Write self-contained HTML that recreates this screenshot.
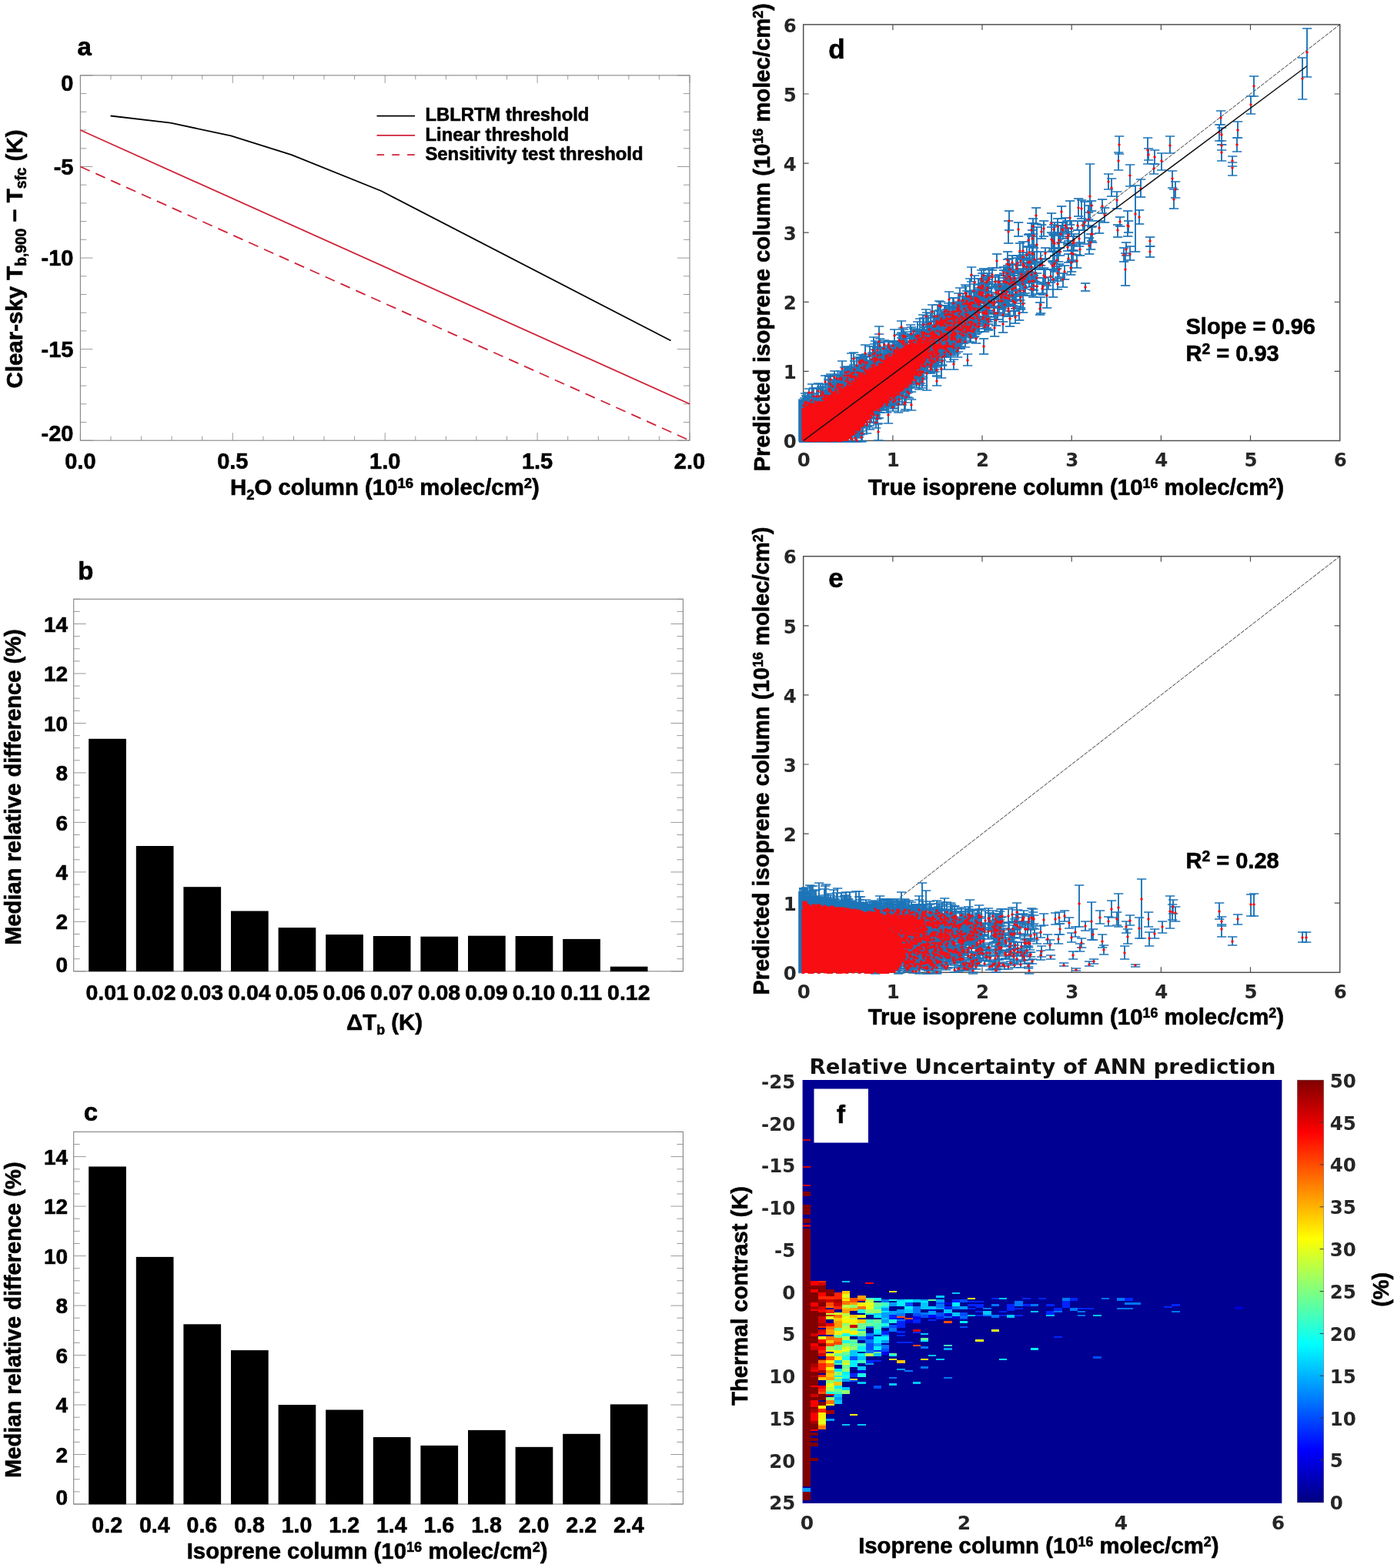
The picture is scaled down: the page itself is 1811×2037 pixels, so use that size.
<!DOCTYPE html>
<html lang="en">
<head>
<meta charset="utf-8">
<title>Figure: isoprene retrieval thresholds, sensitivity and ANN uncertainty</title>
<style>
html,body{margin:0;padding:0;background:#fff;}
body{width:1811px;height:2037px;overflow:hidden;}
svg{display:block;}
text{white-space:pre;}
</style>
</head>
<body>
<svg width="1811" height="2037" viewBox="0 0 1811 2037">
<rect width="1811" height="2037" fill="#fff"/>
<g id="panel-a">
<path d="M104.4 572.2v-10M104.4 97.9v10M144 572.2v-5.5M144 97.9v5.5M183.6 572.2v-5.5M183.6 97.9v5.5M223.1 572.2v-5.5M223.1 97.9v5.5M262.7 572.2v-5.5M262.7 97.9v5.5M302.3 572.2v-10M302.3 97.9v10M341.9 572.2v-5.5M341.9 97.9v5.5M381.5 572.2v-5.5M381.5 97.9v5.5M421 572.2v-5.5M421 97.9v5.5M460.6 572.2v-5.5M460.6 97.9v5.5M500.2 572.2v-10M500.2 97.9v10M539.8 572.2v-5.5M539.8 97.9v5.5M579.4 572.2v-5.5M579.4 97.9v5.5M618.9 572.2v-5.5M618.9 97.9v5.5M658.5 572.2v-5.5M658.5 97.9v5.5M698.1 572.2v-10M698.1 97.9v10M737.7 572.2v-5.5M737.7 97.9v5.5M777.3 572.2v-5.5M777.3 97.9v5.5M816.8 572.2v-5.5M816.8 97.9v5.5M856.4 572.2v-5.5M856.4 97.9v5.5M896 572.2v-10M896 97.9v10M104.4 97.9h16M896 97.9h-16M104.4 121.6h8M896 121.6h-8M104.4 145.3h8M896 145.3h-8M104.4 169h8M896 169h-8M104.4 192.8h8M896 192.8h-8M104.4 216.5h16M896 216.5h-16M104.4 240.2h8M896 240.2h-8M104.4 263.9h8M896 263.9h-8M104.4 287.6h8M896 287.6h-8M104.4 311.3h8M896 311.3h-8M104.4 335.1h16M896 335.1h-16M104.4 358.8h8M896 358.8h-8M104.4 382.5h8M896 382.5h-8M104.4 406.2h8M896 406.2h-8M104.4 429.9h8M896 429.9h-8M104.4 453.6h16M896 453.6h-16M104.4 477.3h8M896 477.3h-8M104.4 501.1h8M896 501.1h-8M104.4 524.8h8M896 524.8h-8M104.4 548.5h8M896 548.5h-8M104.4 572.2h16M896 572.2h-16" stroke="#9a9a9a" stroke-width="1" fill="none"/>
<rect x="104.4" y="97.9" width="791.6" height="474.3" fill="none" stroke="#858585" stroke-width="1.1"/>
<polyline points="143.6,150.5 221.6,159.6 299.9,176.4 378.7,201.1 495.1,248 871.5,442.5" fill="none" stroke="#000" stroke-width="1.8"/>
<line x1="104.4" y1="169" x2="896" y2="524.8" stroke="#cf2238" stroke-width="1.8"/>
<line x1="104.4" y1="216.5" x2="896" y2="572.2" stroke="#cf2238" stroke-width="1.8" stroke-dasharray="13.4 8.4"/>
<line x1="489.5" y1="150.7" x2="539" y2="150.7" stroke="#000" stroke-width="1.8"/>
<line x1="489.5" y1="175.9" x2="539" y2="175.9" stroke="#cf2238" stroke-width="1.8"/>
<line x1="489.5" y1="201.2" x2="539" y2="201.2" stroke="#cf2238" stroke-width="1.8" stroke-dasharray="9.6 10.2"/>
<text x="552.5" y="157" font-family="Liberation Sans, sans-serif" font-weight="bold" font-size="23.8" text-anchor="start" fill="#000" stroke="#000" stroke-width="0.6" stroke-linejoin="round">LBLRTM threshold</text>
<text x="552.5" y="183" font-family="Liberation Sans, sans-serif" font-weight="bold" font-size="23.8" text-anchor="start" fill="#000" stroke="#000" stroke-width="0.6" stroke-linejoin="round">Linear threshold</text>
<text x="552.5" y="207.9" font-family="Liberation Sans, sans-serif" font-weight="bold" font-size="23.8" text-anchor="start" fill="#000" stroke="#000" stroke-width="0.6" stroke-linejoin="round">Sensitivity test threshold</text>
<text x="104.4" y="609.3" font-family="Liberation Sans, sans-serif" font-weight="bold" font-size="29" text-anchor="middle" fill="#000" stroke="#000" stroke-width="0.6" stroke-linejoin="round">0.0</text>
<text x="302.3" y="609.3" font-family="Liberation Sans, sans-serif" font-weight="bold" font-size="29" text-anchor="middle" fill="#000" stroke="#000" stroke-width="0.6" stroke-linejoin="round">0.5</text>
<text x="500.2" y="609.3" font-family="Liberation Sans, sans-serif" font-weight="bold" font-size="29" text-anchor="middle" fill="#000" stroke="#000" stroke-width="0.6" stroke-linejoin="round">1.0</text>
<text x="698.1" y="609.3" font-family="Liberation Sans, sans-serif" font-weight="bold" font-size="29" text-anchor="middle" fill="#000" stroke="#000" stroke-width="0.6" stroke-linejoin="round">1.5</text>
<text x="896" y="609.3" font-family="Liberation Sans, sans-serif" font-weight="bold" font-size="29" text-anchor="middle" fill="#000" stroke="#000" stroke-width="0.6" stroke-linejoin="round">2.0</text>
<text x="95.5" y="118.4" font-family="Liberation Sans, sans-serif" font-weight="bold" font-size="29" text-anchor="end" fill="#000" stroke="#000" stroke-width="0.6" stroke-linejoin="round">0</text>
<text x="95.5" y="226.8" font-family="Liberation Sans, sans-serif" font-weight="bold" font-size="29" text-anchor="end" fill="#000" stroke="#000" stroke-width="0.6" stroke-linejoin="round">-5</text>
<text x="95.5" y="345.4" font-family="Liberation Sans, sans-serif" font-weight="bold" font-size="29" text-anchor="end" fill="#000" stroke="#000" stroke-width="0.6" stroke-linejoin="round">-10</text>
<text x="95.5" y="463.9" font-family="Liberation Sans, sans-serif" font-weight="bold" font-size="29" text-anchor="end" fill="#000" stroke="#000" stroke-width="0.6" stroke-linejoin="round">-15</text>
<text x="95.5" y="573.4" font-family="Liberation Sans, sans-serif" font-weight="bold" font-size="29" text-anchor="end" fill="#000" stroke="#000" stroke-width="0.6" stroke-linejoin="round">-20</text>
<text x="499.9" y="643" font-family="Liberation Sans, sans-serif" font-weight="bold" font-size="29.4" text-anchor="middle" fill="#000" stroke="#000" stroke-width="0.6" stroke-linejoin="round" textLength="402" lengthAdjust="spacingAndGlyphs"><tspan>H</tspan><tspan font-size="18.5" dy="5.5">2</tspan><tspan dy="-5.5">O column (10</tspan><tspan font-size="18.5" dy="-8.8">16</tspan><tspan dy="8.8"> molec/cm</tspan><tspan font-size="18.5" dy="-8.8">2</tspan><tspan dy="8.8">)</tspan></text>
<text transform="translate(29 336.5) rotate(-90)" font-family="Liberation Sans, sans-serif" font-weight="bold" font-size="30" text-anchor="middle" fill="#000" stroke="#000" stroke-width="0.6" stroke-linejoin="round" textLength="336" lengthAdjust="spacingAndGlyphs"><tspan>Clear-sky T</tspan><tspan font-size="19.5" dy="5">b,900</tspan><tspan dy="-5"> − T</tspan><tspan font-size="19.5" dy="5">sfc</tspan><tspan dy="-5"> (K)</tspan></text>
<text x="100.6" y="72" font-family="Liberation Sans, sans-serif" font-weight="bold" font-size="33" text-anchor="start" fill="#000" stroke="#000" stroke-width="0.6" stroke-linejoin="round">a</text>
</g>
<g id="panel-b">
<path d="M95.7 1261.8h16M887.4 1261.8h-16M95.7 1245.7h8M887.4 1245.7h-8M95.7 1229.6h8M887.4 1229.6h-8M95.7 1213.5h8M887.4 1213.5h-8M95.7 1197.3h16M887.4 1197.3h-16M95.7 1181.2h8M887.4 1181.2h-8M95.7 1165.1h8M887.4 1165.1h-8M95.7 1149h8M887.4 1149h-8M95.7 1132.9h16M887.4 1132.9h-16M95.7 1116.8h8M887.4 1116.8h-8M95.7 1100.6h8M887.4 1100.6h-8M95.7 1084.5h8M887.4 1084.5h-8M95.7 1068.4h16M887.4 1068.4h-16M95.7 1052.3h8M887.4 1052.3h-8M95.7 1036.2h8M887.4 1036.2h-8M95.7 1020h8M887.4 1020h-8M95.7 1003.9h16M887.4 1003.9h-16M95.7 987.8h8M887.4 987.8h-8M95.7 971.7h8M887.4 971.7h-8M95.7 955.6h8M887.4 955.6h-8M95.7 939.5h16M887.4 939.5h-16M95.7 923.3h8M887.4 923.3h-8M95.7 907.2h8M887.4 907.2h-8M95.7 891.1h8M887.4 891.1h-8M95.7 875h16M887.4 875h-16M95.7 858.9h8M887.4 858.9h-8M95.7 842.8h8M887.4 842.8h-8M95.7 826.6h8M887.4 826.6h-8M95.7 810.5h16M887.4 810.5h-16M95.7 794.4h8M887.4 794.4h-8M95.7 778.3h8M887.4 778.3h-8" stroke="#9a9a9a" stroke-width="1" fill="none"/>
<rect x="95.7" y="778.3" width="791.7" height="483.5" fill="none" stroke="#858585" stroke-width="1.1"/>
<rect x="115.2" y="959.8" width="48.7" height="302.3" fill="#000"/>
<rect x="176.8" y="1099" width="48.7" height="163.1" fill="#000"/>
<rect x="238.4" y="1152.2" width="48.7" height="109.9" fill="#000"/>
<rect x="300" y="1183.5" width="48.7" height="78.6" fill="#000"/>
<rect x="361.6" y="1205.1" width="48.7" height="57" fill="#000"/>
<rect x="423.2" y="1214.1" width="48.7" height="48" fill="#000"/>
<rect x="484.8" y="1216" width="48.7" height="46.1" fill="#000"/>
<rect x="546.4" y="1216.7" width="48.7" height="45.4" fill="#000"/>
<rect x="608" y="1215.7" width="48.7" height="46.4" fill="#000"/>
<rect x="669.6" y="1216" width="48.7" height="46.1" fill="#000"/>
<rect x="731.2" y="1219.9" width="48.7" height="42.2" fill="#000"/>
<rect x="792.8" y="1255.7" width="48.7" height="6.4" fill="#000"/>
<text x="139.2" y="1298.7" font-family="Liberation Sans, sans-serif" font-weight="bold" font-size="28.5" text-anchor="middle" fill="#000" stroke="#000" stroke-width="0.6" stroke-linejoin="round">0.01</text>
<text x="200.8" y="1298.7" font-family="Liberation Sans, sans-serif" font-weight="bold" font-size="28.5" text-anchor="middle" fill="#000" stroke="#000" stroke-width="0.6" stroke-linejoin="round">0.02</text>
<text x="262.4" y="1298.7" font-family="Liberation Sans, sans-serif" font-weight="bold" font-size="28.5" text-anchor="middle" fill="#000" stroke="#000" stroke-width="0.6" stroke-linejoin="round">0.03</text>
<text x="324" y="1298.7" font-family="Liberation Sans, sans-serif" font-weight="bold" font-size="28.5" text-anchor="middle" fill="#000" stroke="#000" stroke-width="0.6" stroke-linejoin="round">0.04</text>
<text x="385.6" y="1298.7" font-family="Liberation Sans, sans-serif" font-weight="bold" font-size="28.5" text-anchor="middle" fill="#000" stroke="#000" stroke-width="0.6" stroke-linejoin="round">0.05</text>
<text x="447.2" y="1298.7" font-family="Liberation Sans, sans-serif" font-weight="bold" font-size="28.5" text-anchor="middle" fill="#000" stroke="#000" stroke-width="0.6" stroke-linejoin="round">0.06</text>
<text x="508.8" y="1298.7" font-family="Liberation Sans, sans-serif" font-weight="bold" font-size="28.5" text-anchor="middle" fill="#000" stroke="#000" stroke-width="0.6" stroke-linejoin="round">0.07</text>
<text x="570.4" y="1298.7" font-family="Liberation Sans, sans-serif" font-weight="bold" font-size="28.5" text-anchor="middle" fill="#000" stroke="#000" stroke-width="0.6" stroke-linejoin="round">0.08</text>
<text x="632" y="1298.7" font-family="Liberation Sans, sans-serif" font-weight="bold" font-size="28.5" text-anchor="middle" fill="#000" stroke="#000" stroke-width="0.6" stroke-linejoin="round">0.09</text>
<text x="693.6" y="1298.7" font-family="Liberation Sans, sans-serif" font-weight="bold" font-size="28.5" text-anchor="middle" fill="#000" stroke="#000" stroke-width="0.6" stroke-linejoin="round">0.10</text>
<text x="755.2" y="1298.7" font-family="Liberation Sans, sans-serif" font-weight="bold" font-size="28.5" text-anchor="middle" fill="#000" stroke="#000" stroke-width="0.6" stroke-linejoin="round">0.11</text>
<text x="816.8" y="1298.7" font-family="Liberation Sans, sans-serif" font-weight="bold" font-size="28.5" text-anchor="middle" fill="#000" stroke="#000" stroke-width="0.6" stroke-linejoin="round">0.12</text>
<text x="88.1" y="1262.7" font-family="Liberation Sans, sans-serif" font-weight="bold" font-size="28" text-anchor="end" fill="#000" stroke="#000" stroke-width="0.6" stroke-linejoin="round">0</text>
<text x="88.1" y="1207.4" font-family="Liberation Sans, sans-serif" font-weight="bold" font-size="28" text-anchor="end" fill="#000" stroke="#000" stroke-width="0.6" stroke-linejoin="round">2</text>
<text x="88.1" y="1143" font-family="Liberation Sans, sans-serif" font-weight="bold" font-size="28" text-anchor="end" fill="#000" stroke="#000" stroke-width="0.6" stroke-linejoin="round">4</text>
<text x="88.1" y="1078.5" font-family="Liberation Sans, sans-serif" font-weight="bold" font-size="28" text-anchor="end" fill="#000" stroke="#000" stroke-width="0.6" stroke-linejoin="round">6</text>
<text x="88.1" y="1014" font-family="Liberation Sans, sans-serif" font-weight="bold" font-size="28" text-anchor="end" fill="#000" stroke="#000" stroke-width="0.6" stroke-linejoin="round">8</text>
<text x="88.1" y="949.6" font-family="Liberation Sans, sans-serif" font-weight="bold" font-size="28" text-anchor="end" fill="#000" stroke="#000" stroke-width="0.6" stroke-linejoin="round">10</text>
<text x="88.1" y="885.1" font-family="Liberation Sans, sans-serif" font-weight="bold" font-size="28" text-anchor="end" fill="#000" stroke="#000" stroke-width="0.6" stroke-linejoin="round">12</text>
<text x="88.1" y="820.6" font-family="Liberation Sans, sans-serif" font-weight="bold" font-size="28" text-anchor="end" fill="#000" stroke="#000" stroke-width="0.6" stroke-linejoin="round">14</text>
<text x="499.5" y="1337.6" font-family="Liberation Sans, sans-serif" font-weight="bold" font-size="29.2" text-anchor="middle" fill="#000" stroke="#000" stroke-width="0.6" stroke-linejoin="round" textLength="99" lengthAdjust="spacingAndGlyphs"><tspan>ΔT</tspan><tspan font-size="17.6" dy="6.2">b</tspan><tspan dy="-6.2"> (K)</tspan></text>
<text transform="translate(26.9 1022.5) rotate(-90)" font-family="Liberation Sans, sans-serif" font-weight="bold" font-size="29.2" text-anchor="middle" fill="#000" stroke="#000" stroke-width="0.6" stroke-linejoin="round" textLength="410.6" lengthAdjust="spacingAndGlyphs">Median relative difference (%)</text>
<text x="101.2" y="753.2" font-family="Liberation Sans, sans-serif" font-weight="bold" font-size="33" text-anchor="start" fill="#000" stroke="#000" stroke-width="0.6" stroke-linejoin="round">b</text>
</g>
<g id="panel-c">
<path d="M95.7 1954h16M887.4 1954h-16M95.7 1937.9h8M887.4 1937.9h-8M95.7 1921.8h8M887.4 1921.8h-8M95.7 1905.6h8M887.4 1905.6h-8M95.7 1889.5h16M887.4 1889.5h-16M95.7 1873.4h8M887.4 1873.4h-8M95.7 1857.3h8M887.4 1857.3h-8M95.7 1841.2h8M887.4 1841.2h-8M95.7 1825h16M887.4 1825h-16M95.7 1808.9h8M887.4 1808.9h-8M95.7 1792.8h8M887.4 1792.8h-8M95.7 1776.7h8M887.4 1776.7h-8M95.7 1760.6h16M887.4 1760.6h-16M95.7 1744.4h8M887.4 1744.4h-8M95.7 1728.3h8M887.4 1728.3h-8M95.7 1712.2h8M887.4 1712.2h-8M95.7 1696.1h16M887.4 1696.1h-16M95.7 1680h8M887.4 1680h-8M95.7 1663.8h8M887.4 1663.8h-8M95.7 1647.7h8M887.4 1647.7h-8M95.7 1631.6h16M887.4 1631.6h-16M95.7 1615.5h8M887.4 1615.5h-8M95.7 1599.4h8M887.4 1599.4h-8M95.7 1583.2h8M887.4 1583.2h-8M95.7 1567.1h16M887.4 1567.1h-16M95.7 1551h8M887.4 1551h-8M95.7 1534.9h8M887.4 1534.9h-8M95.7 1518.8h8M887.4 1518.8h-8M95.7 1502.6h16M887.4 1502.6h-16M95.7 1486.5h8M887.4 1486.5h-8M95.7 1470.4h8M887.4 1470.4h-8" stroke="#9a9a9a" stroke-width="1" fill="none"/>
<rect x="95.7" y="1470.4" width="791.7" height="483.6" fill="none" stroke="#858585" stroke-width="1.1"/>
<rect x="115.2" y="1515.5" width="48.7" height="438.8" fill="#000"/>
<rect x="176.8" y="1632.9" width="48.7" height="321.4" fill="#000"/>
<rect x="238.4" y="1720.3" width="48.7" height="234" fill="#000"/>
<rect x="300" y="1754.1" width="48.7" height="200.2" fill="#000"/>
<rect x="361.6" y="1825" width="48.7" height="129.3" fill="#000"/>
<rect x="423.2" y="1831.5" width="48.7" height="122.8" fill="#000"/>
<rect x="484.8" y="1867" width="48.7" height="87.3" fill="#000"/>
<rect x="546.4" y="1877.9" width="48.7" height="76.4" fill="#000"/>
<rect x="608" y="1857.9" width="48.7" height="96.4" fill="#000"/>
<rect x="669.6" y="1879.8" width="48.7" height="74.5" fill="#000"/>
<rect x="731.2" y="1862.8" width="48.7" height="91.5" fill="#000"/>
<rect x="792.8" y="1824.4" width="48.7" height="129.9" fill="#000"/>
<text x="139.2" y="1990.6" font-family="Liberation Sans, sans-serif" font-weight="bold" font-size="28.6" text-anchor="middle" fill="#000" stroke="#000" stroke-width="0.6" stroke-linejoin="round">0.2</text>
<text x="200.8" y="1990.6" font-family="Liberation Sans, sans-serif" font-weight="bold" font-size="28.6" text-anchor="middle" fill="#000" stroke="#000" stroke-width="0.6" stroke-linejoin="round">0.4</text>
<text x="262.4" y="1990.6" font-family="Liberation Sans, sans-serif" font-weight="bold" font-size="28.6" text-anchor="middle" fill="#000" stroke="#000" stroke-width="0.6" stroke-linejoin="round">0.6</text>
<text x="324" y="1990.6" font-family="Liberation Sans, sans-serif" font-weight="bold" font-size="28.6" text-anchor="middle" fill="#000" stroke="#000" stroke-width="0.6" stroke-linejoin="round">0.8</text>
<text x="385.6" y="1990.6" font-family="Liberation Sans, sans-serif" font-weight="bold" font-size="28.6" text-anchor="middle" fill="#000" stroke="#000" stroke-width="0.6" stroke-linejoin="round">1.0</text>
<text x="447.2" y="1990.6" font-family="Liberation Sans, sans-serif" font-weight="bold" font-size="28.6" text-anchor="middle" fill="#000" stroke="#000" stroke-width="0.6" stroke-linejoin="round">1.2</text>
<text x="508.8" y="1990.6" font-family="Liberation Sans, sans-serif" font-weight="bold" font-size="28.6" text-anchor="middle" fill="#000" stroke="#000" stroke-width="0.6" stroke-linejoin="round">1.4</text>
<text x="570.4" y="1990.6" font-family="Liberation Sans, sans-serif" font-weight="bold" font-size="28.6" text-anchor="middle" fill="#000" stroke="#000" stroke-width="0.6" stroke-linejoin="round">1.6</text>
<text x="632" y="1990.6" font-family="Liberation Sans, sans-serif" font-weight="bold" font-size="28.6" text-anchor="middle" fill="#000" stroke="#000" stroke-width="0.6" stroke-linejoin="round">1.8</text>
<text x="693.6" y="1990.6" font-family="Liberation Sans, sans-serif" font-weight="bold" font-size="28.6" text-anchor="middle" fill="#000" stroke="#000" stroke-width="0.6" stroke-linejoin="round">2.0</text>
<text x="755.2" y="1990.6" font-family="Liberation Sans, sans-serif" font-weight="bold" font-size="28.6" text-anchor="middle" fill="#000" stroke="#000" stroke-width="0.6" stroke-linejoin="round">2.2</text>
<text x="816.8" y="1990.6" font-family="Liberation Sans, sans-serif" font-weight="bold" font-size="28.6" text-anchor="middle" fill="#000" stroke="#000" stroke-width="0.6" stroke-linejoin="round">2.4</text>
<text x="88.1" y="1954.9" font-family="Liberation Sans, sans-serif" font-weight="bold" font-size="28" text-anchor="end" fill="#000" stroke="#000" stroke-width="0.6" stroke-linejoin="round">0</text>
<text x="88.1" y="1899.6" font-family="Liberation Sans, sans-serif" font-weight="bold" font-size="28" text-anchor="end" fill="#000" stroke="#000" stroke-width="0.6" stroke-linejoin="round">2</text>
<text x="88.1" y="1835.1" font-family="Liberation Sans, sans-serif" font-weight="bold" font-size="28" text-anchor="end" fill="#000" stroke="#000" stroke-width="0.6" stroke-linejoin="round">4</text>
<text x="88.1" y="1770.7" font-family="Liberation Sans, sans-serif" font-weight="bold" font-size="28" text-anchor="end" fill="#000" stroke="#000" stroke-width="0.6" stroke-linejoin="round">6</text>
<text x="88.1" y="1706.2" font-family="Liberation Sans, sans-serif" font-weight="bold" font-size="28" text-anchor="end" fill="#000" stroke="#000" stroke-width="0.6" stroke-linejoin="round">8</text>
<text x="88.1" y="1641.7" font-family="Liberation Sans, sans-serif" font-weight="bold" font-size="28" text-anchor="end" fill="#000" stroke="#000" stroke-width="0.6" stroke-linejoin="round">10</text>
<text x="88.1" y="1577.2" font-family="Liberation Sans, sans-serif" font-weight="bold" font-size="28" text-anchor="end" fill="#000" stroke="#000" stroke-width="0.6" stroke-linejoin="round">12</text>
<text x="88.1" y="1512.7" font-family="Liberation Sans, sans-serif" font-weight="bold" font-size="28" text-anchor="end" fill="#000" stroke="#000" stroke-width="0.6" stroke-linejoin="round">14</text>
<text x="477.1" y="2025.2" font-family="Liberation Sans, sans-serif" font-weight="bold" font-size="29.2" text-anchor="middle" fill="#000" stroke="#000" stroke-width="0.6" stroke-linejoin="round" textLength="468.8" lengthAdjust="spacingAndGlyphs"><tspan>Isoprene column (10</tspan><tspan font-size="18" dy="-8.8">16</tspan><tspan dy="8.8"> molec/cm</tspan><tspan font-size="18" dy="-8.8">2</tspan><tspan dy="8.8">)</tspan></text>
<text transform="translate(26.9 1714.7) rotate(-90)" font-family="Liberation Sans, sans-serif" font-weight="bold" font-size="29.2" text-anchor="middle" fill="#000" stroke="#000" stroke-width="0.6" stroke-linejoin="round" textLength="410.6" lengthAdjust="spacingAndGlyphs">Median relative difference (%)</text>
<text x="108.7" y="1455.5" font-family="Liberation Sans, sans-serif" font-weight="bold" font-size="33" text-anchor="start" fill="#000" stroke="#000" stroke-width="0.6" stroke-linejoin="round">c</text>
</g>
<g id="panel-d">
<path d="M1159.9 572.5v-7M1159.9 31.9v7M1043.7 482.4h7M1740.7 482.4h-7M1276 572.5v-7M1276 31.9v7M1043.7 392.3h7M1740.7 392.3h-7M1392.2 572.5v-7M1392.2 31.9v7M1043.7 302.2h7M1740.7 302.2h-7M1508.4 572.5v-7M1508.4 31.9v7M1043.7 212.1h7M1740.7 212.1h-7M1624.5 572.5v-7M1624.5 31.9v7M1043.7 122h7M1740.7 122h-7" stroke="#505050" stroke-width="1.2" fill="none"/>
<rect x="1043.7" y="31.9" width="697" height="540.6" fill="none" stroke="#505050" stroke-width="1.5"/>
<line x1="1043.7" y1="572.5" x2="1740.7" y2="31.9" stroke="#222" stroke-width="0.9" stroke-dasharray="5 1.6"/>
<clipPath id="cd"><rect x="1035.7" y="31.9" width="705" height="543.6"/></clipPath>
<g clip-path="url(#cd)">
<marker id="capd" markerUnits="userSpaceOnUse" markerWidth="13" markerHeight="2" refX="6.3" refY="1" orient="0"><path d="M0 1h12.6" stroke="#1d74b8" stroke-width="1.7"/></marker>
<path d="m1044 521v13m0 12v28m0-21v21m0-19v18m0-20v21m0-18v17m0-19v20m0-17v16m0-16v17m0-31v31m0-12v11m0-17v18m0-34v34m0-13v13m0-12v12m0-12v12m0-15v15m0-11v11m0-12v12m0-24v24m0-15v15m0-10v10m0-15v15m0-15v15m0-15v15m0-14v14m0-9v9m0-12v12m0-15v15m0-11v11m0-14v14m0-12v12m0-10v10m0-10v10m0-14v14m0-9v9m0-16v16m0-11v11m0-9v9m0-10v10m0-18v18m0-9v9m0-9v9m0-13v13m0-14v14m0-9v9m0-14v14m0-14v14m0-13v13m0-9v9m0-11v11m0-15v15m0-13v13m0-13v13m0-12v12m0-8v8m0-8v8m0-15v15m0-10v10m0-11v11m0-9v9m0-10v10m0-14v14m0-11v11m0-12v12m0-12v12m0-24v24m0-12v12m0-12v12m0-13v13m0-12v12m0-7v7m0-14v14m0-14v14m0-16v16m0-11v11m0-9v9m0-12v12m0-8v8m0-11v11m0-11v11m0-12v12m0-14v14m0-12v12m0-12v12m0-7v7m0-8v8m0-9v9m0-8v8m0-9v9m0-14v14m0-8v8m0-9v9m0-11v11m0-13v13m0-9v9m0-8v8m0-14v14m0-12v12m0-10v10m0-13v13m0-7v7m0-9v9m0-8v8m0-8v8m0-13v13m0-7v7m0-7v7m0-12v12m0-11v11m0-13v13m0-8v8m0-10v10m0-8v8m0-11v11m0-13v13m0-11v11m0-8v8m0-9v9m0-9v9m1-57v17m0-14v22m0-14v15m0-17v20m0-20v22m0-20v19m0-12v39m0-26v26m0-22v21m0-22v22m0-22v23m0-20v20m0-21v21m0-19v18m0-20v21m0-17v17m0-15v14m0-17v18m0-16v16m0-19v19m0-18v18m0-15v15m0-14v14m0-17v17m0-13v12m0-14v15m0-13v13m0-13v13m0-14v14m0-16v16m0-17v17m0-16v16m0-12v12m0-14v14m0-13v13m0-11v11m0-14v14m0-10v10m0-15v15m0-10v10m0-10v10m0-30v30m0-10v10m0-12v12m0-15v15m0-12v12m0-12v12m0-15v15m0-10v10m0-10v10m0-33v33m0-11v11m0-15v15m0-14v14m0-14v14m0-10v10m0-9v9m0-12v12m0-10v10m0-9v9m0-12v12m0-9v9m0-10v10m0-13v13m0-10v10m0-11v11m0-13v13m0-15v15m0-14v14m0-10v10m0-12v12m0-9v9m0-11v11m0-8v8m0-12v12m0-13v13m0-11v11m0-15v15m0-14v14m0-12v12m0-13v13m0-10v10m0-8v8m0-8v8m0-9v9m0-8v8m0-8v8m0-13v13m0-11v11m0-11v11m0-13v13m0-9v9m0-15v15m0-11v11m0-10v10m0-18v18m0-14v14m0-13v13m0-20v20m0-11v11m0-12v12m0-11v11m0-15v15m0-12v12m0-7v7m0-12v12m0-14v14m0-8v8m0-13v13m0-10v10m0-13v13m0-11v11m0-11v11m0-13v13m0-8v8m0-8v8m0-12v12m0-13v13m0-7v7m0-12v12m0-13v13m0-12v12m0-11v11m0-14v14m0-9v9m0-10v10m0-9v9m0-13v13m0-8v8m0-7v7m0-9v9m0-12v12m0-17v17m0-10v10m0-7v7m0-11v11m0-8v8m0-6v6m0-10v10m0-8v8m0-11v11m0-9v9m1-63v23m0-11v23m0-20v48m0-35v35m0-39v39m0-23v23m0-21v20m0-19v19m0-21v22m0-20v20m0-19v19m0-19v19m0-19v19m0-24v24m0-15v14m0-15v16m0-23v23m0-16v16m0-30v30m0-18v18m0-14v14m0-14v14m0-15v15m0-21v21m0-13v13m0-13v13m0-11v10m0-15v16m0-12v12m0-13v13m0-13v13m0-11v11m0-11v11m0-12v12m0-14v14m0-11v11m0-13v13m0-10v10m0-11v11m0-9v9m0-12v12m0-10v10m0-14v14m0-12v12m0-13v13m0-14v14m0-13v13m0-10v10m0-9v9m0-16v16m0-13v13m0-9v9m0-11v11m0-13v13m0-11v11m0-15v15m0-11v11m0-14v14m0-9v9m0-10v10m0-12v12m0-15v15m0-9v9m0-15v15m0-8v8m0-12v12m0-13v13m0-8v8m0-10v10m0-14v14m0-12v12m0-10v10m0-14v14m0-10v10m0-9v9m0-28v28m0-9v9m0-7v7m0-13v13m0-12v12m0-8v8m0-14v14m0-9v9m0-8v8m0-13v13m0-7v7m0-10v10m0-9v9m0-13v13m0-11v11m0-11v11m0-9v9m0-13v13m0-14v14m0-11v11m0-13v13m0-11v11m0-10v10m0-10v10m0-10v10m0-13v13m0-9v9m0-10v10m0-8v8m0-13v13m0-7v7m0-10v10m0-10v10m0-8v8m0-10v10m0-12v12m0-12v12m0-13v13m0-9v9m0-11v11m0-11v11m0-12v12m0-8v8m1-60v16m0-11v54m0-42v43m0-34v34m0-24v23m0-19v20m0-21v21m0-19v19m0-20v20m0-19v19m0-19v19m0-15v15m0-14v14m0-18v18m0-29v29m0-13v13m0-16v16m0-14v14m0-14v14m0-14v14m0-11v11m0-16v16m0-28v28m0-14v14m0-14v14m0-11v11m0-12v12m0-13v13m0-15v15m0-12v12m0-15v15m0-10v10m0-14v14m0-28v28m0-11v11m0-10v10m0-14v14m0-12v12m0-10v10m0-12v12m0-14v14m0-17v17m0-14v14m0-9v9m0-15v15m0-12v12m0-10v10m0-12v12m0-12v12m0-11v11m0-9v9m0-8v8m0-11v11m0-15v15m0-9v9m0-8v8m0-13v13m0-11v11m0-8v8m0-12v12m0-8v8m0-11v11m0-9v9m0-8v8m0-11v11m0-11v11m0-13v13m0-14v14m0-10v10m0-13v13m0-11v11m0-10v10m0-13v13m0-8v8m0-10v10m0-14v14m0-8v8m0-13v13m0-8v8m0-12v12m0-9v9m0-17v17m0-14v14m0-11v11m0-12v12m0-10v10m0-12v12m0-8v8m0-8v8m0-12v12m0-10v10m0-26v26m0-7v7m0-11v11m0-7v7m0-13v13m0-12v12m0-11v11m0-11v11m0-13v13m0-13v13m0-8v8m0-13v13m0-24v24m0-10v10m0-13v13m0-7v7m0-7v7m0-13v13m0-7v7m0-8v8m0-8v8m0-10v10m0-9v9m0-7v7m0-10v10m0-12v12m1-59v18m0-18v33m0 0v26m0-21v21m0-22v22m0-19v18m0-17v17m0-17v18m0-18v18m0-17v17m0-16v16m0-13v12m0-14v15m0-17v17m0-13v13m0-16v16m0-17v17m0-17v17m0-11v11m0-12v12m0-17v17m0-17v17m0-10v9m0-14v15m0-16v16m0-14v14m0-14v14m0-10v10m0-13v13m0-14v14m0-11v11m0-12v12m0-10v10m0-14v14m0-12v12m0-11v11m0-14v14m0-9v9m0-15v15m0-11v11m0-26v26m0-11v11m0-10v10m0-14v14m0-10v10m0-13v13m0-9v9m0-12v12m0-12v12m0-14v14m0-14v14m0-9v9m0-15v15m0-10v10m0-13v13m0-10v10m0-12v12m0-9v9m0-9v9m0-14v14m0-11v11m0-14v14m0-14v14m0-13v13m0-9v9m0-11v11m0-9v9m0-15v15m0-13v13m0-10v10m0-11v11m0-9v9m0-14v14m0-16v16m0-13v13m0-7v7m0-13v13m0-12v12m0-13v13m0-19v19m0-11v11m0-12v12m0-14v14m0-13v13m0-11v11m0-11v11m0-10v10m0-10v10m0-7v7m0-20v20m0-8v8m0-13v13m0-7v7m0-13v13m0-9v9m0-8v8m0-11v11m0-7v7m0-23v23m0-13v13m0-8v8m0-13v13m0-12v12m0-11v11m0-9v9m0-12v12m0-12v12m0-8v8m0-12v12m0-8v8m0-10v10m0-12v12m0-13v13m0-11v11m0-6v6m0-17v17m0-13v13m0-28v28m0-7v7m1-64v50m0-34v19m0-16v45m0-44v44m0-22v21m0-21v22m0-22v22m0-20v20m0-31v31m0-18v18m0-33v33m0-17v17m0-14v14m0-17v17m0-12v12m0-11v10m0-15v16m0-12v12m0-16v16m0-11v11m0-16v16m0-10v10m0-14v14m0-15v15m0-11v11m0-14v14m0-13v13m0-10v10m0-8v8m0-11v11m0-12v12m0-11v11m0-11v11m0-15v15m0-26v26m0-11v11m0-13v13m0-9v9m0-15v15m0-13v13m0-12v12m0-10v10m0-12v12m0-8v8m0-11v11m0-11v11m0-13v13m0-9v9m0-10v10m0-8v8m0-14v14m0-8v8m0-10v10m0-12v12m0-12v12m0-11v11m0-13v13m0-13v13m0-8v8m0-9v9m0-9v9m0-12v12m0-9v9m0-10v10m0-12v12m0-14v14m0-10v10m0-8v8m0-11v11m0-11v11m0-9v9m0-8v8m0-14v14m0-12v12m0-11v11m0-14v14m0-16v16m0-8v8m0-10v10m0-8v8m0-12v12m0-13v13m0-7v7m0-8v8m0-7v7m0-7v7m0-13v13m0-8v8m0-14v14m0-7v7m0-11v11m0-11v11m0-8v8m1-57v54m0-38v41m0-41v41m0-22v22m0-20v20m0-18v18m0-19v19m0-17v17m0-33v33m0-18v18m0-17v17m0-31v31m0-18v18m0-21v21m0-14v14m0-16v16m0-16v16m0-14v14m0-17v17m0-14v14m0-13v13m0-11v11m0-15v15m0-11v11m0-12v12m0-10v10m0-13v13m0-11v11m0-15v15m0-13v13m0-10v10m0-9v9m0-15v15m0-11v11m0-10v10m0-13v13m0-15v15m0-10v10m0-8v8m0-12v12m0-9v9m0-17v17m0-11v11m0-14v14m0-14v14m0-9v9m0-9v9m0-12v12m0-10v10m0-11v11m0-8v8m0-14v14m0-11v11m0-12v12m0-9v9m0-12v12m0-13v13m0-15v15m0-8v8m0-9v9m0-8v8m0-14v14m0-8v8m0-14v14m0-13v13m0-13v13m0-12v12m0-14v14m0-9v9m0-29v29m0-11v11m0-8v8m0-7v7m0-9v9m0-9v9m0-14v14m0-13v13m0-12v12m0-8v8m0-13v13m0-10v10m0-30v30m0-12v12m0-7v7m0-13v13m0-12v12m0-7v7m0-8v8m0-11v11m0-10v10m0-11v11m0-13v13m0-12v12m0-12v12m1-69v10m0 2v20m0-16v16m0 16v21m0-35v35m0-20v20m0-20v20m0-19v19m0-20v20m0-18v18m0-18v18m0-18v18m0-16v16m0-30v30m0-15v15m0-15v15m0-17v17m0-18v18m0-17v17m0-14v14m0-16v16m0-15v15m0-19v19m0-12v12m0-14v14m0-13v13m0-11v11m0-16v16m0-12v12m0-16v16m0-12v12m0-13v13m0-16v16m0-26v26m0-15v15m0-14v14m0-13v13m0-13v13m0-10v10m0-9v9m0-12v12m0-14v14m0-15v15m0-13v13m0-13v13m0-15v15m0-11v11m0-12v12m0-15v15m0-11v11m0-11v11m0-10v10m0-13v13m0-13v13m0-9v9m0-11v11m0-9v9m0-14v14m0-11v11m0-10v10m0-14v14m0-12v12m0-13v13m0-14v14m0-8v8m0-9v9m0-10v10m0-14v14m0-17v17m0-14v14m0-12v12m0-11v11m0-8v8m0-8v8m0-8v8m0-8v8m0-9v9m0-8v8m0-14v14m0-12v12m0-12v12m0-12v12m0-8v8m0-11v11m0-13v13m0-12v12m0-13v13m0-8v8m0-13v13m0-13v13m0-11v11m0-10v10m0-8v8m0-9v9m0-12v12m0-13v13m0-8v8m0-8v8m0-13v13m0-10v10m1-37v37m0-22v22m0-21v21m0-20v20m0-20v20m0-19v19m0-18v18m0-19v19m0-18v18m0-22v22m0-18v18m0-17v17m0-17v17m0-16v16m0-17v17m0-18v18m0-35v35m0-18v18m0-14v14m0-17v17m0-16v16m0-14v14m0-13v13m0-11v11m0-12v12m0-13v13m0-12v12m0-16v16m0-10v10m0-12v12m0-12v12m0-9v9m0-14v14m0-13v13m0-19v19m0-9v9m0-11v11m0-15v15m0-15v15m0-15v15m0-10v10m0-15v15m0-11v11m0-10v10m0-11v11m0-10v10m0-27v27m0-10v10m0-14v14m0-14v14m0-13v13m0-15v15m0-13v13m0-14v14m0-13v13m0-8v8m0-8v8m0-13v13m0-13v13m0-8v8m0-10v10m0-14v14m0-13v13m0-12v12m0-12v12m0-11v11m0-9v9m0-12v12m0-12v12m0-12v12m0-8v8m0-9v9m0-9v9m0-9v9m0-12v12m0-20v20m0-25v25m0-13v13m0-11v11m0-14v14m0-9v9m0-13v13m0-9v9m0-6v6m0-12v12m0-7v7m0-11v11m0-11v11m0-7v7m0-10v10m1-36v36m0-20v20m0-21v21m0-20v20m0-20v20m0-25v25m0-32v32m0-17v17m0-19v19m0-17v17m0-16v16m0-29v29m0-13v13m0-16v16m0-13v13m0-16v16m0-17v17m0-14v14m0-20v20m0-11v11m0-11v11m0-16v16m0-14v14m0-14v14m0-9v9m0-16v16m0-11v11m0-9v9m0-12v12m0-14v14m0-13v13m0-11v11m0-13v13m0-10v10m0-12v12m0-15v15m0-20v20m0-9v9m0-10v10m0-14v14m0-13v13m0-12v12m0-11v11m0-15v15m0-12v12m0-9v9m0-12v12m0-11v11m0-10v10m0-12v12m0-9v9m0-12v12m0-13v13m0-11v11m0-13v13m0-11v11m0-11v11m0-13v13m0-12v12m0-13v13m0-10v10m0-9v9m0-8v8m0-11v11m0-9v9m0-12v12m0-11v11m0-11v11m0-13v13m0-9v9m0-12v12m0-10v10m0-12v12m0-8v8m0-8v8m1-62v15m0 4v43m0-22v22m0-21v21m0-23v23m0-19v19m0-18v18m0-16v16m0-17v17m0-33v33m0-16v16m0-13v13m0-14v14m0-13v13m0-10v10m0-15v15m0-13v13m0-10v10m0-11v11m0-8v8m0-26v26m0-12v12m0-15v15m0-15v15m0-14v14m0-11v11m0-13v13m0-26v26m0-13v13m0-14v14m0-15v15m0-10v10m0-11v11m0-8v8m0-10v10m0-12v12m0-27v27m0-8v8m0-12v12m0-12v12m0-7v7m0-8v8m0-13v13m0-13v13m0-11v11m0-8v8m0-12v12m0-10v10m0-18v18m0-10v10m0-12v12m0-6v6m1-75v21m0 1v12m0-13v21m0-18v15m0-18v21m0-18v21m0-11v41m0-43v43m0-41v41m0-33v33m0-29v29m0-22v22m0-20v20m0-20v20m0-16v16m0-18v18m0-16v16m0-13v13m0-12v12m0-13v13m0-13v13m0-14v14m0-15v15m0-15v15m0-9v9m0-15v15m0-12v12m0-14v14m0-13v13m0-14v14m0-13v13m0-9v9m0-13v13m0-10v10m0-14v14m0-17v17m0-13v13m0-10v10m0-9v9m0-19v19m0-12v12m0-26v26m0-9v9m0-13v13m0-10v10m0-12v12m0-8v8m0-10v10m0-12v12m0-10v10m0-13v13m0-13v13m0-14v14m0-12v12m0-14v14m0-10v10m0-16v16m0-12v12m0-9v9m0-12v12m0-7v7m0-11v11m0-10v10m0-13v13m0-8v8m0-8v8m0-6v6m0-13v13m0-9v9m1-63v44m0-38v57m0-43v43m0-31v31m0-18v18m0-18v18m0-19v19m0-19v19m0-17v17m0-19v19m0-32v32m0-16v16m0-16v16m0-18v18m0-18v18m0-18v18m0-14v14m0-17v17m0-32v32m0-15v15m0-17v17m0-13v13m0-17v17m0-11v11m0-14v14m0-11v11m0-11v11m0-12v12m0-12v12m0-24v24m0-13v13m0-14v14m0-14v14m0-12v12m0-9v9m0-14v14m0-12v12m0-32v32m0-9v9m0-11v11m0-13v13m0-11v11m0-12v12m0-13v13m0-13v13m0-27v27m0-14v14m0-13v13m0-31v31m0-12v12m0-8v8m0-11v11m0-12v12m0-8v8m0-14v14m0-11v11m0-8v8m0-11v11m0-9v9m0-9v9m0-10v10m0-10v10m0-11v11m0-11v11m0-11v11m0-24v24m0-8v8m0-22v22m0-13v13m0-8v8m0-7v7m0-11v11m1-70v22m0-11v19m0-18v19m0-14v16m0-14v22m0-14v43m0-40v40m0-23v23m0-22v22m0-21v21m0-20v20m0-21v21m0-19v19m0-35v35m0-16v16m0-14v14m0-16v16m0-17v17m0-11v11m0-13v13m0-12v12m0-13v13m0-10v10m0-10v10m0-8v8m0-10v10m0-9v9m0-12v12m0-13v13m0-15v15m0-10v10m0-11v11m0-11v11m0-9v9m0-9v9m0-8v8m0-11v11m0-11v11m0-10v10m0-7v7m0-12v12m0-8v8m0-24v24m0-12v12m0-9v9m0-10v10m0-8v8m0-9v9m0-8v8m0-13v13m0-10v10m0-13v13m0-12v12m0-13v13m0-18v18m0-12v12m0-9v9m0-11v11m0-12v12m0-10v10m0-12v12m0-11v11m1-44v44m0-21v21m0-36v36m0-19v19m0-15v15m0-19v19m0-26v26m0-15v15m0-15v15m0-17v17m0-13v13m0-32v32m0-12v12m0-10v10m0-16v16m0-11v11m0-15v15m0-25v25m0-11v11m0-9v9m0-31v31m0-12v12m0-10v10m0-15v15m0-27v27m0-13v13m0-15v15m0-13v13m0-12v12m0-13v13m0-10v10m0-11v11m0-11v11m0-11v11m0-10v10m0-25v25m0-8v8m0-8v8m0-11v11m0-8v8m0-8v8m0-12v12m0-8v8m0-13v13m0-11v11m0-13v13m0-10v10m0-11v11m0-11v11m0-9v9m0-13v13m0-11v11m1-58v13m0-5v10m0-14v20m0-8v42m0-21v21m0-18v18m0-17v17m0-17v17m0-17v17m0-15v15m0-18v18m0-18v18m0-13v13m0-17v17m0-16v16m0-21v21m0-16v16m0-14v14m0-31v31m0-9v9m0-14v14m0-11v11m0-14v14m0-10v10m0-15v15m0-13v13m0-8v8m0-9v9m0-12v12m0-9v9m0-10v10m0-31v31m0-12v12m0-14v14m0-7v7m0-9v9m0-9v9m0-14v14m0-12v12m0-13v13m0-11v11m0-12v12m0-14v14m0-8v8m0-11v11m0-11v11m0-8v8m0-10v10m0-7v7m0-13v13m0-11v11m0-12v12m0-12v12m1-56v19m0-13v15m0 7v28m0-19v19m0-19v19m0-19v19m0-18v18m0-19v19m0-19v19m0-17v17m0-15v15m0-12v12m0-15v15m0-11v11m0-11v11m0-10v10m0-12v12m0-14v14m0-10v10m0-10v10m0-11v11m0-8v8m0-12v12m0-14v14m0-8v8m0-13v13m0-12v12m0-15v15m0-14v14m0-12v12m0-14v14m0-12v12m0-10v10m0-8v8m0-14v14m0-14v14m0-11v11m0-12v12m0-8v8m0-14v14m0-9v9m0-12v12m1-70v23m0-11v16m0-13v31m0-27v38m0-31v44m0-25v25m0-20v20m0-18v18m0-17v17m0-18v18m0-18v18m0-17v17m0-18v18m0-17v17m0-14v14m0-22v22m0-12v12m0-10v10m0-9v9m0-10v10m0-12v12m0-14v14m0-21v21m0-9v9m0-10v10m0-11v11m0-13v13m0-7v7m0-12v12m0-8v8m0-12v12m0-7v7m0-9v9m0-8v8m1-60v22m0-18v16m0-11v24m0-17v44m0-41v41m0-22v22m0-19v18m0-18v19m0-18v17m0-15v16m0-17v17m0-17v17m0-25v25m0-12v11m0-14v15m0-16v16m0-16v16m0-15v15m0-18v18m0-13v13m0-17v17m0-16v16m0-14v14m0-10v10m0-10v10m0-9v9m0-16v16m0-14v14m0-10v10m0-13v13m0-9v9m0-13v13m0-29v29m0-9v9m0-10v10m0-12v12m0-11v11m0-11v11m0-10v10m0-12v12m1-76v21m0-14v19m0-2v52m0-30v30m0-24v23m0-30v31m0-20v19m0-21v22m0-37v37m0-21v21m0-19v18m0-19v20m0-20v20m0-16v16m0-18v18m0-21v21m0-15v15m0-16v16m0-14v14m0-14v14m0-16v16m0-30v30m0-15v15m0-14v14m0-9v9m0-9v9m0-13v13m0-14v14m0-10v10m0-10v10m0-9v9m0-8v8m0-10v10m0-7v7m0-10v10m0-11v11m0-9v9m0-12v12m0-7v7m0-7v7m0-10v10m0-16v16m0-11v11m1-55v23m0 3v29m0-22v22m0-22v22m0-26v26m0-19v19m0-18v18m0-13v13m0-16v16m0-16v16m0-16v16m0-16v16m0-9v9m0-16v16m0-13v13m0-8v8m0-10v10m0-8v8m0-12v12m0-12v12m0-12v12m0-14v14m0-12v12m0-15v15m0-18v18m0-19v19m0-7v7m0-8v8m1-20v19m0-18v18m0-24v25m0-16v16m0-13v12m0-17v18m0-12v12m0-14v14m0-30v30m0-13v13m0-12v12m0-9v9m0-13v13m0-9v9m0-14v14m0-13v13m0-13v13m0-13v13m0-7v7m0-10v10m0-8v8m1-75v49m0-31v21m0-19v25m0-9v39m0-30v29m0-40v41m0-19v19m0-19v19m0-18v18m0-18v18m0-16v16m0-16v16m0-18v18m0-15v15m0-17v17m0-14v14m0-14v14m0-11v11m0-11v11m0-15v15m0-26v26m0-13v13m0-10v10m0-8v8m0-9v9m0-13v13m0-9v9m0-14v14m0-8v8m0-11v11m0-15v15m0-12v12m0-12v12m0-10v10m0-12v12m0-7v7m0-9v9m0-11v11m0-7v7m0-12v12m1-72v24m0-5v16m0-17v47m0-33v40m0-22v22m0-21v21m0-28v28m0-16v16m0-15v15m0-14v14m0-16v16m0-13v13m0-16v16m0-14v14m0-11v11m0-12v12m0-10v10m0-15v15m0-12v12m0-27v27m0-8v8m0-13v13m0-10v10m0-7v7m1-70v11m0-9v12m0 1v17m0-17v21m0-13v47m0-33v33m0-19v19m0-18v18m0-14v14m0-18v18m0-15v15m0-10v10m0-8v8m0-15v15m0-14v14m0-8v8m0-7v7m0-8v8m0-11v11m0-9v9m1-75v23m0-12v16m0-7v15m0-17v21m0-12v48m0-49v49m0-18v18m0-18v18m0-18v18m0-16v16m0-17v17m0-10v10m0-11v11m0-12v12m0-15v15m0-13v13m0-10v10m0-11v11m0-8v8m0-7v7m0-12v12m1-56v12m0-13v21m0-19v18m0-20v22m0-18v16m0-16v30m0-15v38m0-30v30m0-20v20m0-21v21m0-17v17m0-17v17m0-16v16m0-13v13m0-10v10m0-12v12m0-14v14m0-9v9m0-11v11m0-12v12m0-10v10m1-67v14m0-13v22m0-18v18m0-16v18m0-13v23m0 10v20m0-20v22m0-17v15m0-15v17m0-13v12m0-12v11m0-14v16m0-16v16m0-17v17m0-13v13m0-13v13m0-8v8m0-11v11m0-11v11m1-86v15m0 7v10m0-9v12m0-9v16m0-17v20m0-15v19m0-25v42m0-15v34m0-37v38m0-36v36m0-37v37m0-23v21m0-21v21m0-18v20m0-21v21m0-19v19m0-14v14m0-16v16m0-16v16m0-17v17m0-14v14m0-14v14m0-11v11m0-11v11m0-8v8m0-10v10m0-8v8m0-9v9m0-7v7m1-62v14m0-9v10m0-14v23m0-16v14m0-16v18m0-15v46m0-36v43m0-42v42m0-22v22m0-22v22m0-20v20m0-18v16m0-16v16m0-15v17m0-9v9m0-14v14m0-14v14m0-12v12m0-9v9m0-11v11m0-12v12m1-61v11m0-12v14m0-15v22m0-18v20m0-18v20m0-18v20m0-18v38m0-31v46m0-43v43m0-31v31m0-18v18m0-18v18m0-17v17m0-21v21m0-9v9m0-8v8m0-11v11m0-14v14m0-16v16m0-13v13m0-13v13m0-12v12m0-12v12m1-66v11m0-10v23m0-14v10m0-9v13m0-13v21m0-28v51m0-10v21m0-17v17m0-14v14m0-11v11m0-11v11m0-11v11m0-11v11m0-8v8m0-9v9m0-10v10m0-8v8m1-86v57m0-52v56m0-35v20m0-17v19m0-18v20m0-18v20m0-22v26m0-1v31m0-33v33m0-21v21m0-18v18m0-17v17m0-12v12m0-12v12m0-14v14m0-16v16m0-12v12m0-19v19m1-75v14m0 0v11m0-14v20m0-10v9m0-12v17m0-18v21m0-17v16m0-16v17m0-29v56m0-4v14m0-11v11m0-12v12m0-9v9m0-10v10m1-85v18m0-13v21m0-14v13m0-10v22m0-17v14m0-17v21m0-10v21m0-20v38m0-26v44m0-41v41m0-16v16m0-17v17m0-14v14m0-12v12m0-11v11m0-8v8m1-88v14m0-11v21m0-12v20m0-19v19m0-6v17m0-9v54m0-48v48m0-16v16m0-18v18m0-18v18m0-18v18m0-17v17m0-10v10m1-61v20m0-8v49m1-74v19m0-15v16m0-15v14m0 13v42m0-29v29m0-13v13m0-15v15m0-15v15m1-79v15m0-6v15m0-15v16m0-16v23m0-20v55m0-24v36m0-35v35m0-11v11m0-11v11m1-73v20m0-16v14m0-8v13m0-17v56m0-3v14m0-9v9m0-9v9m0-10v10m0-10v10m1-92v15m0-9v43m0-22v10m0-9v11m0-11v15m0-13v14m0 7v41m0-24v22m0-19v21m0-20v20m0-10v10m0-12v12m0-11v11m0-13v13m1-70v14m0-15v20m0-19v19m0-12v9m0-10v15m0-14v52m0-6v17m1-74v12m0-15v24m0-12v17m0-15v14m0-17v38m0-34v42m0-2v20m0-16v16m0-7v9m1-87v11m0 5v18m0-10v22m0-31v55m0 4v13m0-17v17m0-14v14m0-12v12m1-80v15m0-17v22m0-10v19m0-18v17m0-12v20m0-25v45m0-21v45m0-28v28m1-81v13m0 4v12m0-18v34m0-11v47m0-13v13m0-10v10m1-76v20m0-12v14m0-15v23m0-17v14m0-17v20m0-16v18m0-24v57m0-8v19m0-16v16m0-15v15m0-30v30m1-88v12m0-4v11m0-11v19m0-15v16m0-9v10m0-12v22m0-20v20m0-20v23m0-27v47m0 7v19m1-92v51m0-34v18m0-22v27m0-25v33m0-25v16m0-16v53m0 3v13m1-90v14m0-11v12m0 1v11m0-11v19m0-17v16m0 43v13m0-11v11m1-105v20m0 1v21m0-20v19m0-8v21m0-18v19m0-24v44m1-40v12m0-12v23m0-31v47m1-38v10m0-15v21m0-18v21m0-32v52m0-48v56m0-26v48m0-14v14m1-97v23m0-1v10m0-9v14m0-11v20m0-28v48m0-40v42m0 13v16m0-10v10m0-8v8m1-77v16m0-14v22m0-20v20m0-23v26m0-22v19m0-16v18m0 30v21m0-15v15m1-97v13m0-6v22m0-19v17m0-5v20m0 40v15m1-82v21m0-12v23m1-48v23m0-18v21m0-7v11m0-6v12m0-13v23m0-21v21m1-43v9m0-1v18m0-16v16m0-18v22m0-18v22m0-15v11m0-11v12m0-15v20m0-20v22m0-17v14m0-15v18m0 44v13m1-74v20m0-37v56m1-61v21m0-8v14m0-18v50m1-53v11m0-4v22m0-15v14m0-10v9m0-10v21m0 2v50m1-115v54m0-17v19m0-20v22m0-16v11m0-12v19m0-19v23m1-47v18m0-13v15m0-11v19m0-17v16m0-15v21m0-14v14m0-15v20m0-17v15m0 49v13m1-91v13m0-4v9m0-11v17m0-12v21m1-58v16m0 4v12m0-8v14m1-27v22m0 1v12m0-17v26m0-20v15m0-10v9m0-11v12m0-15v23m1-31v14m0-14v18m0-9v14m0-13v17m0-18v21m0-34v57m0-51v54m0 8v18m0-7v14m1-88v9m0-10v17m0-10v17m0-15v19m0 26v23m0-7v14m1-103v17m0-1v22m0-12v15m0-16v21m0-18v19m0-18v19m0-19v26m0 21v23m0-4v13m1-97v13m0-1v14m0-11v22m0 33v15m1-78v20m0-18v22m0-17v15m0-16v23m0 32v21m0-11v9m1-100v15m0-3v19m0-12v11m0-14v23m0-15v12m0-10v16m0-27v41m0-43v48m0 24v19m1-86v20m0-17v16m0-16v23m0-18v19m0 42v14m1-104v17m0-13v15m0-2v14m0-27v43m0-25v10m1-29v48m0-30v20m0-17v18m0-15v22m0-24v43m0 31v14m1-113v14m0-7v19m0 1v21m0 44v20m1-97v23m0-12v16m0-21v53m0-54v56m0 4v23m1-101v14m0-1v18m0-8v15m0-14v18m0-18v23m1-46v23m0-13v12m0-1v14m0-15v20m0-22v38m0-38v52m0 0v18m0-11v15m1-108v21m0 5v13m0-7v20m1-37v18m0-10v20m0-15v14m0-6v10m0-34v58m1-55v16m0-5v48m0 19v22m1-84v12m0-16v20m0-21v23m0-18v14m0-13v22m0-29v54m0-28v55m0-34v34m1-79v14m1-15v18m0-11v17m0-18v22m1-52v23m0-4v20m0-10v14m0 6v54m0-15v20m1-87v16m0-19v23m0-18v14m0-7v16m0-18v22m1-23v20m0-24v37m0-20v58m0-26v18m0-15v18m0-9v15m1-88v12m0-3v10m0-4v10m0-12v20m0-36v58m0-38v19m0-28v57m1-76v10m0 11v13m0-14v51m1-83v45m0-17v17m0-14v17m0-18v23m0-15v11m0 42v20m1-102v23m0-16v22m0-17v21m0-13v14m0-11v16m0-13v22m1-52v50m0-17v22m0 23v17m0-15v16m1-67v9m0-8v10m0-7v13m0-14v20m0-22v48m0 4v14m0 3v14m1-99v19m0-19v22m0-5v19m0-20v22m0-22v40m0-31v50m0-19v31m1-99v21m0-15v23m0-7v20m0-12v11m0-12v22m0 16v21m0-14v17m0-1v9m0-8v15m1-78v16m0-29v58m0 32v22m1-148v21m0-11v19m0 12v16m0-16v16m0-14v18m0-11v16m0-14v14m0-13v56m0-11v21m1-103v19m0-2v20m0-2v10m0-11v23m0-22v23m0 23v15m0-14v14m1-85v20m0-12v16m0-8v13m0-13v17m0-16v22m0 21v18m1-65v11m0 6v52m0-20v17m1-61v22m0-21v21m0-20v21m0 27v14m1-62v20m0-14v55m1-88v18m0-2v18m0-27v36m0-25v17m0 35v18m1-90v12m0 12v12m0-15v44m1-44v12m0-15v22m0-15v17m0 29v15m1-75v19m0-16v18m0-12v21m0-18v18m0-22v33m0-40v55m0-7v23m1-72v19m0-6v23m0 27v20m1-86v23m0-19v24m0-19v16m0 43v10m1-85v10m0 4v18m0-11v12m0-13v22m0 22v22m0-1v22m1-107v16m0-4v23m0-13v12m0 26v23m1-71v9m0-9v19m0-20v23m0-17v45m1-56v10m0-3v18m0-12v15m0 32v19m1-66v10m0-10v17m0-14v12m1-20v14m0-13v16m0-15v18m0-12v23m0-26v45m0-6v18m0-17v23m1-82v13m0 4v11m0-14v41m0-4v19m0-18v22m0-20v22m0-15v9m0 11v10m1-83v19m0-15v15m0-18v42m0 3v20m0-7v15m0-9v11m0-14v18m1-103v17m0-1v22m0-18v19m0-10v17m0 18v23m0-16v16m0-26v41m0-28v21m0-14v13m0-15v17m1-68v21m0 27v12m0-2v12m1-77v15m0 26v20m0-13v15m0-5v13m1-67v10m0-14v19m1-24v17m0-14v12m0 47v12m1-66v11m0-16v21m0-15v14m0-18v23m0-21v20m0-9v50m0 3v21m1-101v13m0 34v28m0-18v19m0-17v16m0-15v15m0-16v18m0-19v22m0-12v15m0-16v20m0-9v12m1-76v12m0-18v38m1-47v21m0-9v23m0-21v20m1-51v15m0 14v17m0-13v15m0-26v40m0-27v18m0-16v19m1-27v16m0-10v12m0 33v16m0-16v20m0-14v23m1-100v20m0-13v20m0-17v21m0-16v12m0 0v10m0-14v19m1-40v21m0-12v15m0-5v13m0-17v23m0-15v12m1-19v14m0-8v24m0 41v19m1-103v12m0 53v11m0 7v18m1-95v20m0-17v20m0-12v11m0 28v14m0-14v21m0-15v12m0 4v14m1-36v14m0-8v18m1-67v12m0-11v21m0 23v17m0-9v11m0-6v14m1-26v20m1-6v13m1-81v14m0-16v22m0 35v12m1-81v44m1-41v18m0-9v17m0-13v21m0-19v21m0-16v21m0 16v15m0-13v11m0-11v18m0-14v21m0 10v14m1-98v24m0-6v45m0-11v13m1-65v38m1-46v9m0-2v18m0-7v15m1-26v17m0-11v13m0-11v16m0-14v20m0 4v19m1-41v20m0-30v47m0-11v23m0-21v23m0-8v10m1-70v16m0-14v58m0-22v19m0-5v11m1-52v19m0-30v55m0-46v54m0-1v13m1-73v11m0-24v41m0-24v19m0-19v20m0 13v19m0-6v10m1-57v13m0-13v14m0-10v21m0 3v20m0-11v10m0-2v9m1-60v16m0-6v22m0 1v19m0-3v22m0-7v14m1-72v14m0-34v57m0 6v10m1-53v18m0-14v15m0-1v23m0-25v34m0-9v23m1-70v23m0-9v11m0-10v13m0-5v23m0 1v18m1-71v19m0-12v21m0-19v23m0-11v22m0-10v20m0-17v17m0-10v14m0-14v20m0 4v15m1-95v53m0-19v10m0-12v20m0-18v35m0-18v22m0-17v19m0-10v17m0-7v17m1-88v17m0-8v20m0-12v14m0-6v10m0 5v18m0-7v14m0-15v17m1-55v15m0-15v17m0-9v19m0-14v14m0-13v15m0-13v17m0-8v19m0-8v15m0-13v13m0-5v11m1-36v23m0-17v12m0-9v17m0-14v12m0-11v15m1-72v18m0 13v13m0-12v13m0-4v22m0-14v20m1-65v55m0-29v14m0-6v10m0-15v20m0-15v18m0-15v22m0-25v33m0-23v17m0-5v45m1-75v17m0-19v23m0-19v20m0-12v10m0-13v18m0-14v11m0-14v22m0-10v15m0-14v18m0-18v21m0-20v20m0-9v16m0-17v20m1-74v23m0 0v14m0-16v19m0-20v23m0-12v10m0-7v15m0-12v11m0-10v14m1-44v19m0 4v11m0-7v12m0-13v20m0-14v19m0-20v21m0-14v16m1-48v9m0-9v19m0-14v20m0-13v18m0 6v12m0-14v19m1-70v25m0-4v11m0-7v22m0-15v15m0-5v19m0-14v10m0-4v17m0-13v19m0-13v15m0-10v10m1-67v29m0-18v18m0-16v15m0-11v9m0 7v12m0 4v15m1-86v17m0 15v13m0-13v22m0-3v19m0-10v11m0-6v22m1-59v23m0-21v22m0-9v11m0-5v15m0-8v16m0-18v21m0-18v17m0-11v10m0-5v9m1-60v23m0-14v19m0-14v11m0-9v14m0-11v19m0-10v17m1-54v14m0 17v18m0-16v19m0-18v20m0-25v39m0-25v17m0-11v20m0-14v21m1-64v15m0-3v15m0-17v22m0-17v17m0-12v21m0-18v22m0-12v11m0-14v22m0-36v51m1-71v19m0-6v21m0-21v21m0-16v17m0-2v15m0-15v16m0-16v22m0-19v23m1-61v13m0-11v13m0 5v14m0-5v19m0-19v20m0-16v20m0-13v10m0-7v16m0-14v22m0-2v13m0 1v12m1-105v30m0-1v10m0 9v13m0-8v18m0-6v14m1-62v15m0 4v13m0-2v10m0-11v18m0-16v14m0-13v14m0-15v18m0-8v11m0-8v14m1-80v12m0 10v14m0 6v16m0-13v13m1-39v15m0-12v14m0-12v10m0 4v17m0-14v12m0-5v12m0-12v15m1-62v13m0 3v20m0-17v23m0-11v17m0-14v13m0-7v11m0-1v11m0-9v12m0-11v12m1-48v10m0-12v18m0-16v22m0-8v23m0-16v12m0 26v23m1-79v21m0 9v17m0-15v16m0-7v22m0-12v11m1-62v15m0-1v24m0-16v17m0-8v13m1-49v19m0-13v11m0 6v9m1-42v16m0 3v14m0-1v16m0-2v19m0-10v12m0-21v37m1-75v9m0-8v19m0-14v10m0 2v22m0-9v9m0-6v19m0-17v18m0-15v17m1-64v11m0-11v23m0-14v23m0-16v12m0-9v23m0-6v14m0-4v18m1-59v23m0 2v14m0-14v20m0-19v21m0-16v17m0-11v13m0-11v18m0-13v18m1-55v10m0 2v17m0-12v23m0-22v22m0-11v18m1-62v22m0-16v17m0-9v14m0-14v23m0-19v15m0-11v10m0-7v12m0-10v11m0 18v14m1-85v20m0 18v18m0-15v19m0 1v20m1-59v16m0-2v9m0-9v23m1-29v10m0-9v20m0-11v13m0-11v11m0-14v21m0 11v20m1-50v15m0-5v10m0-9v11m0-12v19m0-20v21m0-14v9m0-6v23m1-69v23m0-21v23m0-19v22m0 3v22m0-14v14m0-26v38m0-28v21m0-20v19m1-50v18m0-31v52m0-35v21m0-5v23m0-12v11m0 3v9m1-67v14m0 10v10m0-9v17m0-12v9m0-11v21m0-14v15m0-13v18m0-18v21m0-7v17m0-8v10m0 10v13m1-82v14m0-12v22m0-17v21m0-18v19m0-10v44m1-54v12m0-11v21m0-8v12m0-2v9m0-6v13m1-26v9m0-23v52m0-36v21m1-48v16m0-4v9m1-22v13m0 30v12m0-2v16m1-83v17m0-6v10m0-7v10m0 0v22m0-16v17m0-16v17m0-16v23m0-17v18m0 10v10m1-62v16m0-12v18m0-11v16m0-13v20m0-8v9m1-56v19m0 14v22m0-18v20m0-6v17m0-12v22m0-17v15m0-15v18m1-59v23m0-3v11m0-8v22m0-34v48m1-47v10m0-9v22m0-14v13m1-43v12m0 5v19m0-14v11m0-10v13m0-3v11m0-4v21m1-65v18m0 19v18m0-10v10m1-46v9m0 8v17m0-10v20m0-9v21m1-50v11m0 3v10m0-21v38m1-67v22m0 16v12m0-5v12m0 10v14m1-79v18m0-2v13m0-1v9m0-11v19m0-12v21m0-7v12m0-8v14m0-14v19m1-64v14m0-6v11m0-10v15m0-1v19m0-11v11m0-5v22m0-17v15m1-48v16m0-5v22m0-8v23m0 25v15m1-87v23m0-3v23m0-9v13m1-56v12m0-1v13m0 18v11m0-13v20m1-77v46m0-23v19m0-8v10m0-3v17m0-1v15m0-8v18m1-59v16m0-13v16m0-9v17m0-8v18m0-15v21m0-14v21m0-12v13m0-5v14m1-98v19m0 12v19m0-8v20m0 2v19m0-18v19m1-46v15m0 10v17m1-25v23m0-2v16m1-70v18m0-1v16m0-11v20m0-5v17m0-5v20m1-80v19m0 19v12m0 7v14m0-9v17m1-58v15m0-14v21m0-9v18m0-13v19m0-18v21m0-4v13m0-17v23m1-48v10m0 38v12m1-67v18m0 2v22m1-43v22m0-14v15m0-4v14m0-8v19m0-5v15m1-70v22m0-3v20m0-16v17m0-15v16m0-13v21m0-11v12m0-14v16m1-40v15m0-7v18m0-11v13m0-4v17m0-4v10m0-8v14m0-9v13m1-61v18m0-12v11m1-25v23m0-1v15m1-48v23m0 4v10m1-33v20m0-11v13m0-8v12m0-8v16m0-10v10m1-22v9m0-5v19m0 8v16m0-10v20m1-75v19m0 16v18m0-4v18m0-10v12m0 22v20m1-41v12m1-39v11m0-6v18m0 3v9m1-67v15m0 3v14m0-14v16m0-4v18m0-14v20m0-16v20m1-60v16m0-7v20m0 12v17m0-13v23m1-63v21m0-29v56m0-36v19m0-3v17m1-50v11m0 6v17m0 14v15m0-14v22m0-11v10m1-78v23m0 10v16m0-14v12m0-17v23m0-7v9m3-32v21m0-7v12m1-51v18m0-15v18m2 19v12m0-15v21m0-13v19m1-26v12m0 1v16m0 0v22m1-77v11m1 1v17m0 19v15m1-93v18m1 52v15m1-57v17m0-5v15m0-12v15m0-15v19m0-10v18m1-43v20m0 16v13m1-41v13m1 3v10m1-23v34m0-25v20m0-15v17m1-24v17m0-19v21m0-12v18m1-27v10m0-11v21m0 5v20m0-8v22m1-85v14m0-10v14m0-10v22m1-1v20m0-12v24m1-50v15m0 5v18m1-44v20m0 2v16m1-29v13m0 0v9m0-3v15m1-68v21m0-11v12m0-4v20m1-78v29m0 34v19m0 22v20m0-14v14m1-137v25m0 37v16m0-2v39m0-16v22m0-16v19m1-55v14m0-3v12m0 38v20m1-69v16m1-10v13m1-42v18m0 15v21m0-11v17m1-49v20m0-5v25m0-14v13m0 3v12m1-42v21m0 15v19m1-55v12m0-14v17m0 13v21m1-43v17m0-13v17m0 3v16m0 3v16m1-85v20m0 15v19m1-45v11m1-23v20m1-63v18m1 91v18m1-100v20m0 22v11m0-2v23m1-57v12m0 8v16m0 8v17m0-11v17m0-20v22m1-53v13m1-12v16m0-10v9m0-9v11m0-7v11m1-57v23m0-9v13m0-10v23m0 9v12m0 8v23m1-71v19m0-16v17m0 18v11m1-28v11m1-2v16m1-31v18m1-47v21m0-5v21m0-12v19m0-19v21m2-62v15m0 15v12m0-4v20m1-59v49m0 7v13m1-43v20m0-18v18m2-60v17m0 31v18m0-14v19m0-11v14m0 2v18m1-85v19m0 2v18m0 16v22m1-92v20m0 16v20m0 26v20m1-96v32m0 36v14m0-7v12m1-50v21m1-5v23m1-96v21m1 4v46m0 14v12m0-6v21m4-42v10m0 43v16m1-82v18m0 41v21m1-115v18m1 27v13m0 19v12m1-20v22m1-96v20m0 41v19m2-45v14m0 14v19m2 2v29m2-40v16m3-26v17m1-90v25m0-7v32m1 12v11m1-46v19m0 3v38m0-23v45m1-94v13m0 1v21m0 12v12m1-62v54m0-11v21m3-26v22m1-65v20m0 42v19m0-3v14m1-83v47m1-38v20m0 21v17m1-38v10m1-39v22m1-47v16m1 5v18m1-18v21m0 45v18m2-28v18m1-80v19m2-15v17m1-3v17m0-2v10m1-29v16m0-17v20m0 14v11m2-80v31m1 48v17m1-70v20m0 12v19m0-8v23m2-46v18m0-6v21m1-33v10m0-13v22m4 5v17m1-61v12m1-41v23m1 18v21m1-5v17m2-72v24m2 3v12m2-37v55m1 51v10m4-111v18m0-9v17m1 16v21m1-117v74m1 17v20m1-63v13m0 21v18m1-19v21m9-28v16m4-44v18m3-7v19m5-63v20m4-14v23m7-6v22m1 21v16m1-110v23m1-44v23m1 82v12m5 28v18m2-11v42m1-56v17m2-58v33m1-20v15m2-88v28m0 78v18m7-97v86m5-54v18m2-58v23m9-77v34m1-20v15m2 100v12m0 0v14m5-121v13m1-31v18m9-14v22m11-44v22m3 23v22m2 2v25m2-35v21m57-95v21m2-39v18m1 4v22m0-5v12m0-7v21m14-6v13m0-5v17m6-49v18m1-39v21m17-54v23m4-49v26m63-50v54m6-92v63" stroke="#1d74b8" stroke-width="1.9" fill="none" marker-start="url(#capd)" marker-mid="url(#capd)" marker-end="url(#capd)"/>
<rect x="1037.2" y="518.4" width="6" height="55.1" fill="#1d74b8"/>
<polygon points="1041.4,530.1 1045.4,530.1 1045.4,526.7 1049.5,526.7 1049.5,522.2 1053.6,522.2 1053.6,524.1 1057.6,524.1 1057.6,524.4 1061.7,524.4 1061.7,520.7 1065.8,520.7 1065.8,521.4 1069.8,521.4 1069.8,520.9 1073.9,520.9 1073.9,520.2 1078,520.2 1078,513.1 1082,513.1 1082,512.6 1086.1,512.6 1086.1,512.3 1090.2,512.3 1090.2,505.4 1094.2,505.4 1094.2,505.2 1098.3,505.2 1098.3,501.7 1102.4,501.7 1102.4,502 1106.4,502 1106.4,498.4 1110.5,498.4 1110.5,495.6 1114.6,495.6 1114.6,490.1 1118.6,490.1 1118.6,488.4 1122.7,488.4 1122.7,486.2 1126.8,486.2 1126.8,482 1130.8,482 1130.8,480.3 1134.9,480.3 1134.9,477.7 1139,477.7 1139,476.2 1143,476.2 1143,471.9 1147.1,471.9 1147.1,467.7 1151.2,467.7 1151.2,466.3 1155.2,466.3 1155.2,465.5 1159.3,465.5 1159.3,459.9 1163.4,459.9 1163.4,454.6 1167.4,454.6 1167.4,458.2 1171.5,458.2 1171.5,452.8 1175.5,452.8 1175.5,448.4 1179.6,448.4 1179.6,447.1 1183.7,447.1 1183.7,445 1187.7,445 1187.7,446.4 1191.8,446.4 1191.8,442.6 1195.9,442.6 1195.9,445.8 1199.9,445.8 1199.9,444 1204,444 1204,444.3 1208.1,444.3 1208.1,452.7 1204,452.7 1204,463.5 1199.9,463.5 1199.9,473.3 1195.9,473.3 1195.9,479.5 1191.8,479.5 1191.8,485.5 1187.7,485.5 1187.7,493.5 1183.7,493.5 1183.7,497.2 1179.6,497.2 1179.6,499 1175.5,499 1175.5,506.6 1171.5,506.6 1171.5,509.3 1167.4,509.3 1167.4,510.1 1163.4,510.1 1163.4,513.1 1159.3,513.1 1159.3,516.2 1155.2,516.2 1155.2,523.8 1151.2,523.8 1151.2,524 1147.1,524 1147.1,528.7 1143,528.7 1143,530.9 1139,530.9 1139,534 1134.9,534 1134.9,539.3 1130.8,539.3 1130.8,545.7 1126.8,545.7 1126.8,550 1122.7,550 1122.7,554.7 1118.6,554.7 1118.6,558.7 1114.6,558.7 1114.6,559.6 1110.5,559.6 1110.5,566 1106.4,566 1106.4,570.2 1102.4,570.2 1102.4,573.1 1098.3,573.1 1098.3,572.7 1094.2,572.7 1094.2,574.3 1090.2,574.3 1090.2,574 1086.1,574 1086.1,571.5 1082,571.5 1082,574.3 1078,574.3 1078,574.3 1073.9,574.3 1073.9,571.7 1069.8,571.7 1069.8,574.3 1065.8,574.3 1065.8,572.4 1061.7,572.4 1061.7,574.3 1057.6,574.3 1057.6,574.3 1053.6,574.3 1053.6,574.1 1049.5,574.1 1049.5,572.9 1045.4,572.9 1045.4,572.5 1041.4,572.5" fill="#f80d12"/>
<path d="m1044 527h0m0 36h0m0 1h0m0 0h0m0 0h0m0 1h0m0 0h0m0 0h0m0 1h0m0 1h0m0 0h0m0 0h0m0 0h0m0 0h0m0 1h0m0 0h0m0 1h0m0 0h0m0 1h0m0 0h0m0 0h0m0 0h0m0 0h0m0 0h0m0 0h0m0 0h0m0 0h0m0 0h0m0 0h0m0 0h0m0 0h0m0 0h0m0 0h0m0 0h0m0 0h0m0 0h0m0 0h0m0 0h0m0 0h0m0 0h0m0 0h0m0 0h0m0 0h0m0 0h0m0 0h0m0 0h0m0 0h0m0 0h0m0 0h0m0 0h0m0 0h0m0 1h0m0 0h0m0 0h0m0 0h0m0 0h0m0 0h0m0 0h0m0 0h0m0 0h0m0 0h0m0 0h0m0 0h0m0 0h0m0 0h0m0 0h0m0 0h0m0 0h0m0 0h0m0 0h0m0 0h0m0 0h0m0 0h0m0 0h0m0 0h0m0 0h0m0 0h0m0 0h0m0 0h0m0 0h0m0 0h0m0 0h0m0 0h0m0 1h0m0 0h0m0 0h0m0 0h0m0 0h0m0 0h0m0 0h0m0 0h0m0 0h0m0 0h0m0 0h0m0 0h0m0 0h0m0 0h0m0 0h0m0 0h0m0 0h0m0 0h0m0 0h0m0 0h0m0 0h0m0 0h0m0 0h0m0 0h0m0 0h0m0 0h0m0 0h0m0 0h0m0 0h0m0 0h0m0 0h0m0 0h0m0 0h0m0 0h0m0 0h0m0 0h0m0 0h0m1-46h0m0 5h0m0 5h0m0 0h0m0 1h0m0 1h0m0 21h0m0 3h0m0 0h0m0 0h0m0 0h0m0 2h0m0 0h0m0 0h0m0 0h0m0 2h0m0 0h0m0 0h0m0 0h0m0 0h0m0 0h0m0 1h0m0 0h0m0 0h0m0 0h0m0 0h0m0 0h0m0 1h0m0 0h0m0 1h0m0 0h0m0 0h0m0 0h0m0 0h0m0 1h0m0 0h0m0 0h0m0 0h0m0 0h0m0 0h0m0 0h0m0 0h0m0 0h0m0 0h0m0 0h0m0 0h0m0 0h0m0 0h0m0 0h0m0 0h0m0 0h0m0 0h0m0 0h0m0 0h0m0 0h0m0 0h0m0 0h0m0 0h0m0 0h0m0 0h0m0 0h0m0 0h0m0 0h0m0 0h0m0 0h0m0 0h0m0 0h0m0 0h0m0 0h0m0 0h0m0 0h0m0 0h0m0 0h0m0 0h0m0 0h0m0 0h0m0 0h0m0 1h0m0 0h0m0 0h0m0 0h0m0 0h0m0 0h0m0 0h0m0 0h0m0 0h0m0 0h0m0 0h0m0 0h0m0 0h0m0 0h0m0 0h0m0 0h0m0 0h0m0 0h0m0 0h0m0 0h0m0 0h0m0 0h0m0 0h0m0 0h0m0 0h0m0 0h0m0 0h0m0 0h0m0 0h0m0 0h0m0 0h0m0 0h0m0 0h0m0 0h0m0 0h0m0 0h0m0 1h0m0 0h0m0 0h0m0 0h0m0 0h0m0 0h0m0 0h0m0 0h0m0 0h0m0 0h0m0 0h0m0 0h0m0 0h0m0 0h0m0 0h0m0 0h0m0 0h0m0 0h0m0 0h0m0 0h0m0 0h0m0 0h0m0 0h0m0 0h0m0 0h0m0 0h0m0 0h0m0 0h0m0 0h0m1-49h0m0 12h0m0 19h0m0 4h0m0 1h0m0 4h0m0 0h0m0 0h0m0 1h0m0 1h0m0 0h0m0 0h0m0 0h0m0 1h0m0 0h0m0 0h0m0 0h0m0 1h0m0 0h0m0 0h0m0 0h0m0 0h0m0 1h0m0 0h0m0 0h0m0 0h0m0 0h0m0 0h0m0 0h0m0 1h0m0 0h0m0 0h0m0 0h0m0 0h0m0 0h0m0 0h0m0 0h0m0 0h0m0 1h0m0 0h0m0 0h0m0 0h0m0 0h0m0 0h0m0 0h0m0 0h0m0 0h0m0 0h0m0 0h0m0 0h0m0 0h0m0 0h0m0 0h0m0 0h0m0 0h0m0 0h0m0 0h0m0 0h0m0 0h0m0 0h0m0 1h0m0 0h0m0 0h0m0 0h0m0 0h0m0 0h0m0 0h0m0 0h0m0 0h0m0 0h0m0 0h0m0 0h0m0 0h0m0 0h0m0 0h0m0 0h0m0 0h0m0 0h0m0 0h0m0 0h0m0 0h0m0 0h0m0 0h0m0 0h0m0 0h0m0 0h0m0 0h0m0 0h0m0 0h0m0 0h0m0 1h0m0 0h0m0 0h0m0 0h0m0 0h0m0 0h0m0 0h0m0 0h0m0 0h0m0 0h0m0 0h0m0 0h0m0 0h0m0 0h0m0 0h0m0 0h0m0 0h0m0 0h0m0 0h0m0 0h0m0 0h0m0 0h0m0 0h0m0 0h0m0 0h0m0 0h0m0 0h0m0 0h0m1-50h0m0 24h0m0 14h0m0 1h0m0 1h0m0 2h0m0 0h0m0 1h0m0 0h0m0 0h0m0 1h0m0 0h0m0 1h0m0 0h0m0 1h0m0 0h0m0 0h0m0 1h0m0 0h0m0 0h0m0 0h0m0 0h0m0 0h0m0 0h0m0 0h0m0 0h0m0 1h0m0 0h0m0 0h0m0 0h0m0 0h0m0 0h0m0 0h0m0 0h0m0 0h0m0 0h0m0 0h0m0 0h0m0 0h0m0 0h0m0 0h0m0 0h0m0 0h0m0 0h0m0 0h0m0 1h0m0 0h0m0 0h0m0 0h0m0 0h0m0 0h0m0 0h0m0 0h0m0 0h0m0 0h0m0 0h0m0 0h0m0 0h0m0 0h0m0 0h0m0 0h0m0 0h0m0 0h0m0 0h0m0 0h0m0 0h0m0 0h0m0 0h0m0 0h0m0 0h0m0 0h0m0 0h0m0 0h0m0 0h0m0 0h0m0 0h0m0 0h0m0 0h0m0 0h0m0 0h0m0 0h0m0 0h0m0 0h0m0 0h0m0 0h0m0 0h0m0 1h0m0 0h0m0 0h0m0 0h0m0 0h0m0 0h0m0 0h0m0 0h0m0 0h0m0 0h0m0 0h0m0 0h0m0 0h0m0 0h0m0 0h0m0 0h0m0 0h0m0 0h0m0 0h0m0 0h0m0 0h0m0 0h0m0 0h0m0 0h0m0 0h0m0 0h0m0 0h0m0 0h0m0 0h0m0 0h0m0 0h0m1-48h0m0 8h0m0 32h0m0 0h0m0 0h0m0 0h0m0 1h0m0 0h0m0 1h0m0 1h0m0 0h0m0 0h0m0 0h0m0 1h0m0 0h0m0 0h0m0 0h0m0 0h0m0 0h0m0 0h0m0 0h0m0 1h0m0 0h0m0 0h0m0 0h0m0 0h0m0 0h0m0 0h0m0 0h0m0 1h0m0 0h0m0 0h0m0 0h0m0 0h0m0 0h0m0 0h0m0 0h0m0 0h0m0 0h0m0 0h0m0 0h0m0 0h0m0 0h0m0 0h0m0 0h0m0 0h0m0 0h0m0 0h0m0 0h0m0 0h0m0 0h0m0 0h0m0 0h0m0 0h0m0 0h0m0 1h0m0 0h0m0 0h0m0 0h0m0 0h0m0 0h0m0 0h0m0 0h0m0 0h0m0 0h0m0 0h0m0 0h0m0 0h0m0 0h0m0 0h0m0 0h0m0 0h0m0 0h0m0 0h0m0 0h0m0 0h0m0 0h0m0 0h0m0 0h0m0 0h0m0 0h0m0 0h0m0 0h0m0 0h0m0 0h0m0 1h0m0 0h0m0 0h0m0 0h0m0 0h0m0 0h0m0 0h0m0 0h0m0 0h0m0 0h0m0 0h0m0 0h0m0 0h0m0 0h0m0 0h0m0 0h0m0 0h0m0 0h0m0 0h0m0 0h0m0 0h0m0 0h0m0 0h0m0 0h0m0 0h0m0 0h0m0 0h0m0 0h0m0 0h0m0 0h0m0 0h0m0 0h0m0 0h0m0 0h0m1-37h0m0 0h0m0 17h0m0 4h0m0 7h0m0 0h0m0 0h0m0 1h0m0 1h0m0 2h0m0 0h0m0 0h0m0 0h0m0 1h0m0 0h0m0 0h0m0 0h0m0 0h0m0 0h0m0 1h0m0 0h0m0 0h0m0 1h0m0 0h0m0 0h0m0 0h0m0 0h0m0 0h0m0 0h0m0 0h0m0 0h0m0 0h0m0 0h0m0 0h0m0 0h0m0 0h0m0 0h0m0 0h0m0 0h0m0 0h0m0 1h0m0 0h0m0 0h0m0 0h0m0 0h0m0 0h0m0 0h0m0 0h0m0 0h0m0 0h0m0 0h0m0 0h0m0 0h0m0 0h0m0 0h0m0 0h0m0 0h0m0 0h0m0 0h0m0 0h0m0 0h0m0 0h0m0 0h0m0 0h0m0 0h0m0 0h0m0 0h0m0 0h0m0 0h0m0 0h0m0 1h0m0 0h0m0 0h0m0 0h0m0 0h0m0 0h0m0 0h0m0 0h0m0 0h0m0 0h0m0 0h0m0 0h0m0 0h0m0 0h0m0 0h0m0 0h0m0 0h0m0 0h0m0 0h0m0 0h0m0 0h0m0 0h0m0 0h0m1-28h0m0 11h0m0 2h0m0 6h0m0 1h0m0 1h0m0 1h0m0 0h0m0 0h0m0 1h0m0 0h0m0 0h0m0 0h0m0 1h0m0 0h0m0 0h0m0 0h0m0 0h0m0 1h0m0 0h0m0 0h0m0 0h0m0 0h0m0 1h0m0 0h0m0 0h0m0 0h0m0 0h0m0 0h0m0 0h0m0 0h0m0 0h0m0 0h0m0 0h0m0 0h0m0 0h0m0 0h0m0 0h0m0 0h0m0 0h0m0 0h0m0 0h0m0 0h0m0 1h0m0 0h0m0 0h0m0 0h0m0 0h0m0 0h0m0 0h0m0 0h0m0 0h0m0 0h0m0 0h0m0 0h0m0 0h0m0 0h0m0 0h0m0 0h0m0 0h0m0 0h0m0 0h0m0 0h0m0 0h0m0 0h0m0 0h0m0 0h0m0 0h0m0 0h0m0 0h0m0 0h0m0 0h0m0 0h0m0 0h0m0 0h0m0 1h0m0 0h0m0 0h0m0 0h0m0 0h0m0 0h0m0 0h0m0 0h0m0 0h0m0 0h0m0 0h0m0 0h0m0 0h0m0 0h0m0 0h0m0 0h0m0 0h0m0 0h0m0 0h0m1-62h0m0 17h0m0 2h0m0 35h0m0 0h0m0 1h0m0 0h0m0 0h0m0 0h0m0 0h0m0 1h0m0 0h0m0 0h0m0 0h0m0 0h0m0 1h0m0 0h0m0 1h0m0 0h0m0 0h0m0 0h0m0 0h0m0 0h0m0 0h0m0 0h0m0 1h0m0 0h0m0 0h0m0 0h0m0 0h0m0 0h0m0 0h0m0 1h0m0 0h0m0 0h0m0 0h0m0 0h0m0 0h0m0 0h0m0 0h0m0 0h0m0 0h0m0 0h0m0 0h0m0 0h0m0 0h0m0 0h0m0 0h0m0 0h0m0 0h0m0 0h0m0 1h0m0 0h0m0 0h0m0 0h0m0 0h0m0 0h0m0 0h0m0 0h0m0 0h0m0 0h0m0 0h0m0 0h0m0 0h0m0 0h0m0 0h0m0 0h0m0 0h0m0 0h0m0 0h0m0 0h0m0 0h0m0 0h0m0 0h0m0 0h0m0 0h0m0 0h0m0 0h0m0 1h0m0 0h0m0 0h0m0 0h0m0 0h0m0 0h0m0 0h0m0 0h0m0 0h0m0 0h0m0 0h0m0 0h0m0 0h0m0 0h0m0 0h0m0 0h0m0 0h0m0 0h0m0 0h0m0 0h0m0 0h0m0 0h0m1-11h0m0 2h0m0 1h0m0 0h0m0 1h0m0 0h0m0 0h0m0 0h0m0 0h0m0 1h0m0 0h0m0 0h0m0 0h0m0 0h0m0 0h0m0 1h0m0 0h0m0 1h0m0 0h0m0 0h0m0 0h0m0 1h0m0 0h0m0 0h0m0 0h0m0 0h0m0 0h0m0 1h0m0 0h0m0 0h0m0 0h0m0 0h0m0 0h0m0 0h0m0 0h0m0 0h0m0 0h0m0 0h0m0 0h0m0 0h0m0 0h0m0 0h0m0 0h0m0 0h0m0 0h0m0 0h0m0 0h0m0 1h0m0 0h0m0 0h0m0 0h0m0 0h0m0 0h0m0 0h0m0 0h0m0 0h0m0 0h0m0 0h0m0 0h0m0 0h0m0 0h0m0 0h0m0 0h0m0 0h0m0 0h0m0 0h0m0 0h0m0 0h0m0 0h0m0 1h0m0 0h0m0 0h0m0 0h0m0 0h0m0 0h0m0 0h0m0 0h0m0 0h0m0 0h0m0 0h0m0 0h0m0 0h0m0 0h0m0 0h0m0 0h0m0 0h0m0 0h0m0 0h0m0 0h0m0 0h0m1-11h0m0 3h0m0 0h0m0 0h0m0 1h0m0 0h0m0 0h0m0 1h0m0 1h0m0 0h0m0 0h0m0 0h0m0 1h0m0 0h0m0 0h0m0 0h0m0 0h0m0 0h0m0 1h0m0 0h0m0 0h0m0 0h0m0 0h0m0 1h0m0 0h0m0 0h0m0 0h0m0 0h0m0 0h0m0 0h0m0 0h0m0 0h0m0 0h0m0 0h0m0 0h0m0 0h0m0 0h0m0 0h0m0 0h0m0 1h0m0 0h0m0 0h0m0 0h0m0 0h0m0 0h0m0 0h0m0 0h0m0 0h0m0 0h0m0 0h0m0 0h0m0 0h0m0 0h0m0 0h0m0 1h0m0 0h0m0 0h0m0 0h0m0 0h0m0 0h0m0 0h0m0 0h0m0 0h0m0 0h0m0 0h0m0 0h0m0 0h0m0 0h0m0 0h0m0 0h0m0 0h0m0 0h0m0 0h0m0 0h0m0 0h0m1-52h0m0 39h0m0 4h0m0 1h0m0 1h0m0 0h0m0 2h0m0 0h0m0 0h0m0 1h0m0 1h0m0 0h0m0 0h0m0 1h0m0 0h0m0 0h0m0 0h0m0 0h0m0 0h0m0 0h0m0 0h0m0 0h0m0 0h0m0 0h0m0 1h0m0 0h0m0 0h0m0 0h0m0 0h0m0 0h0m0 0h0m0 0h0m0 0h0m0 0h0m0 0h0m0 0h0m0 0h0m0 1h0m0 0h0m0 0h0m0 0h0m0 0h0m0 0h0m0 0h0m0 0h0m0 0h0m0 0h0m0 0h0m0 0h0m0 0h0m0 0h0m0 0h0m1-62h0m0 17h0m0 4h0m0 0h0m0 0h0m0 2h0m0 22h0m0 3h0m0 4h0m0 0h0m0 0h0m0 2h0m0 1h0m0 0h0m0 2h0m0 0h0m0 0h0m0 1h0m0 0h0m0 0h0m0 1h0m0 0h0m0 0h0m0 1h0m0 0h0m0 0h0m0 0h0m0 0h0m0 0h0m0 0h0m0 0h0m0 0h0m0 0h0m0 0h0m0 1h0m0 0h0m0 0h0m0 0h0m0 0h0m0 0h0m0 0h0m0 0h0m0 0h0m0 0h0m0 0h0m0 0h0m0 0h0m0 0h0m0 1h0m0 0h0m0 0h0m0 0h0m0 0h0m0 0h0m0 0h0m0 0h0m0 0h0m0 0h0m0 0h0m0 0h0m0 0h0m0 0h0m0 0h0m0 0h0m0 0h0m0 0h0m0 0h0m0 0h0m0 0h0m1-39h0m0 13h0m0 12h0m0 3h0m0 4h0m0 0h0m0 1h0m0 0h0m0 0h0m0 0h0m0 0h0m0 1h0m0 0h0m0 0h0m0 0h0m0 1h0m0 0h0m0 0h0m0 0h0m0 0h0m0 0h0m0 0h0m0 1h0m0 1h0m0 0h0m0 0h0m0 0h0m0 0h0m0 0h0m0 0h0m0 0h0m0 0h0m0 0h0m0 0h0m0 0h0m0 0h0m0 0h0m0 0h0m0 0h0m0 0h0m0 0h0m0 0h0m0 1h0m0 0h0m0 0h0m0 0h0m0 0h0m0 0h0m0 0h0m0 0h0m0 0h0m0 0h0m0 0h0m0 0h0m0 0h0m0 0h0m0 0h0m0 0h0m0 1h0m0 0h0m0 0h0m0 0h0m0 0h0m0 0h0m0 0h0m0 0h0m0 0h0m0 0h0m0 0h0m0 0h0m0 0h0m0 0h0m1-57h0m0 10h0m0 1h0m0 3h0m0 5h0m0 22h0m0 0h0m0 7h0m0 1h0m0 0h0m0 0h0m0 1h0m0 1h0m0 0h0m0 1h0m0 1h0m0 0h0m0 0h0m0 1h0m0 0h0m0 0h0m0 1h0m0 0h0m0 0h0m0 0h0m0 0h0m0 0h0m0 0h0m0 0h0m0 1h0m0 0h0m0 0h0m0 0h0m0 0h0m0 0h0m0 0h0m0 0h0m0 0h0m0 0h0m0 0h0m0 0h0m0 1h0m0 0h0m0 0h0m0 0h0m0 0h0m0 0h0m0 0h0m0 0h0m0 0h0m0 0h0m0 0h0m0 0h0m0 0h0m0 0h0m0 0h0m0 0h0m0 0h0m0 0h0m0 0h0m0 0h0m0 0h0m1-19h0m0 11h0m0 1h0m0 0h0m0 1h0m0 0h0m0 1h0m0 0h0m0 1h0m0 0h0m0 0h0m0 1h0m0 1h0m0 0h0m0 0h0m0 0h0m0 0h0m0 0h0m0 0h0m0 0h0m0 0h0m0 0h0m0 0h0m0 0h0m0 0h0m0 0h0m0 0h0m0 0h0m0 0h0m0 0h0m0 1h0m0 0h0m0 0h0m0 0h0m0 0h0m0 0h0m0 0h0m0 0h0m0 0h0m0 0h0m0 1h0m0 0h0m0 0h0m0 0h0m0 0h0m0 0h0m0 0h0m0 0h0m0 0h0m0 0h0m0 0h0m0 0h0m1-50h0m0 7h0m0 1h0m0 29h0m0 5h0m0 2h0m0 0h0m0 0h0m0 1h0m0 0h0m0 0h0m0 0h0m0 1h0m0 1h0m0 0h0m0 0h0m0 0h0m0 0h0m0 1h0m0 0h0m0 0h0m0 0h0m0 0h0m0 0h0m0 0h0m0 0h0m0 0h0m0 1h0m0 0h0m0 0h0m0 0h0m0 0h0m0 0h0m0 0h0m0 0h0m0 0h0m0 0h0m0 0h0m0 0h0m0 1h0m0 0h0m0 0h0m0 0h0m0 0h0m0 0h0m0 0h0m0 0h0m0 0h0m0 0h0m0 0h0m0 0h0m0 0h0m0 0h0m1-45h0m0 4h0m0 33h0m0 1h0m0 0h0m0 1h0m0 0h0m0 0h0m0 0h0m0 1h0m0 0h0m0 1h0m0 1h0m0 0h0m0 0h0m0 0h0m0 1h0m0 0h0m0 0h0m0 0h0m0 0h0m0 0h0m0 0h0m0 0h0m0 1h0m0 0h0m0 0h0m0 0h0m0 0h0m0 0h0m0 0h0m0 0h0m0 0h0m0 1h0m0 0h0m0 0h0m0 0h0m0 0h0m0 0h0m0 0h0m0 0h0m0 0h0m1-57h0m0 9h0m0 10h0m0 8h0m0 15h0m0 6h0m0 1h0m0 2h0m0 0h0m0 0h0m0 0h0m0 1h0m0 1h0m0 0h0m0 0h0m0 1h0m0 0h0m0 1h0m0 0h0m0 0h0m0 0h0m0 0h0m0 1h0m0 0h0m0 0h0m0 0h0m0 0h0m0 1h0m0 0h0m0 0h0m0 0h0m0 0h0m0 0h0m0 0h0m1-47h0m0 1h0m0 9h0m0 22h0m0 3h0m0 3h0m0 1h0m0 0h0m0 0h0m0 3h0m0 0h0m0 0h0m0 0h0m0 0h0m0 0h0m0 0h0m0 1h0m0 0h0m0 0h0m0 0h0m0 0h0m0 1h0m0 0h0m0 1h0m0 0h0m0 0h0m0 0h0m0 1h0m0 0h0m0 0h0m0 0h0m0 0h0m0 1h0m0 0h0m0 0h0m0 0h0m0 0h0m0 0h0m0 0h0m0 0h0m1-64h0m0 7h0m0 35h0m0 10h0m0 2h0m0 0h0m0 1h0m0 0h0m0 0h0m0 1h0m0 0h0m0 0h0m0 0h0m0 2h0m0 1h0m0 0h0m0 0h0m0 0h0m0 1h0m0 1h0m0 1h0m0 0h0m0 0h0m0 1h0m0 0h0m0 0h0m0 0h0m0 0h0m0 0h0m0 0h0m0 0h0m0 0h0m0 1h0m0 0h0m0 0h0m0 0h0m0 0h0m0 0h0m0 0h0m0 0h0m0 0h0m0 0h0m0 0h0m1-41h0m0 32h0m0 0h0m0 1h0m0 0h0m0 1h0m0 0h0m0 3h0m0 0h0m0 0h0m0 1h0m0 1h0m0 0h0m0 0h0m0 0h0m0 1h0m0 0h0m0 0h0m0 0h0m0 0h0m0 0h0m0 1h0m0 0h0m0 0h0m0 0h0m0 0h0m0 0h0m0 0h0m1-8h0m0 0h0m0 0h0m0 2h0m0 1h0m0 0h0m0 1h0m0 1h0m0 0h0m0 1h0m0 0h0m0 0h0m0 0h0m0 1h0m0 0h0m0 1h0m0 0h0m0 0h0m0 0h0m0 0h0m0 0h0m1-49h0m0 5h0m0 3h0m0 25h0m0 2h0m0 2h0m0 5h0m0 0h0m0 1h0m0 0h0m0 1h0m0 0h0m0 0h0m0 1h0m0 0h0m0 2h0m0 0h0m0 0h0m0 0h0m0 0h0m0 1h0m0 0h0m0 0h0m0 0h0m0 0h0m0 0h0m0 0h0m0 0h0m0 0h0m0 0h0m0 1h0m0 0h0m0 0h0m0 0h0m0 0h0m0 0h0m0 0h0m0 0h0m0 0h0m0 0h0m1-58h0m0 15h0m0 14h0m0 14h0m0 7h0m0 1h0m0 1h0m0 1h0m0 0h0m0 1h0m0 0h0m0 0h0m0 0h0m0 2h0m0 1h0m0 0h0m0 0h0m0 0h0m0 0h0m0 0h0m0 1h0m0 0h0m0 0h0m0 0h0m1-63h0m0 3h0m0 16h0m0 2h0m0 25h0m0 9h0m0 1h0m0 2h0m0 0h0m0 0h0m0 2h0m0 1h0m0 0h0m0 0h0m0 1h0m0 0h0m0 0h0m0 1h0m0 0h0m0 0h0m1-61h0m0 7h0m0 8h0m0 1h0m0 24h0m0 0h0m0 14h0m0 0h0m0 1h0m0 2h0m0 0h0m0 2h0m0 0h0m0 1h0m0 0h0m0 0h0m0 1h0m0 0h0m0 0h0m0 0h0m0 0h0m1-48h0m0 4h0m0 0h0m0 0h0m0 1h0m0 7h0m0 22h0m0 5h0m0 1h0m0 1h0m0 3h0m0 0h0m0 1h0m0 0h0m0 1h0m0 0h0m0 1h0m0 0h0m0 0h0m0 1h0m0 0h0m1-58h0m0 5h0m0 2h0m0 2h0m0 7h0m0 32h0m0 1h0m0 2h0m0 1h0m0 1h0m0 0h0m0 0h0m0 1h0m0 1h0m0 0h0m0 0h0m0 2h0m0 1h0m0 0h0m1-76h0m0 19h0m0 2h0m0 5h0m0 1h0m0 5h0m0 5h0m0 23h0m0 1h0m0 1h0m0 3h0m0 1h0m0 0h0m0 2h0m0 0h0m0 1h0m0 2h0m0 1h0m0 0h0m0 0h0m0 2h0m0 1h0m0 0h0m0 0h0m0 0h0m0 1h0m0 0h0m0 0h0m0 0h0m1-53h0m0 3h0m0 2h0m0 3h0m0 0h0m0 17h0m0 12h0m0 4h0m0 3h0m0 0h0m0 1h0m0 0h0m0 0h0m0 4h0m0 1h0m0 1h0m0 1h0m0 1h0m0 0h0m0 0h0m0 0h0m1-54h0m0 1h0m0 3h0m0 3h0m0 2h0m0 2h0m0 11h0m0 16h0m0 1h0m0 4h0m0 4h0m0 1h0m0 1h0m0 3h0m0 0h0m0 0h0m0 0h0m0 1h0m0 0h0m0 0h0m0 1h0m0 0h0m0 0h0m1-58h0m0 7h0m0 2h0m0 2h0m0 5h0m0 8h0m0 26h0m0 5h0m0 0h0m0 0h0m0 1h0m0 0h0m0 0h0m0 1h0m0 0h0m0 1h0m0 0h0m1-56h0m0 5h0m0 3h0m0 3h0m0 1h0m0 2h0m0 1h0m0 29h0m0 2h0m0 2h0m0 2h0m0 2h0m0 1h0m0 0h0m0 0h0m0 1h0m0 0h0m0 2h0m1-66h0m0 13h0m0 1h0m0 4h0m0 1h0m0 2h0m0 1h0m0 0h0m0 8h0m0 34h0m0 1h0m0 0h0m0 1h0m0 0h0m1-74h0m0 7h0m0 3h0m0 7h0m0 1h0m0 1h0m0 11h0m0 9h0m0 17h0m0 5h0m0 7h0m0 3h0m0 2h0m0 1h0m0 0h0m0 0h0m1-79h0m0 7h0m0 8h0m0 0h0m0 12h0m0 29h0m0 3h0m0 14h0m0 0h0m0 0h0m0 2h0m0 1h0m0 3h0m1-49h0m0 29h0m1-42h0m0 2h0m0 0h0m0 42h0m0 11h0m0 3h0m0 1h0m0 2h0m1-69h0m0 9h0m0 1h0m0 3h0m0 20h0m0 22h0m0 5h0m0 9h0m0 0h0m1-60h0m0 1h0m0 5h0m0 18h0m0 34h0m0 1h0m0 0h0m0 2h0m0 0h0m1-82h0m0 20h0m0 4h0m0 2h0m0 2h0m0 1h0m0 35h0m0 7h0m0 2h0m0 2h0m0 4h0m0 1h0m0 1h0m0 1h0m1-61h0m0 2h0m0 0h0m0 3h0m0 2h0m0 19h0m0 31h0m1-62h0m0 3h0m0 9h0m0 0h0m0 9h0m0 6h0m0 29h0m0 2h0m0 8h0m1-80h0m0 20h0m0 10h0m0 7h0m0 39h0m0 1h0m0 3h0m0 0h0m1-71h0m0 2h0m0 10h0m0 0h0m0 7h0m0 8h0m0 26h0m0 13h0m1-68h0m0 17h0m0 5h0m0 35h0m0 13h0m0 2h0m1-63h0m0 5h0m0 4h0m0 1h0m0 0h0m0 3h0m0 14h0m0 31h0m0 0h0m0 2h0m0 3h0m1-79h0m0 8h0m0 4h0m0 2h0m0 4h0m0 4h0m0 1h0m0 2h0m0 8h0m0 41h0m1-59h0m0 1h0m0 1h0m0 4h0m0 0h0m0 18h0m0 41h0m1-81h0m0 2h0m0 12h0m0 5h0m0 0h0m0 62h0m0 0h0m1-93h0m0 21h0m0 1h0m0 12h0m0 1h0m0 8h0m1-12h0m0 5h0m0 4h0m1-9h0m0 0h0m0 3h0m0 5h0m0 6h0m0 29h0m0 17h0m1-82h0m0 16h0m0 3h0m0 6h0m0 6h0m0 5h0m0 44h0m0 3h0m0 0h0m1-66h0m0 5h0m0 1h0m0 0h0m0 1h0m0 2h0m0 49h0m0 7h0m1-86h0m0 11h0m0 0h0m0 14h0m0 62h0m1-68h0m0 9h0m1-24h0m0 4h0m0 9h0m0 5h0m0 4h0m0 2h0m1-29h0m0 13h0m0 1h0m0 1h0m0 4h0m0 1h0m0 1h0m0 1h0m0 1h0m0 1h0m0 1h0m0 60h0m1-58h0m0 1h0m1-23h0m0 10h0m0 14h0m1-22h0m0 12h0m0 3h0m0 1h0m0 6h0m0 40h0m1-66h0m0 20h0m0 0h0m0 1h0m0 2h0m0 3h0m1-27h0m0 4h0m0 6h0m0 0h0m0 4h0m0 3h0m0 2h0m0 1h0m0 66h0m1-81h0m0 7h0m0 2h0m0 6h0m1-39h0m0 18h0m0 5h0m1-9h0m0 18h0m0 2h0m0 0h0m0 2h0m0 0h0m0 2h0m1-12h0m0 2h0m0 7h0m0 2h0m0 2h0m0 4h0m0 5h0m0 44h0m0 11h0m1-79h0m0 3h0m0 8h0m0 2h0m0 48h0m0 11h0m1-87h0m0 18h0m0 6h0m0 2h0m0 2h0m0 2h0m0 3h0m0 46h0m0 18h0m1-88h0m0 12h0m0 7h0m0 52h0m1-61h0m0 3h0m0 1h0m0 3h0m0 54h0m0 4h0m1-88h0m0 14h0m0 3h0m0 3h0m0 3h0m0 4h0m0 1h0m0 2h0m0 57h0m1-66h0m0 1h0m0 4h0m0 2h0m0 59h0m1-89h0m0 3h0m0 13h0m0 2h0m0 1h0m1 0h0m0 4h0m0 2h0m0 5h0m0 9h0m0 60h0m1-100h0m0 10h0m0 21h0m0 64h0m1-75h0m0 7h0m0 14h0m0 0h0m0 43h0m1-82h0m0 15h0m0 8h0m0 3h0m0 3h0m1-23h0m0 4h0m0 12h0m0 2h0m0 7h0m0 7h0m0 35h0m0 6h0m1-90h0m0 22h0m0 9h0m1-18h0m0 9h0m0 2h0m0 6h0m0 0h0m1-18h0m0 27h0m0 54h0m1-67h0m0 0h0m0 1h0m0 0h0m0 5h0m0 9h0m0 27h0m0 10h0m1-55h0m1 1h0m0 7h0m0 1h0m1-29h0m0 17h0m0 7h0m0 40h0m0 22h0m1-69h0m0 0h0m0 1h0m0 8h0m0 1h0m1-2h0m0 4h0m0 28h0m0 12h0m0 3h0m0 8h0m1-75h0m0 8h0m0 6h0m0 3h0m0 3h0m0 1h0m0 9h0m1-42h0m0 23h0m0 17h0m1-35h0m0 14h0m0 4h0m0 2h0m0 1h0m0 58h0m1-80h0m0 6h0m0 5h0m0 4h0m0 4h0m0 6h0m1-16h0m0 19h0m0 43h0m0 1h0m1-54h0m0 1h0m0 4h0m0 3h0m0 12h0m0 35h0m0 17h0m1-83h0m0 2h0m0 15h0m0 1h0m0 9h0m0 14h0m0 21h0m1-73h0m0 7h0m0 15h0m0 3h0m0 5h0m0 37h0m0 5h0m0 13h0m0 4h0m1-63h0m0 8h0m0 72h0m1-127h0m0 10h0m0 29h0m0 0h0m0 3h0m0 6h0m0 1h0m0 22h0m0 28h0m1-84h0m0 18h0m0 13h0m0 5h0m0 1h0m0 42h0m0 1h0m1-68h0m0 6h0m0 7h0m0 2h0m0 3h0m0 41h0m1-51h0m0 38h0m0 15h0m1-42h0m0 1h0m0 0h0m0 45h0m1-45h0m0 24h0m1-52h0m0 16h0m0 0h0m0 2h0m0 52h0m1-75h0m0 24h0m0 13h0m1-16h0m0 2h0m0 5h0m0 44h0m1-57h0m0 2h0m0 8h0m0 1h0m0 3h0m0 5h0m0 32h0m1-52h0m0 15h0m0 49h0m1-64h0m0 4h0m0 1h0m0 56h0m1-75h0m0 18h0m0 4h0m0 4h0m0 44h0m0 21h0m1-88h0m0 16h0m0 4h0m0 43h0m1-54h0m0 4h0m0 1h0m0 18h0m1-29h0m0 11h0m0 5h0m0 49h0m1-52h0m0 4h0m0 0h0m1-7h0m0 2h0m0 2h0m0 9h0m0 7h0m0 26h0m0 4h0m1-65h0m0 16h0m0 13h0m0 26h0m0 2h0m0 2h0m0 1h0m0 20h0m1-69h0m0 3h0m0 10h0m0 34h0m0 10h0m0 5h0m0 0h0m1-86h0m0 19h0m0 2h0m0 8h0m0 39h0m0 3h0m0 3h0m0 3h0m0 2h0m0 0h0m1-48h0m0 43h0m0 10h0m1-64h0m0 44h0m0 4h0m0 9h0m1-55h0m0 0h0m1-6h0m0 1h0m0 59h0m1-54h0m0 0h0m0 2h0m0 1h0m0 0h0m0 26h0m0 38h0m1-83h0m0 54h0m0 5h0m0 1h0m0 1h0m0 0h0m0 1h0m0 7h0m0 1h0m0 7h0m1-64h0m0 7h0m1-18h0m0 13h0m0 1h0m1-33h0m0 29h0m0 4h0m0 1h0m0 2h0m0 3h0m1-10h0m0 4h0m0 47h0m0 2h0m0 7h0m1-78h0m0 7h0m0 3h0m0 1h0m0 11h0m0 1h0m1-21h0m0 6h0m0 9h0m0 2h0m0 2h0m1-6h0m0 11h0m0 63h0m1-88h0m0 65h0m0 21h0m1-76h0m0 3h0m0 3h0m0 41h0m0 4h0m0 1h0m0 17h0m1-22h0m0 8h0m1-52h0m0 6h0m0 41h0m0 6h0m0 6h0m1-9h0m1 11h0m1-68h0m0 2h0m0 52h0m1-53h0m1-10h0m0 9h0m0 5h0m0 2h0m0 5h0m0 34h0m0 0h0m0 4h0m0 5h0m0 28h0m1-79h0m0 28h0m0 19h0m1-40h0m1-23h0m0 12h0m0 9h0m1-10h0m0 5h0m0 3h0m0 4h0m0 23h0m1-21h0m0 3h0m0 25h0m0 2h0m0 8h0m1-57h0m0 23h0m0 17h0m0 10h0m1-38h0m0 7h0m0 9h0m0 33h0m1-62h0m0 2h0m0 6h0m0 1h0m0 32h0m0 9h0m1-46h0m0 1h0m0 8h0m0 23h0m0 4h0m0 8h0m1-48h0m0 13h0m0 22h0m0 17h0m0 11h0m1-58h0m0 2h0m0 39h0m1-39h0m0 3h0m0 17h0m0 4h0m0 20h0m1-47h0m0 7h0m0 3h0m0 13h0m0 21h0m1-52h0m0 7h0m0 4h0m0 11h0m0 11h0m0 2h0m0 5h0m0 3h0m0 21h0m1-61h0m0 13h0m0 3h0m0 9h0m0 11h0m0 4h0m0 8h0m0 9h0m1-70h0m0 10h0m0 5h0m0 6h0m0 19h0m0 9h0m0 0h0m1-38h0m0 0h0m0 10h0m0 2h0m0 1h0m0 3h0m0 11h0m0 9h0m0 0h0m0 7h0m1-18h0m0 0h0m0 5h0m0 1h0m0 3h0m1-56h0m0 28h0m0 1h0m0 14h0m0 7h0m1-27h0m0 5h0m0 6h0m0 0h0m0 4h0m0 5h0m0 3h0m0 2h0m0 26h0m1-44h0m0 1h0m0 2h0m0 3h0m0 1h0m0 1h0m0 2h0m0 8h0m0 3h0m0 2h0m0 0h0m0 9h0m0 1h0m1-53h0m0 19h0m0 0h0m0 1h0m0 5h0m0 6h0m0 0h0m0 3h0m1-27h0m0 18h0m0 5h0m0 3h0m0 5h0m0 1h0m0 4h0m1-36h0m0 6h0m0 5h0m0 6h0m0 21h0m0 2h0m1-48h0m0 13h0m0 10h0m0 4h0m0 12h0m0 0h0m0 10h0m0 5h0m0 3h0m0 3h0m1-48h0m0 6h0m0 1h0m0 0h0m0 18h0m0 17h0m1-69h0m0 30h0m0 4h0m0 18h0m0 5h0m0 10h0m1-37h0m0 2h0m0 7h0m0 8h0m0 8h0m0 1h0m0 1h0m0 2h0m0 4h0m1-44h0m0 7h0m0 2h0m0 3h0m0 5h0m0 9h0m1-39h0m0 33h0m0 2h0m0 2h0m0 5h0m0 2h0m0 8h0m0 7h0m1-46h0m0 11h0m0 2h0m0 2h0m0 8h0m0 3h0m0 5h0m0 2h0m0 1h0m1-36h0m0 13h0m0 1h0m0 3h0m0 13h0m0 1h0m0 3h0m0 3h0m1-42h0m0 2h0m0 18h0m0 12h0m0 0h0m0 4h0m0 2h0m0 6h0m0 5h0m0 15h0m0 14h0m1-84h0m0 19h0m0 20h0m0 8h0m0 10h0m1-48h0m0 18h0m0 10h0m0 3h0m0 0h0m0 1h0m0 1h0m0 7h0m0 4h0m1-67h0m0 23h0m0 21h0m0 1h0m1-24h0m0 2h0m0 0h0m0 18h0m0 0h0m0 7h0m0 1h0m1-48h0m0 20h0m0 5h0m0 8h0m0 1h0m0 5h0m0 11h0m0 2h0m0 1h0m1-37h0m0 2h0m0 4h0m0 15h0m0 1h0m0 43h0m1-57h0m0 29h0m0 1h0m0 12h0m0 5h0m1-49h0m0 18h0m0 4h0m0 8h0m1-33h0m0 1h0m0 16h0m1-29h0m0 18h0m0 14h0m0 16h0m0 5h0m0 4h0m1-53h0m0 7h0m0 0h0m0 18h0m0 7h0m0 8h0m0 1h0m0 3h0m1-50h0m0 6h0m0 8h0m0 2h0m0 9h0m0 12h0m0 12h0m1-39h0m0 21h0m0 3h0m0 1h0m0 3h0m0 4h0m0 5h0m0 5h0m1-41h0m0 15h0m0 9h0m0 0h0m0 9h0m1-42h0m0 3h0m0 7h0m0 5h0m0 0h0m0 1h0m0 4h0m0 1h0m0 31h0m1-68h0m0 37h0m0 3h0m0 21h0m1-41h0m0 10h0m0 8h0m1-13h0m0 6h0m0 5h0m0 1h0m0 3h0m0 31h0m1-33h0m0 8h0m0 1h0m0 3h0m0 1h0m0 1h0m0 9h0m1-45h0m0 1h0m0 4h0m0 25h0m0 4h0m0 0h0m0 1h0m0 1h0m1-32h0m0 4h0m0 1h0m0 18h0m0 5h0m0 13h0m1-56h0m0 22h0m0 5h0m0 1h0m0 3h0m0 5h0m0 3h0m0 2h0m0 12h0m0 5h0m0 21h0m1-68h0m0 6h0m0 5h0m0 2h0m0 21h0m1-26h0m0 6h0m0 8h0m0 8h0m0 6h0m1-16h0m0 8h0m0 0h0m1-29h0m0 8h0m1-11h0m0 43h0m0 12h0m1-66h0m0 7h0m0 3h0m0 16h0m0 3h0m0 2h0m0 4h0m0 3h0m0 24h0m1-49h0m0 5h0m0 6h0m0 5h0m0 7h0m1-43h0m0 35h0m0 3h0m0 12h0m0 8h0m0 2h0m0 1h0m1-39h0m0 14h0m0 9h0m0 1h0m1-18h0m0 7h0m0 3h0m1-30h0m0 21h0m0 0h0m0 2h0m0 10h0m0 11h0m1-45h0m0 37h0m0 4h0m1-36h0m0 20h0m0 9h0m0 12h0m1-35h0m0 14h0m0 3h0m1-37h0m0 33h0m0 7h0m0 23h0m1-63h0m0 13h0m0 10h0m0 4h0m0 7h0m0 10h0m0 5h0m0 2h0m1-47h0m0 6h0m0 3h0m0 17h0m0 4h0m0 11h0m0 1h0m1-32h0m0 14h0m0 15h0m0 44h0m1-69h0m0 20h0m0 10h0m1-44h0m0 11h0m0 30h0m0 3h0m1-44h0m0 9h0m0 7h0m0 10h0m0 15h0m0 9h0m1-42h0m0 3h0m0 7h0m0 10h0m0 5h0m0 6h0m0 6h0m0 8h0m1-81h0m0 31h0m0 11h0m0 21h0m0 1h0m1-28h0m0 26h0m1-6h0m0 18h0m1-53h0m0 16h0m0 7h0m0 13h0m0 14h0m1-61h0m0 35h0m0 20h0m0 6h0m1-41h0m0 3h0m0 11h0m0 6h0m0 2h0m0 12h0m0 2h0m1-32h0m0 49h0m1-52h0m0 22h0m1-21h0m0 4h0m0 11h0m0 9h0m0 12h0m1-52h0m0 18h0m0 3h0m0 1h0m0 6h0m0 5h0m0 0h0m1-24h0m0 9h0m0 5h0m0 10h0m0 10h0m0 4h0m0 4h0m1-45h0m0 3h0m1-8h0m0 18h0m1-30h0m0 21h0m1-18h0m0 6h0m0 4h0m0 6h0m0 3h0m1-12h0m0 8h0m0 26h0m0 8h0m1-56h0m0 35h0m0 14h0m0 5h0m0 38h0m1-25h0m1-28h0m0 9h0m0 16h0m1-55h0m0 18h0m0 1h0m0 13h0m0 5h0m0 4h0m1-42h0m0 11h0m0 30h0m0 8h0m1-41h0m0 9h0m0 1h0m0 16h0m1-36h0m0 19h0m0 31h0m0 4h0m0 5h0m1-62h0m0 30h0m0 0h0m0 1h0m0 8h0m3-16h0m0 9h0m1-36h0m0 3h0m2 34h0m0 2h0m0 7h0m1-11h0m0 15h0m0 19h0m1-60h0m1 14h0m0 36h0m1-77h0m1 68h0m1-41h0m0 12h0m0 3h0m0 2h0m0 8h0m1-24h0m0 32h0m1-27h0m1 14h0m1-1h0m0 2h0m0 4h0m1-8h0m0 0h0m0 8h0m1-13h0m0 4h0m0 27h0m0 12h0m1-67h0m0 4h0m0 8h0m1 20h0m0 10h0m1-30h0m0 21h0m1-25h0m0 20h0m1-15h0m0 12h0m0 8h0m1-49h0m0 5h0m0 12h0m1-54h0m0 58h0m0 42h0m0 3h0m1-117h0m0 57h0m0 25h0m0 15h0m0 4h0m1-38h0m0 10h0m0 54h0m1-51h0m1 4h0m1-26h0m0 35h0m0 8h0m1-31h0m0 17h0m0 5h0m0 16h0m1-25h0m0 34h0m1-39h0m0 1h0m0 31h0m1-24h0m0 5h0m0 19h0m0 19h0m1-67h0m0 35h0m1-31h0m1-7h0m1-44h0m1 109h0m1-81h0m0 37h0m0 15h0m1-39h0m0 22h0m0 25h0m0 5h0m0 0h0m1-35h0m1 2h0m0 2h0m0 2h0m0 3h0m1-39h0m0 8h0m0 9h0m0 26h0m0 26h0m1-50h0m0 1h0m0 32h0m1-16h0m1 11h0m1-14h0m1-28h0m0 16h0m0 9h0m0 0h0m2-44h0m0 29h0m0 12h0m1-25h0m0 38h0m1-26h0m0 1h0m2-42h0m0 48h0m0 5h0m0 5h0m0 18h0m1-65h0m0 19h0m0 36h0m1-71h0m0 36h0m0 46h0m1-70h0m0 59h0m0 6h0m1-34h0m1 18h0m1-75h0m1 38h0m0 43h0m0 11h0m4-27h0m0 56h0m1-65h0m0 60h0m1-95h0m1 43h0m0 31h0m1-3h0m1-75h0m0 61h0m2-29h0m0 31h0m2 24h0m2-16h0m3-9h0m1-69h0m0 21h0m1 34h0m1-32h0m0 32h0m0 18h0m1-65h0m0 18h0m0 29h0m1-29h0m0 26h0m3-4h0m1-44h0m0 61h0m0 14h0m1-53h0m1-4h0m0 38h0m1-23h0m1-23h0m1-29h0m1 23h0m1 1h0m0 64h0m2-10h0m1-60h0m2 3h0m1 13h0m0 12h0m1-16h0m0 1h0m0 30h0m2-53h0m1 65h0m1-51h0m0 32h0m0 12h0m2-25h0m0 14h0m1-18h0m0 3h0m4 24h0m1-46h0m1-23h0m1 40h0m1 14h0m2-53h0m2 22h0m2-4h0m1 84h0m4-97h0m0 9h0m1 34h0m1-64h0m1 60h0m1-48h0m0 37h0m1 0h0m9-8h0m4-28h0m3 11h0m5-43h0m4 8h0m7 16h0m1 39h0m1-90h0m1-21h0m1 100h0m5 43h0m2 19h0m1-26h0m2-31h0m1 1h0m2-66h0m0 102h0m7-52h0m5 4h0m2-37h0m9-50h0m1 6h0m2 112h0m0 14h0m5-108h0m1-15h0m9 5h0m11-20h0m3 43h0m2 27h0m2-13h0m57-74h0m2-19h0m1 22h0m0 14h0m0 9h0m14 11h0m0 9h0m6-30h0m1-19h0m17-33h0m4-24h0m63-10h0m6-34h0" stroke="#f80d12" stroke-width="3.5" stroke-linecap="round" fill="none"/>
</g>
<line x1="1043.7" y1="572.5" x2="1697.7" y2="86" stroke="#111" stroke-width="1.5"/>
<text x="1044.2" y="605.7" font-family="DejaVu Sans, sans-serif" font-weight="bold" font-size="24.5" text-anchor="middle" fill="#262626">0</text>
<text x="1034.7" y="582.2" font-family="DejaVu Sans, sans-serif" font-weight="bold" font-size="24.5" text-anchor="end" fill="#262626">0</text>
<text x="1160.4" y="605.7" font-family="DejaVu Sans, sans-serif" font-weight="bold" font-size="24.5" text-anchor="middle" fill="#262626">1</text>
<text x="1034.7" y="492.1" font-family="DejaVu Sans, sans-serif" font-weight="bold" font-size="24.5" text-anchor="end" fill="#262626">1</text>
<text x="1276.5" y="605.7" font-family="DejaVu Sans, sans-serif" font-weight="bold" font-size="24.5" text-anchor="middle" fill="#262626">2</text>
<text x="1034.7" y="402" font-family="DejaVu Sans, sans-serif" font-weight="bold" font-size="24.5" text-anchor="end" fill="#262626">2</text>
<text x="1392.7" y="605.7" font-family="DejaVu Sans, sans-serif" font-weight="bold" font-size="24.5" text-anchor="middle" fill="#262626">3</text>
<text x="1034.7" y="311.9" font-family="DejaVu Sans, sans-serif" font-weight="bold" font-size="24.5" text-anchor="end" fill="#262626">3</text>
<text x="1508.9" y="605.7" font-family="DejaVu Sans, sans-serif" font-weight="bold" font-size="24.5" text-anchor="middle" fill="#262626">4</text>
<text x="1034.7" y="221.8" font-family="DejaVu Sans, sans-serif" font-weight="bold" font-size="24.5" text-anchor="end" fill="#262626">4</text>
<text x="1625" y="605.7" font-family="DejaVu Sans, sans-serif" font-weight="bold" font-size="24.5" text-anchor="middle" fill="#262626">5</text>
<text x="1034.7" y="131.7" font-family="DejaVu Sans, sans-serif" font-weight="bold" font-size="24.5" text-anchor="end" fill="#262626">5</text>
<text x="1741.2" y="605.7" font-family="DejaVu Sans, sans-serif" font-weight="bold" font-size="24.5" text-anchor="middle" fill="#262626">6</text>
<text x="1034.7" y="41.6" font-family="DejaVu Sans, sans-serif" font-weight="bold" font-size="24.5" text-anchor="end" fill="#262626">6</text>
<text x="1397.9" y="643" font-family="Liberation Sans, sans-serif" font-weight="bold" font-size="29.2" text-anchor="middle" fill="#000" stroke="#000" stroke-width="0.6" stroke-linejoin="round" textLength="540.3" lengthAdjust="spacingAndGlyphs"><tspan>True isoprene column (10</tspan><tspan font-size="17.6" dy="-8.6">16</tspan><tspan dy="8.6"> molec/cm</tspan><tspan font-size="17.6" dy="-8.6">2</tspan><tspan dy="8.6">)</tspan></text>
<text transform="translate(1000 308.3) rotate(-90)" font-family="Liberation Sans, sans-serif" font-weight="bold" font-size="29.2" text-anchor="middle" fill="#000" stroke="#000" stroke-width="0.6" stroke-linejoin="round" textLength="608.3" lengthAdjust="spacingAndGlyphs"><tspan>Predicted isoprene column (10</tspan><tspan font-size="17.6" dy="-8.6">16</tspan><tspan dy="8.6"> molec/cm</tspan><tspan font-size="17.6" dy="-8.6">2</tspan><tspan dy="8.6">)</tspan></text>
<text x="1540.5" y="433.8" font-family="Liberation Sans, sans-serif" font-weight="bold" font-size="29" text-anchor="start" fill="#000" stroke="#000" stroke-width="0.6" stroke-linejoin="round">Slope = 0.96</text>
<text x="1540.5" y="469.1" font-family="Liberation Sans, sans-serif" font-weight="bold" font-size="29" text-anchor="start" fill="#000" stroke="#000" stroke-width="0.6" stroke-linejoin="round"><tspan>R</tspan><tspan font-size="19.3" dy="-8.7">2</tspan><tspan dy="8.7"> = 0.93</tspan></text>
<text x="1076.2" y="76.1" font-family="Liberation Sans, sans-serif" font-weight="bold" font-size="35" text-anchor="start" fill="#000" stroke="#000" stroke-width="0.6" stroke-linejoin="round">d</text>
</g>
<g id="panel-e">
<path d="M1159.9 1263.3v-7M1159.9 722.7v7M1043.7 1173.2h7M1740.7 1173.2h-7M1276 1263.3v-7M1276 722.7v7M1043.7 1083.1h7M1740.7 1083.1h-7M1392.2 1263.3v-7M1392.2 722.7v7M1043.7 993h7M1740.7 993h-7M1508.4 1263.3v-7M1508.4 722.7v7M1043.7 902.9h7M1740.7 902.9h-7M1624.5 1263.3v-7M1624.5 722.7v7M1043.7 812.8h7M1740.7 812.8h-7" stroke="#505050" stroke-width="1.2" fill="none"/>
<rect x="1043.7" y="722.7" width="697" height="540.6" fill="none" stroke="#505050" stroke-width="1.5"/>
<line x1="1043.7" y1="1263.3" x2="1740.7" y2="722.7" stroke="#222" stroke-width="0.9" stroke-dasharray="5 1.6"/>
<clipPath id="ce"><rect x="1035.7" y="722.7" width="705" height="543.6"/></clipPath>
<g clip-path="url(#ce)">
<marker id="cape" markerUnits="userSpaceOnUse" markerWidth="13" markerHeight="2" refX="6.3" refY="1" orient="0"><path d="M0 1h12.6" stroke="#1d74b8" stroke-width="1.7"/></marker>
<path d="m1044 1159v26m0-31v37m0-36v35m0-36v40m0-36v34m0-33v35m0-38v41m0-31v25m0-31v37m0-29v31m0-29v30m0-29v29m0-26v33m0-32v33m0-28v24m0-33v42m0-32v25m0-26v30m0-37v44m1-58v29m0-26v27m0-21v16m0-20v28m0-21v15m0-27v40m0-37v34m0-29v25m0-23v23m0-31v43m0-33v25m0-24v24m0-31v38m0-29v29m0-24v22m0-22v30m0-28v33m0-36v44m0-42v41m1-58v22m0-23v24m0-13v26m0-31v36m0-38v41m0-38v40m0-37v36m0-34v35m0-38v41m0-41v42m0-35v30m1-51v30m0-34v41m0-34v29m0-15v10m0-14v23m0-18v14m0-29v45m0-43v44m0-39v36m0-24v24m0-31v39m0-32v26m0-26v27m0-29v42m0-41v41m1-53v18m0-10v14m0-14v19m0-19v23m0-21v20m0-24v45m1-51v22m0-22v25m0-15v10m0-11v37m1-46v21m0-22v27m0-24v22m0-15v13m0-9v17m1-29v22m0-23v27m1-23v14m0-34v54m0-39v25m0-19v15m0-18v24m0-14v8m0-18v33m0-24v19m1-27v22m0-16v21m1-45v56m0-27v20m1-34v25m0-15v11m0-15v21m1-26v18m0-18v18m0-11v10m0-33v62m0-44v27m0-25v24m0-17v17m1-27v20m0-23v26m0-18v12m0-11v11m0-13v15m0-21v29m0-27v26m0-22v21m0-19v24m0-22v24m1-29v10m0-17v27m0-34v57m0-40v26m0-24v23m1-24v16m1-22v27m0-19v16m0-37v61m0-50v62m1-62v21m0-20v27m0-20v15m1-25v22m0-21v22m0-16v17m0-15v15m0-12v10m0-18v27m0-20v13m0-14v22m1-31v22m0-10v8m0-10v21m0-18v22m1-33v16m0-37v63m0-41v19m0-16v16m0-16v18m0-19v21m0-16v13m0-17v25m1-28v26m0-22v22m0-19v25m1-32v16m0-19v26m0-20v17m0-13v10m0-11v18m0-21v24m1-28v24m0-22v21m0-22v23m0-22v28m0-24v27m1-25v8m0-8v10m0-10v16m0-16v18m0-21v27m0-22v21m1-33v26m0-17v15m1-19v23m0-21v22m0-19v23m1-34v24m0-18v13m0-17v21m0-21v27m0-28v28m0-18v16m0-18v20m0-31v44m0-52v61m0-42v28m0-23v17m0-15v24m1-54v54m0-34v23m0-21v21m0-18v19m1-46v61m0-37v15m0-7v14m1-25v19m0-21v28m0-12v11m1-20v8m0-9v12m0-10v9m0-10v18m0-13v12m0-9v8m0-10v24m1-32v13m0-25v42m0-33v26m0-19v13m0-9v14m0-11v20m1-32v21m0-19v21m0-22v28m0-24v23m1-26v19m0-17v15m0-15v22m1-32v28m0-31v36m0-31v29m0-25v23m1-27v20m0-18v22m0-23v27m0-22v18m0-17v20m0-14v16m0-14v26m1-38v26m0-27v29m0-21v16m0-16v19m1-23v8m0-12v27m0-20v21m0-20v28m1-50v49m0-34v20m0-18v17m0-9v8m0-10v16m0-21v27m0-19v14m1-20v9m0-17v26m0-13v13m1-21v17m0-22v29m0-26v24m0-21v22m1-14v8m0-16v26m0-20v27m1-35v16m0-15v22m0-30v37m0-27v20m0-35v63m0-44v25m0-19v25m1-56v55m0-35v21m0-17v18m0-18v25m1-29v13m0-10v12m0-18v29m0-26v29m0-24v22m1-21v7m0-1v11m0-14v21m1-30v12m0-15v19m0-11v12m0-12v14m0-18v23m0-15v11m0-9v17m1-25v8m0-6v10m0-15v21m0-21v22m0-22v25m0-20v26m1-45v40m0-26v17m0-12v22m0-20v28m1-30v7m0-3v10m0-7v20m0-31v45m1-43v8m0-15v27m0-25v26m0-21v23m1-27v15m0-18v21m0-16v11m0-10v20m0-14v14m0-13v13m0-14v25m1-29v14m0-17v19m0-30v48m0-29v20m1-40v43m0-27v14m0-13v25m0-23v21m1-35v26m0-18v11m0-15v21m0-34v52m0-29v9m0-13v18m0-10v7m0-6v17m1-36v25m0-23v23m0-17v13m0-23v37m0-30v23m0-31v45m0-34v25m0-23v21m0-14v11m0-13v15m0-12v13m1-24v21m0-24v27m0-15v25m1-41v26m0-22v23m0-19v22m0-30v39m0-25v15m0-19v26m0-21v23m0-22v24m1-32v15m0-19v30m0-17v8m0-15v22m1-41v52m0-32v12m0-4v9m0-11v14m1-27v24m0-22v28m0-17v7m0-14v23m1-28v18m0-15v23m0-18v18m0-28v41m0-29v19m0-17v15m1-30v27m0-24v22m0-20v19m0-15v14m0-15v19m0-12v8m0-8v24m1-30v8m0-15v26m0-22v21m0-22v24m0-20v17m0-18v24m0-21v18m0-16v16m0-14v13m0-15v19m0-19v24m1-27v7m0-6v10m0-17v25m0-24v28m0-23v19m1-23v14m0-8v21m1-27v13m0-12v13m0-13v21m0-15v10m0-13v20m0-17v16m0-16v22m0-31v49m1-50v19m0-14v10m0-10v11m0-9v11m0-18v26m0-41v61m0-42v25m0-24v25m0-27v31m0-26v24m1-28v17m0-13v13m0-11v14m1-23v24m0-25v28m0-28v27m0-19v13m0-18v27m0-17v13m1-23v15m0-16v21m0-20v20m0-21v27m0-17v8m1-35v55m0-39v23m0-16v11m0-18v26m0-24v24m0-16v9m0-28v47m0-35v27m0-21v17m0-16v25m1-37v22m0-14v9m0-6v12m0-20v28m0-34v57m1-50v21m0-15v12m0-13v15m0-16v19m0-34v52m0-34v16m1-19v11m0-17v25m0-21v18m0-10v7m1-17v19m0-22v26m0-10v25m1-40v21m0-15v11m0-5v8m0-10v13m0-11v10m0-8v7m0-12v29m1-39v27m0-21v18m0-23v28m0-17v11m0-12v20m1-24v23m0-15v10m0-12v22m1-26v12m0-12v12m0-16v27m0-19v27m1-35v18m0-21v28m0-22v19m0-17v20m0-34v48m0-31v19m1-24v11m0-17v24m0-16v10m0-15v23m0-14v8m0-13v22m1-22v16m0-12v10m0-6v9m0-12v23m0-18v23m1-37v13m0-12v16m0-18v24m0-23v27m0-18v16m0-21v27m1-34v22m0-15v21m0-18v28m1-41v27m0-17v16m0-12v18m1-27v16m0-15v18m0-17v19m0-21v23m0-18v16m0-17v27m1-31v25m0-19v18m0-19v21m0-15v22m1-39v29m0-17v13m0-16v21m0-17v25m0-15v8m0-14v22m1-31v22m0-20v18m0-13v19m0-20v24m1-33v19m0-20v23m0-14v10m0-17v23m0-23v26m0-21v16m0-18v21m0-22v25m0-20v19m0-18v18m1-24v20m0-22v26m0-23v20m0-13v12m0-12v16m0-15v23m1-41v22m0-11v9m0-12v16m0-21v28m0-26v24m0-16v10m0-13v16m0-19v23m0-22v27m0-19v11m0-17v24m0-20v22m0-20v25m0-22v24m0 38v14m1-85v16m0-18v21m0-22v27m0-22v18m0-22v26m0-16v13m0-19v27m0-37v49m0-30v11m0-15v20m0-27v49m1-53v14m0-7v14m0-14v17m0-15v18m0-14v24m1-39v25m0-25v29m0-15v8m0-12v18m0-16v24m0-22v22m0-21v22m1-34v15m0-14v18m0-18v20m0-16v20m0-22v24m0-21v18m0-12v12m0-12v14m0-18v23m1-34v17m0-16v21m0-19v17m0-12v14m0-16v24m0-23v21m0-23v27m0-16v16m0-25v42m1-39v8m0-15v23m0-17v18m0-37v60m0-41v25m0-21v17m0-13v15m0-17v21m0-23v27m0-21v21m0-32v44m1-41v8m0-22v39m0-27v15m0-17v19m0-19v21m0-14v9m0-17v28m0-20v20m0-18v19m0-18v21m1-29v13m0-10v13m0-15v17m0-33v54m0-35v19m1-29v22m0-18v17m0-15v14m0-10v10m0-5v8m0-8v12m0-13v17m1-17v26m1-49v29m0-15v19m0-11v9m0-10v13m0-12v20m0-18v19m1-24v11m0-11v18m0-19v27m0-23v20m1-26v11m0-9v12m0-14v20m0-22v27m0-18v12m1-35v28m0-26v27m0-14v14m0-9v7m0-11v17m0-18v20m0-14v12m0-13v17m1-36v41m0-28v18m0-27v37m0-24v12m0-16v23m0-28v39m0-31v27m0-23v26m0-20v17m0-18v21m1-47v26m0-19v23m0-19v18m0-17v20m0-14v9m0-14v19m0-22v28m0-32v37m0-21v19m0-17v28m1-37v10m0-12v22m0-17v13m0-16v25m0-23v24m0-19v17m0-19v25m0-19v19m0-15v18m0-20v25m1-48v19m0-19v20m0-20v20m0-18v26m0-14v17m0-18v23m0-11v9m0-16v23m0-6v15m1-41v11m0-13v21m0-32v46m0-29v15m0-17v24m0-17v18m0-17v19m0-18v18m0-13v9m0-10v12m0-7v15m1-33v15m0-18v21m0-16v13m0-28v44m0-32v23m0-19v24m0-23v24m0-13v13m1-28v14m0-14v14m0-17v22m0-17v13m0-18v23m0-15v14m0-15v16m0-20v27m0-22v24m0-17v10m0-3v12m1-29v11m0-29v48m0-37v26m0-19v14m0-5v9m0-15v24m0-17v12m0-13v21m1-40v14m0-7v12m0-15v19m0-15v19m0-22v27m0-37v47m0-27v23m0-18v18m0-11v9m1-31v18m0-24v33m0-22v18m0-15v12m0-18v28m0-20v15m0-8v10m0-8v14m1-30v17m0-11v10m0-9v14m0-18v26m0-20v18m0-14v20m0-14v14m0-15v19m0-14v13m0-11v16m0-28v42m1-60v16m0-16v21m0-18v18m0-15v13m0-8v8m0-6v10m0-9v10m0-9v14m0-8v14m0-12v13m0-12v13m1-41v28m0-22v21m0-17v20m0-13v9m0-17v26m0-25v25m0-15v10m0-8v11m0-11v15m0-15v16m0-13v18m0-14v13m0-10v10m0-11v15m0-15v15m0 35v4m1-85v19m0-11v19m0-19v20m0-15v11m0-8v8m0-13v23m0-19v28m0-29v41m0-30v20m0-17v18m0-15v27m0-19v15m0-22v32m0 6v13m0-9v9m0-1v4m1-93v27m0-10v15m0-13v11m0-17v25m0-16v8m0-8v9m0-15v22m0-22v22m0-31v42m0-28v17m0-18v20m0-20v20m0-19v19m0-16v14m0-10v13m0-15v20m0-19v21m0-17v13m0-7v20m0-13v9m0-9v15m0-13v16m0 17v12m0-3v5m1-91v23m0-15v16m0-21v27m0-15v11m0-16v22m0-20v24m0-19v15m0-17v20m0-21v22m0-15v11m0-13v17m0-21v26m0-15v18m0-17v19m0-18v17m0 32v18m1-93v21m0-17v16m0 0v7m0-7v10m0-17v24m0-18v15m0-19v23m0-16v14m0-14v14m0-22v31m0-25v19m0-16v14m0-4v11m0-14v17m0-19v39m0-22v7m0 27v4m1-71v11m0-24v47m0-31v18m0-20v22m0-18v14m0-16v22m0-35v49m0-38v27m0-25v24m0-20v28m0-16v9m0-2v15m0-12v11m0-9v8m0-8v13m0-12v12m0-11v15m0 4v28m0-13v7m1-80v24m0-20v23m0-23v26m0-21v16m0-18v21m0-18v17m0-7v28m0-19v12m0 3v9m0-18v37m0-3v7m1-77v27m0-21v15m0-20v28m0-22v19m0-22v26m0-48v74m0-50v27m0-24v22m0-30v39m0-37v36m0-29v22m0-32v46m0-36v30m0-21v13m0-8v10m0 3v13m0-11v15m0-11v14m1-55v25m0-17v10m0-9v9m0-16v25m0-18v13m0-13v15m0-19v23m0-17v14m0-17v21m0-11v9m0-8v12m0-32v53m0-28v15m0-36v59m0-36v17m0-7v11m0-5v11m0-10v13m0-2v12m0-9v9m0-10v11m0-9v10m0-5v5m0-5v6m1-74v22m0-9v21m0-20v23m0-14v8m0-12v19m0-14v15m0-15v16m0-12v10m0-9v11m0-18v26m0-7v11m0-3v13m0-8v8m0-8v9m0-3v10m0 0v8m1-80v26m0-24v23m0-22v26m0-18v16m0-13v20m0-16v16m0-15v20m0-19v19m0-16v15m0-15v17m0-22v29m0-16v12m0-1v10m0-12v18m0 13v6m1-78v23m0-14v21m0-14v17m0-17v17m0-36v57m0-40v25m0-22v19m0-20v26m0-24v22m0-19v19m0-14v17m0-11v16m0-12v9m0-5v10m0-10v12m0-9v11m0-9v8m0-9v15m0-7v8m0-1v18m0-9v8m0-6v8m0-6v5m0-2v6m0-1v7m1-89v27m0-16v24m0-18v14m0-12v11m0-19v27m0-15v7m0-8v12m0-16v22m0-14v8m0-14v22m0-26v34m0-21v13m0-10v11m0-15v21m0-14v13m0-11v20m0-4v12m0-12v14m0-13v13m0-4v7m0-9v11m0-7v6m0-3v8m0-6v8m0-6v5m0 1v8m1-70v16m0-19v25m0-18v11m0-9v9m0-17v27m0-16v9m0-7v19m0-15v16m0-17v19m0-16v20m0-11v8m0-10v18m0-10v13m0-8v10m0-6v19m0 10v4m1-78v17m0-14v15m0-17v23m0-22v24m0-18v20m0-19v26m0-5v13m0-5v15m0-13v11m0-11v16m0-9v14m0-6v25m1-77v17m0-15v18m0-12v12m0-13v15m0-19v24m0-18v14m0-14v15m0-17v20m0-14v10m0-13v17m0-22v28m0-20v13m0-16v18m0-16v15m0-21v30m0-39v52m0-26v10m0-9v13m0-1v11m0-5v12m0 12v5m0 2v5m0-4v4m1-85v23m0-15v16m0-19v24m0-17v11m0-16v22m0-22v22m0-16v12m0-17v22m0-31v42m0-25v10m0-15v20m0-21v26m0-25v24m0-25v29m0-25v24m0-18v21m0-20v23m0-21v21m0-15v12m0-10v10m0-7v18m0-8v14m0-8v8m0-5v13m0 0v6m0-2v4m0 1v5m0-1v4m1-90v26m0-11v11m0-7v11m0-16v21m0-24v27m0-25v26m0-22v20m0-10v10m0-7v10m0-18v27m0-5v15m0-8v15m0-11v12m0-1v7m0 0v8m0-8v8m0-5v8m0-1v5m0-5v7m1-81v13m0-14v30m0-22v15m0-16v18m0-12v16m0-19v24m0-11v11m0-11v14m0-18v23m0-21v19m0-13v16m0-14v13m0-12v12m0-9v16m0-15v14m0-11v11m0-2v11m0-1v8m0-4v7m0-6v7m0 5v7m0-6v6m1-73v23m0-15v12m0-12v15m0-21v29m0-22v15m0-14v19m0-16v17m0-13v16m0-13v37m0-22v12m0-11v15m0-11v10m0-6v6m0 11v7m1-81v27m0-19v19m0-12v21m0-19v18m0-11v14m0-15v18m0-18v19m0-13v8m0-30v52m0-33v18m0-14v10m0 22v5m0-6v18m0-5v6m0 1v4m1-70v13m0-16v20m0-26v34m0-23v16m0-19v22m0-21v21m0-22v26m0-22v19m0-16v14m0-17v21m0-6v17m0-11v8m0 1v9m0-8v12m0-10v13m1-58v24m0-24v25m0-19v14m0-11v16m0-16v17m0-17v23m0-20v18m0-19v25m0-17v15m0-11v15m0-16v18m0-16v15m0-15v20m0-2v11m0 16v5m0-4v7m0 5v4m1-87v16m0-4v16m0-11v9m0-11v17m0 5v15m0 2v7m0 2v7m0-4v8m0-3v6m1-67v10m0-6v11m0-20v29m0-22v21m0-3v16m0-13v10m0-10v11m0-12v19m0-16v18m0-11v12m0-15v35m0-18v9m0-5v11m0-3v6m0 1v5m1-69v11m0-17v23m0-22v24m0-23v25m0-16v11m0-11v20m0-17v15m0-16v18m0-15v11m0-10v14m0-16v21m0-18v19m0-9v12m0-11v16m0-13v10m0-6v16m0-7v17m0-4v8m0 2v7m0-6v8m1-73v16m0-19v28m0-24v20m0-23v28m0-36v46m0-27v17m0-10v14m0-12v12m0-8v11m0-6v15m0-12v13m0-7v7m0 2v8m0 22v3m1-89v23m0-16v15m0-14v18m0-11v14m0-17v22m0-34v47m0-34v23m0-20v17m0-18v22m0-22v27m0-16v26m0-21v17m0-4v14m0-6v11m1-61v24m0-24v25m0-21v18m0-17v28m0-21v16m0-7v7m0-28v54m0-21v12m0-16v27m0-6v8m0 0v10m0-4v9m0-1v6m1-65v13m0-10v8m0-11v15m0-13v11m0-8v10m0-21v39m0-29v20m0-18v20m0-22v27m0-22v18m0-13v10m0-17v28m0-18v18m0-10v17m0-5v9m0-6v12m0-8v8m1-73v26m0-9v19m0-17v19m0-43v67m0-36v9m0-11v14m0-16v19m0-21v26m0-18v11m0-14v20m0-17v22m0-15v20m0-14v10m0-11v17m0-10v8m0-11v16m0-14v13m0-4v14m0-6v12m0 7v14m1-84v29m0-17v11m0-13v19m0-10v8m0-13v25m0-19v18m0-18v40m0-23v8m0 1v10m0-7v11m0-9v9m0 8v8m0-4v5m1-66v8m0-13v20m0-14v11m0-17v26m0-14v20m0-18v16m0-13v10m0-7v8m0-2v13m0-9v13m0-8v15m0 8v8m0 0v5m1-79v26m0-30v43m0-27v12m0-14v17m0-30v45m0-30v32m0-18v13m0-6v14m0-14v17m0-6v10m0-9v8m0 16v8m1-109v83m0-47v15m0-23v36m0-25v16m0-19v24m0-20v18m0-22v27m0-20v17m0-16v19m0-19v21m0-19v19m0-21v24m0-13v15m0-21v29m0-18v9m0 7v8m0-5v6m0-7v15m0-8v12m0 3v7m1-83v28m0-10v12m0-14v19m0-23v29m0-23v21m0-16v17m0-31v48m0-27v12m0-8v9m0-9v15m0-8v15m0-10v20m0 0v9m1-71v25m0-19v27m0-16v11m0-16v22m0-17v20m0-11v12m0-13v19m0-15v17m0-15v18m0-17v17m0-14v13m0-10v12m0 7v10m0-2v5m0-5v9m0 1v5m0 0v4m1-68v22m0-19v20m0-8v14m0-13v18m0-10v10m0-8v9m0-7v16m0 0v6m1-64v18m0-16v22m0-18v15m0 3v15m0 7v11m0 4v5m0 4v8m1-98v53m0-29v17m0 2v12m0-10v20m0 2v13m0-8v10m0-22v36m0-21v8m0-7v9m0 4v5m0 4v5m1-75v15m0-6v10m0-11v13m0-17v21m0-10v16m0-5v14m0-15v18m0-11v9m0-6v14m0-8v8m0 10v5m0-2v8m0-2v5m0-10v17m1-75v17m0-17v19m0-12v10m0 2v14m0-12v13m0-11v17m0-11v11m0 0v11m0-3v11m0-7v8m0 6v4m1-69v20m0-1v15m0-8v9m0-2v7m0-5v13m0-4v8m0-7v6m0 19v4m1-83v22m0-12v11m0-7v13m0 0v18m0-12v13m0-7v12m0 8v10m0-12v19m0-13v7m1-81v29m0-25v21m0 42v10m0 0v8m1-70v13m0-10v11m0-12v23m0-2v11m0-12v17m0-9v9m0 2v7m1-60v23m0-6v22m0-9v20m0-1v15m0-11v8m0 10v6m0-7v9m0-6v8m0-5v8m1-67v11m0-8v14m0-1v10m0 3v10m0-4v8m0 23v4m1-81v21m0-19v20m0-15v11m0-13v25m0-20v17m0-18v24m0-34v44m0-25v12m0-16v22m0-10v10m0 18v8m0 8v4m1-57v12m0 0v10m0-11v16m0-12v15m0-15v18m0-4v8m0-1v13m0-5v6m0 6v5m1-68v20m0-5v15m0 2v8m0-7v10m0-2v9m0 11v7m1-77v26m0-22v19m0-13v17m0-9v10m0-3v17m0 5v9m0-1v11m1-67v14m0-6v21m0-21v46m0-17v16m0-6v9m0-5v6m0-4v6m0 4v7m1-80v26m0-5v11m0-2v10m0 27v6m0 4v4m0 4v4m0 2v4m0-3v2m1-73v16m0-14v16m0 1v13m0 26v4m1-70v15m0-20v39m0-23v18m0 8v14m0 12v7m1-79v24m0-9v20m0-5v17m0-12v15m0-23v48m0-48v49m0-31v16m0-11v11m0 3v6m0-7v10m0-3v9m1-39v9m0-2v10m0-3v7m0-4v12m1-61v16m0-17v21m0-13v10m0-7v17m0-11v20m0-9v9m0-2v9m0 20v9m1-77v23m0-17v25m0-4v13m0-13v17m0-9v9m0-9v13m0-12v15m0-8v14m0-4v6m0-7v12m0-9v13m0-10v8m0-11v24m1-81v26m0-29v45m0-5v10m0-6v16m0-2v12m0 8v8m1-71v21m0-15v12m0 2v15m0-7v16m0 4v6m1-23v7m0 7v12m0-8v8m0-9v10m1-62v14m0-30v54m0-9v12m0-21v37m0 14v4m1-75v18m0-14v20m0-14v13m0-12v16m0-13v21m0-12v10m0-11v14m0-14v20m0 10v6m0-2v7m1-47v15m0-9v16m0-9v15m0-5v10m0 4v10m0 4v3m0 4v3m1-88v26m0-10v22m0-29v55m0-27v14m0 0v12m0-1v10m0-4v8m1-66v23m0 3v17m0-10v13m0-9v11m0-3v13m0 0v9m0 2v7m0-5v4m1-71v18m0-13v21m0-5v16m1-29v16m0-11v20m0-17v18m0-10v14m0-9v11m0 5v8m0-8v11m0-8v12m0-6v9m1-34v7m0 17v9m1-75v27m0-11v23m0 17v10m1-64v21m0-4v15m0-10v21m1-40v27m0-13v38m0-25v18m0-6v11m0 3v11m1-58v25m0-16v22m0 6v11m0-1v12m0 0v5m1-62v13m0-8v20m0 0v9m0-3v16m0-1v7m0 1v7m0-6v6m0-2v7m1-75v26m0-26v27m0-12v18m0 3v11m0-3v8m0-9v15m0 13v6m0 3v6m1-77v24m0 19v9m0-6v8m1-59v19m0-19v20m0-17v20m0-6v11m0 3v8m0 7v13m0-10v7m0-6v12m0-10v8m0-6v6m0-8v11m0-1v8m2-58v18m0-8v14m0-10v18m0 9v7m1-35v14m0 36v6m1-63v10m0-15v20m0-18v17m0-11v9m0 1v17m0-10v11m0 7v9m0-5v9m0 4v7m1-77v22m0-11v13m0-11v15m0 23v7m0-1v9m1-43v12m0-9v14m0 14v6m0-4v9m0-14v23m0-14v7m1-72v20m0-5v13m0-7v20m0-5v14m0-30v48m0-26v9m0-3v8m1-29v17m0-8v9m0-8v11m0-8v8m0-10v16m0-12v10m0-7v12m0-7v12m1-55v55m0-29v15m0-9v13m0 7v16m0-4v5m1-61v10m0 23v13m0-7v7m0 11v5m0 0v4m1-43v10m0 25v4m1-75v19m0-16v23m0-17v15m0-1v18m0 34v4m1-12v6m1-62v18m0 3v10m1-35v13m0-9v10m0-9v15m0 0v19m0-11v10m0 5v6m0-6v13m0 14v3m1-83v19m0-9v23m0 27v8m1-65v24m0 0v18m0-17v18m0 2v10m0 15v3m0-2v7m1-77v16m0-29v43m0-28v14m0-4v11m0 5v18m1-30v15m0-13v20m0-5v12m0 14v6m1-40v18m0 1v11m0 0v7m0 1v7m0 1v6m1-76v13m0-4v15m0-5v20m0-5v7m0 22v5m0-1v8m1-48v9m0 6v7m0 6v25m0-10v12m1-64v13m0-9v11m0-9v16m0-12v18m0 16v7m1-59v20m0-15v20m0 19v7m1-53v37m1-42v21m0-17v23m0-11v9m0 18v12m0-9v7m0 14v6m1-67v12m0 0v17m0-8v9m0-2v11m0-23v41m0-5v6m0 0v4m1-66v22m0-28v58m0 9v6m1-26v8m0-7v10m0-8v13m1-69v25m0-20v21m0-1v10m0 36v7m1-36v8m0-20v40m1-53v12m0-6v17m0-7v10m0 1v8m0 0v7m1-54v20m0-10v23m0 14v12m0-5v6m1-41v16m0 14v8m1-23v16m0 2v12m1-45v11m0 3v16m1-25v11m0 32v7m1-72v25m1 30v10m1-17v13m0-10v9m0-4v9m2-68v26m0-6v20m0 7v8m1-49v13m0 26v12m1-51v22m0 25v9m0-1v6m0-5v7m0 4v7m2-58v16m1 34v6m1-75v14m0 2v10m0 41v5m1-48v17m1-28v20m0-17v17m0-15v15m0-8v17m0 24v5m1-66v12m0-9v18m0-5v11m0-8v12m0 10v31m1-66v18m0-12v15m0-6v10m0-9v9m0-9v13m0 7v9m0-4v7m0 16v5m0-3v3m1-76v21m0-5v11m0-11v12m1 5v14m0 3v10m0 5v7m1-72v22m1-2v12m0-4v8m0-9v13m0-23v42m0-18v6m0 13v8m0-3v4m1-72v14m0-3v20m0-14v16m0 9v9m0-10v15m1-48v11m0-22v37m1 6v14m1-57v18m0-8v12m0 5v11m0-6v9m1 28v5m1-49v9m1 37v7m1-45v16m0 5v7m0-7v10m1-24v7m0 9v9m3-65v17m0 1v16m0 37v7m1-60v42m0-29v17m0 5v12m1-23v14m0 0v6m1-36v11m0 2v13m0-4v13m0-9v8m0 8v5m2-75v18m0 10v16m1-21v9m1-3v10m0 0v33m0-17v12m0-8v10m1-54v14m0 0v10m0 10v11m0-7v6m0 13v6m1-33v8m1-44v18m1-33v24m0 0v10m0 31v15m1-71v17m0-7v22m0 10v17m0-8v9m3-44v15m0-9v15m1 13v9m0 8v8m1-33v12m1-48v17m0 30v12m1-60v13m1-17v19m0 36v10m1-34v15m0-8v8m0 5v8m0 0v10m1-54v18m1 5v10m1-2v11m1-43v17m1-24v17m0 13v9m0-9v11m0 20v5m0-4v6m1-70v12m0 52v13m1-46v15m0 3v10m1-39v15m0 14v6m1-63v24m1 42v6m1-71v25m0-21v17m1-13v11m1 7v14m3-9v14m5-23v15m0 17v12m1-18v14m3-56v15m5 12v12m3-5v13m1 7v5m6-60v15m4 13v12m1-41v15m1 0v14m5 37v4m1-72v14m6-5v14m3 6v12m2 12v10m3-42v13m1 41v3m4-111v54m1 22v10m2-17v12m5-34v12m5 40v6m3-83v49m2-14v14m1 25v6m8-69v17m3 14v17m2-3v12m6-49v12m4-33v22m7-7v17m2-41v43m8 25v17m2-49v15m2-5v19m3-37v13m7 51v3m5-64v27m3-77v77m9-34v19m1 7v18m7-22v12m10-22v15m10-48v42m3-31v20m1-26v18m3-9v19m57-24v21m3-3v12m0-2v16m14 0v11m7-40v13m17-39v28m4-29v29m63 21v13m5-13v13" stroke="#1d74b8" stroke-width="1.9" fill="none" marker-start="url(#cape)" marker-mid="url(#cape)" marker-end="url(#cape)"/>
<rect x="1037.2" y="1157.9" width="6" height="106.4" fill="#1d74b8"/>
<polygon points="1041.4,1181.2 1045.4,1181.2 1045.4,1179.9 1049.5,1179.9 1049.5,1180.3 1053.6,1180.3 1053.6,1182.7 1057.6,1182.7 1057.6,1177.9 1061.7,1177.9 1061.7,1179.3 1065.8,1179.3 1065.8,1179 1069.8,1179 1069.8,1183.6 1073.9,1183.6 1073.9,1185 1078,1185 1078,1184 1082,1184 1082,1182.3 1086.1,1182.3 1086.1,1185.1 1090.2,1185.1 1090.2,1187 1094.2,1187 1094.2,1184.4 1098.3,1184.4 1098.3,1188.6 1102.4,1188.6 1102.4,1187.3 1106.4,1187.3 1106.4,1186.3 1110.5,1186.3 1110.5,1187.8 1114.6,1187.8 1114.6,1186.1 1118.6,1186.1 1118.6,1190.7 1122.7,1190.7 1122.7,1192.6 1126.8,1192.6 1126.8,1193.5 1130.8,1193.5 1130.8,1194.4 1134.9,1194.4 1134.9,1191.5 1139,1191.5 1139,1192.4 1143,1192.4 1143,1194.6 1147.1,1194.6 1147.1,1200.2 1151.2,1200.2 1151.2,1200.3 1155.2,1200.3 1155.2,1207.9 1159.3,1207.9 1159.3,1211.4 1163.4,1211.4 1163.4,1214.1 1167.4,1214.1 1167.4,1222.7 1171.5,1222.7 1171.5,1229.5 1175.5,1229.5 1175.5,1243.4 1171.5,1243.4 1171.5,1252.7 1167.4,1252.7 1167.4,1256.7 1163.4,1256.7 1163.4,1264 1159.3,1264 1159.3,1263.6 1155.2,1263.6 1155.2,1265.1 1151.2,1265.1 1151.2,1265.1 1147.1,1265.1 1147.1,1265.1 1143,1265.1 1143,1264.8 1139,1264.8 1139,1262.9 1134.9,1262.9 1134.9,1265.1 1130.8,1265.1 1130.8,1265.1 1126.8,1265.1 1126.8,1265.1 1122.7,1265.1 1122.7,1263.5 1118.6,1263.5 1118.6,1265.1 1114.6,1265.1 1114.6,1262.7 1110.5,1262.7 1110.5,1264.6 1106.4,1264.6 1106.4,1263.2 1102.4,1263.2 1102.4,1265.1 1098.3,1265.1 1098.3,1264.6 1094.2,1264.6 1094.2,1265.1 1090.2,1265.1 1090.2,1265.1 1086.1,1265.1 1086.1,1263.4 1082,1263.4 1082,1265.1 1078,1265.1 1078,1265.1 1073.9,1265.1 1073.9,1264.4 1069.8,1264.4 1069.8,1263.2 1065.8,1263.2 1065.8,1265.1 1061.7,1265.1 1061.7,1263.2 1057.6,1263.2 1057.6,1265.1 1053.6,1265.1 1053.6,1265.1 1049.5,1265.1 1049.5,1263.9 1045.4,1263.9 1045.4,1265.1 1041.4,1265.1" fill="#f80d12"/>
<path d="m1044 1172h0m0 0h0m0 0h0m0 2h0m0 1h0m0 2h0m0 0h0m0 1h0m0 1h0m0 5h0m0 1h0m0 1h0m0 5h0m0 0h0m0 1h0m0 0h0m0 2h0m0 1h0m0 0h0m1-22h0m0 2h0m0 1h0m0 2h0m0 1h0m0 0h0m0 0h0m0 1h0m0 1h0m0 1h0m0 1h0m0 1h0m0 0h0m0 5h0m0 1h0m0 4h0m0 3h0m0 3h0m0 0h0m1-26h0m0 0h0m0 12h0m0 0h0m0 1h0m0 2h0m0 1h0m0 2h0m0 0h0m0 0h0m0 1h0m1-21h0m0 1h0m0 2h0m0 4h0m0 2h0m0 1h0m0 1h0m0 1h0m0 1h0m0 6h0m0 1h0m0 0h0m0 1h0m0 5h0m0 1h0m1-24h0m0 6h0m0 2h0m0 2h0m0 1h0m0 9h0m1-18h0m0 1h0m0 3h0m0 13h0m1-18h0m0 3h0m0 0h0m0 3h0m0 5h0m1-9h0m0 1h0m1-2h0m0 0h0m0 1h0m0 0h0m0 2h0m0 2h0m0 2h0m0 2h0m1-6h0m0 5h0m1-6h0m0 11h0m1-11h0m0 2h0m0 1h0m1-6h0m0 0h0m0 3h0m0 3h0m0 0h0m0 1h0m0 3h0m1-8h0m0 0h0m0 1h0m0 0h0m0 0h0m0 1h0m0 1h0m0 2h0m0 3h0m0 2h0m1-12h0m0 1h0m0 8h0m0 2h0m0 1h0m1-5h0m1-1h0m0 3h0m0 1h0m0 12h0m1-20h0m0 3h0m0 2h0m1-7h0m0 1h0m0 4h0m0 0h0m0 1h0m0 1h0m0 0h0m0 3h0m1-9h0m0 5h0m0 4h0m0 4h0m1-14h0m0 2h0m0 0h0m0 2h0m0 1h0m0 0h0m0 1h0m0 2h0m1-2h0m0 2h0m0 4h0m1-11h0m0 2h0m0 2h0m0 0h0m0 3h0m0 0h0m1-4h0m0 0h0m0 1h0m0 3h0m0 3h0m1-7h0m0 1h0m0 3h0m0 1h0m0 1h0m0 2h0m1-9h0m0 4h0m1-1h0m0 2h0m0 4h0m1-11h0m0 0h0m0 1h0m0 2h0m0 0h0m0 4h0m0 0h0m0 1h0m0 0h0m0 3h0m0 0h0m0 5h0m1-15h0m0 4h0m0 1h0m0 3h0m1-6h0m0 0h0m0 8h0m1-9h0m0 3h0m0 8h0m1-11h0m0 1h0m0 1h0m0 3h0m0 2h0m0 1h0m0 6h0m1-14h0m0 3h0m0 1h0m0 1h0m0 4h0m0 6h0m1-12h0m0 2h0m0 3h0m0 1h0m1-5h0m0 1h0m0 3h0m1-7h0m0 1h0m0 2h0m0 1h0m1-6h0m0 3h0m0 2h0m0 0h0m0 2h0m0 4h0m0 7h0m1-12h0m0 0h0m0 2h0m0 2h0m1-10h0m0 5h0m0 4h0m0 5h0m1-11h0m0 0h0m0 1h0m0 3h0m0 2h0m0 0h0m0 2h0m1-9h0m0 1h0m0 7h0m1-7h0m0 1h0m0 1h0m0 2h0m1 1h0m0 1h0m0 7h0m1-14h0m0 4h0m0 0h0m0 1h0m0 6h0m0 1h0m0 5h0m1-15h0m0 2h0m0 3h0m0 3h0m1-10h0m0 3h0m0 2h0m0 4h0m0 1h0m1-7h0m0 9h0m0 1h0m1-13h0m0 1h0m0 4h0m0 1h0m0 1h0m0 1h0m0 6h0m1-13h0m0 3h0m0 0h0m0 1h0m0 2h0m0 5h0m1-12h0m0 2h0m0 8h0m0 5h0m1-13h0m0 6h0m0 8h0m0 1h0m1-16h0m0 2h0m0 2h0m0 3h0m1-8h0m0 1h0m0 0h0m0 5h0m0 3h0m0 0h0m0 6h0m1-10h0m0 0h0m0 3h0m0 5h0m1-8h0m0 1h0m0 6h0m0 0h0m1-11h0m0 1h0m0 0h0m0 3h0m0 2h0m0 0h0m0 2h0m0 7h0m1-15h0m0 0h0m0 1h0m0 2h0m0 0h0m0 3h0m0 1h0m0 1h0m0 1h0m0 0h0m0 2h0m1-6h0m0 0h0m0 10h0m1-15h0m0 2h0m0 4h0m0 1h0m0 1h0m0 2h0m0 3h0m0 2h0m1-13h0m0 4h0m0 2h0m0 0h0m1-4h0m0 0h0m0 7h0m0 0h0m1-8h0m0 4h0m0 1h0m0 1h0m1-8h0m0 5h0m0 3h0m0 2h0m0 0h0m0 1h0m1-9h0m0 0h0m0 0h0m0 2h0m0 1h0m0 2h0m0 8h0m1-14h0m0 2h0m0 2h0m0 0h0m0 0h0m0 3h0m0 0h0m0 1h0m0 1h0m0 0h0m0 3h0m1-11h0m0 2h0m0 1h0m0 2h0m0 0h0m1-6h0m0 10h0m1-11h0m0 1h0m0 5h0m0 0h0m0 2h0m0 1h0m0 3h0m0 4h0m1-16h0m0 1h0m0 1h0m0 2h0m0 0h0m0 3h0m0 1h0m0 1h0m0 0h0m0 2h0m1-8h0m0 3h0m0 2h0m1-4h0m0 1h0m0 0h0m0 0h0m0 3h0m0 2h0m1-8h0m0 1h0m0 1h0m0 2h0m0 1h0m1-3h0m0 0h0m0 1h0m0 0h0m0 1h0m0 0h0m0 1h0m0 2h0m0 1h0m0 4h0m1-13h0m0 2h0m0 4h0m0 0h0m0 8h0m1-11h0m0 2h0m0 1h0m0 1h0m0 1h0m0 0h0m1-6h0m0 2h0m0 0h0m0 3h0m1-4h0m0 0h0m0 15h0m1-16h0m0 0h0m0 5h0m0 1h0m0 0h0m0 0h0m0 7h0m1-12h0m0 2h0m0 0h0m0 2h0m0 4h0m1-2h0m0 1h0m0 4h0m1-9h0m0 0h0m0 4h0m0 7h0m1-12h0m0 2h0m0 1h0m0 3h0m0 0h0m0 2h0m1-9h0m0 1h0m0 1h0m0 1h0m0 2h0m0 2h0m1-3h0m0 1h0m0 3h0m0 4h0m0 5h0m1-18h0m0 2h0m0 2h0m0 2h0m0 4h0m0 1h0m1-10h0m0 7h0m0 6h0m1-14h0m0 5h0m0 5h0m1-10h0m0 2h0m0 1h0m0 0h0m0 2h0m0 4h0m1-5h0m0 3h0m0 0h0m0 7h0m1-13h0m0 3h0m0 2h0m0 5h0m0 2h0m0 1h0m1-9h0m0 0h0m0 5h0m0 2h0m1-11h0m0 0h0m0 3h0m0 0h0m0 1h0m0 0h0m0 0h0m0 2h0m0 1h0m0 1h0m1-5h0m0 1h0m0 0h0m0 3h0m0 2h0m0 5h0m1-19h0m0 5h0m0 0h0m0 1h0m0 0h0m0 1h0m0 0h0m0 1h0m0 2h0m0 1h0m0 0h0m0 3h0m0 4h0m0 2h0m0 57h0m1-70h0m0 1h0m0 1h0m0 1h0m0 0h0m0 3h0m0 2h0m0 1h0m0 0h0m0 0h0m0 7h0m1-21h0m0 7h0m0 2h0m0 2h0m0 7h0m1-15h0m0 2h0m0 4h0m0 1h0m0 5h0m0 1h0m0 1h0m1-16h0m0 3h0m0 1h0m0 4h0m0 0h0m0 0h0m0 3h0m0 1h0m0 1h0m1-14h0m0 3h0m0 0h0m0 3h0m0 3h0m0 0h0m0 0h0m0 6h0m0 4h0m1-14h0m0 1h0m0 3h0m0 2h0m0 2h0m0 0h0m0 2h0m0 2h0m0 1h0m0 3h0m0 0h0m1-15h0m0 2h0m0 0h0m0 0h0m0 0h0m0 2h0m0 1h0m0 4h0m0 1h0m0 2h0m1-12h0m0 3h0m0 0h0m0 3h0m0 2h0m1-9h0m0 1h0m0 1h0m0 2h0m0 4h0m0 2h0m0 1h0m1 5h0m1-21h0m0 8h0m0 4h0m0 1h0m0 4h0m0 1h0m1-9h0m0 4h0m0 4h0m0 0h0m1-10h0m0 2h0m0 2h0m0 1h0m0 2h0m1-15h0m0 1h0m0 7h0m0 1h0m0 1h0m0 1h0m0 2h0m0 2h0m1-7h0m0 1h0m0 1h0m0 0h0m0 1h0m0 4h0m0 1h0m0 4h0m0 2h0m0 0h0m1-23h0m0 5h0m0 2h0m0 2h0m0 0h0m0 1h0m0 1h0m0 1h0m0 7h0m0 6h0m1-18h0m0 4h0m0 1h0m0 3h0m0 1h0m0 2h0m0 2h0m0 3h0m0 3h0m0 2h0m1-26h0m0 0h0m0 0h0m0 5h0m0 7h0m0 3h0m0 5h0m0 0h0m0 12h0m1-27h0m0 3h0m0 1h0m0 1h0m0 3h0m0 4h0m0 2h0m0 0h0m0 0h0m0 1h0m0 6h0m1-18h0m0 1h0m0 0h0m0 1h0m0 1h0m0 5h0m0 1h0m0 5h0m1-14h0m0 0h0m0 1h0m0 0h0m0 1h0m0 3h0m0 0h0m0 2h0m0 3h0m0 0h0m0 8h0m1-17h0m0 0h0m0 0h0m0 1h0m0 7h0m0 1h0m0 1h0m0 4h0m1-23h0m0 6h0m0 1h0m0 4h0m0 0h0m0 0h0m0 9h0m0 2h0m0 3h0m1-18h0m0 2h0m0 3h0m0 0h0m0 2h0m0 2h0m0 4h0m0 4h0m1-14h0m0 2h0m0 3h0m0 2h0m0 2h0m0 5h0m0 3h0m0 1h0m0 2h0m0 4h0m0 1h0m1-31h0m0 2h0m0 2h0m0 0h0m0 3h0m0 3h0m0 1h0m0 3h0m0 6h0m0 2h0m0 1h0m1-21h0m0 2h0m0 4h0m0 1h0m0 1h0m0 0h0m0 3h0m0 2h0m0 2h0m0 1h0m0 4h0m0 1h0m0 2h0m0 1h0m0 1h0m0 44h0m1-73h0m0 8h0m0 0h0m0 1h0m0 1h0m0 2h0m0 7h0m0 5h0m0 1h0m0 2h0m0 8h0m0 1h0m0 2h0m0 28h0m0 3h0m0 5h0m1-77h0m0 10h0m0 0h0m0 2h0m0 0h0m0 1h0m0 0h0m0 0h0m0 1h0m0 1h0m0 1h0m0 0h0m0 1h0m0 0h0m0 3h0m0 2h0m0 1h0m0 1h0m0 9h0m0 1h0m0 3h0m0 3h0m0 31h0m0 6h0m1-77h0m0 4h0m0 1h0m0 4h0m0 0h0m0 3h0m0 0h0m0 1h0m0 0h0m0 2h0m0 1h0m0 0h0m0 7h0m0 1h0m0 1h0m0 49h0m1-73h0m0 1h0m0 12h0m0 1h0m0 0h0m0 1h0m0 1h0m0 2h0m0 0h0m0 0h0m0 1h0m0 0h0m0 8h0m0 1h0m0 8h0m0 2h0m0 32h0m1-63h0m0 5h0m0 1h0m0 0h0m0 0h0m0 2h0m0 0h0m0 1h0m0 0h0m0 6h0m0 2h0m0 10h0m0 2h0m0 0h0m0 3h0m0 0h0m0 2h0m0 26h0m0 4h0m1-64h0m0 4h0m0 1h0m0 0h0m0 1h0m0 1h0m0 15h0m0 1h0m0 14h0m0 4h0m0 20h0m1-61h0m0 0h0m0 2h0m0 2h0m0 0h0m0 2h0m0 0h0m0 1h0m0 1h0m0 0h0m0 0h0m0 2h0m0 2h0m0 0h0m0 4h0m0 14h0m0 4h0m0 3h0m1-35h0m0 0h0m0 0h0m0 1h0m0 1h0m0 2h0m0 0h0m0 1h0m0 1h0m0 4h0m0 2h0m0 1h0m0 5h0m0 2h0m0 1h0m0 8h0m0 6h0m0 1h0m0 11h0m0 1h0m0 1h0m0 1h0m0 3h0m0 0h0m1-60h0m0 13h0m0 1h0m0 2h0m0 2h0m0 3h0m0 0h0m0 1h0m0 1h0m0 1h0m0 12h0m0 8h0m0 3h0m0 0h0m0 7h0m0 9h0m1-63h0m0 0h0m0 3h0m0 3h0m0 5h0m0 2h0m0 3h0m0 1h0m0 1h0m0 0h0m0 2h0m0 4h0m0 10h0m0 2h0m0 25h0m1-63h0m0 8h0m0 4h0m0 0h0m0 1h0m0 2h0m0 0h0m0 2h0m0 0h0m0 1h0m0 5h0m0 5h0m0 1h0m0 4h0m0 1h0m0 3h0m0 0h0m0 2h0m0 5h0m0 12h0m0 4h0m0 2h0m0 0h0m0 4h0m0 5h0m1-72h0m0 10h0m0 1h0m0 0h0m0 1h0m0 2h0m0 1h0m0 1h0m0 1h0m0 1h0m0 2h0m0 2h0m0 2h0m0 1h0m0 4h0m0 5h0m0 12h0m0 1h0m0 1h0m0 5h0m0 0h0m0 2h0m0 4h0m0 2h0m0 0h0m0 8h0m1-58h0m0 1h0m0 0h0m0 2h0m0 0h0m0 3h0m0 6h0m0 3h0m0 0h0m0 4h0m0 3h0m0 3h0m0 5h0m0 4h0m0 9h0m0 21h0m1-68h0m0 2h0m0 2h0m0 2h0m0 4h0m0 4h0m0 15h0m0 8h0m0 1h0m0 2h0m0 6h0m0 14h0m1-56h0m0 2h0m0 3h0m0 0h0m0 1h0m0 1h0m0 1h0m0 0h0m0 1h0m0 0h0m0 1h0m0 0h0m0 0h0m0 1h0m0 1h0m0 2h0m0 5h0m0 3h0m0 10h0m0 7h0m0 20h0m0 7h0m0 1h0m1-71h0m0 4h0m0 1h0m0 1h0m0 0h0m0 0h0m0 1h0m0 0h0m0 1h0m0 1h0m0 0h0m0 2h0m0 0h0m0 1h0m0 2h0m0 5h0m0 2h0m0 0h0m0 2h0m0 1h0m0 7h0m0 8h0m0 3h0m0 6h0m0 9h0m0 3h0m0 5h0m0 4h0m1-75h0m0 7h0m0 4h0m0 0h0m0 0h0m0 2h0m0 1h0m0 5h0m0 3h0m0 1h0m0 15h0m0 7h0m0 3h0m0 8h0m0 8h0m0 0h0m0 3h0m0 5h0m0 2h0m1-71h0m0 7h0m0 0h0m0 1h0m0 5h0m0 1h0m0 7h0m0 1h0m0 0h0m0 1h0m0 4h0m0 1h0m0 0h0m0 5h0m0 0h0m0 2h0m0 9h0m0 8h0m0 3h0m0 2h0m0 11h0m0 1h0m1-58h0m0 2h0m0 1h0m0 2h0m0 0h0m0 2h0m0 3h0m0 3h0m0 13h0m0 3h0m0 3h0m0 1h0m0 2h0m0 18h0m1-64h0m0 4h0m0 8h0m0 0h0m0 5h0m0 1h0m0 1h0m0 0h0m0 0h0m0 2h0m0 0h0m0 30h0m0 5h0m0 7h0m0 6h0m1-62h0m0 1h0m0 1h0m0 2h0m0 0h0m0 1h0m0 1h0m0 0h0m0 1h0m0 0h0m0 13h0m0 2h0m0 9h0m0 3h0m0 3h0m1-40h0m0 1h0m0 0h0m0 4h0m0 1h0m0 3h0m0 0h0m0 3h0m0 3h0m0 3h0m0 1h0m0 1h0m0 2h0m0 14h0m0 24h0m0 1h0m0 11h0m1-77h0m0 12h0m0 1h0m0 2h0m0 21h0m0 14h0m0 9h0m0 3h0m0 4h0m1-59h0m0 5h0m0 0h0m0 2h0m0 16h0m0 0h0m0 0h0m0 4h0m0 2h0m0 4h0m0 9h0m0 4h0m0 5h0m0 5h0m0 7h0m1-61h0m0 0h0m0 1h0m0 1h0m0 3h0m0 4h0m0 1h0m0 0h0m0 0h0m0 2h0m0 2h0m0 2h0m0 6h0m0 3h0m0 0h0m0 7h0m0 9h0m0 9h0m0 9h0m0 2h0m1-61h0m0 3h0m0 0h0m0 1h0m0 1h0m0 4h0m0 6h0m0 1h0m0 3h0m0 7h0m0 3h0m0 3h0m0 9h0m0 27h0m1-75h0m0 2h0m0 3h0m0 5h0m0 1h0m0 0h0m0 1h0m0 1h0m0 1h0m0 3h0m0 10h0m0 1h0m0 11h0m0 7h0m1-44h0m0 1h0m0 0h0m0 6h0m0 1h0m0 4h0m0 3h0m0 12h0m0 4h0m0 11h0m0 9h0m0 5h0m0 7h0m1-55h0m0 0h0m0 0h0m0 0h0m0 3h0m0 4h0m0 0h0m0 2h0m0 2h0m0 0h0m0 1h0m0 2h0m0 5h0m0 7h0m0 9h0m0 4h0m0 2h0m1-56h0m0 14h0m0 1h0m0 0h0m0 3h0m0 0h0m0 1h0m0 1h0m0 0h0m0 2h0m0 4h0m0 6h0m0 1h0m0 2h0m0 3h0m0 1h0m0 1h0m0 9h0m0 7h0m0 21h0m1-63h0m0 2h0m0 2h0m0 4h0m0 4h0m0 2h0m0 11h0m0 1h0m0 10h0m0 4h0m0 0h0m0 17h0m0 2h0m1-59h0m0 1h0m0 2h0m0 1h0m0 9h0m0 0h0m0 0h0m0 2h0m0 9h0m0 3h0m0 7h0m0 19h0m0 7h0m1-64h0m0 5h0m0 0h0m0 0h0m0 1h0m0 9h0m0 4h0m0 8h0m0 1h0m0 8h0m0 0h0m0 24h0m1-64h0m0 3h0m0 2h0m0 1h0m0 1h0m0 1h0m0 0h0m0 2h0m0 2h0m0 2h0m0 0h0m0 1h0m0 7h0m0 0h0m0 1h0m0 16h0m0 2h0m0 4h0m0 5h0m0 12h0m1-65h0m0 10h0m0 2h0m0 1h0m0 1h0m0 3h0m0 2h0m0 3h0m0 3h0m0 3h0m0 6h0m0 8h0m0 14h0m1-53h0m0 7h0m0 2h0m0 1h0m0 4h0m0 5h0m0 2h0m0 4h0m0 2h0m0 0h0m0 2h0m0 2h0m0 18h0m0 6h0m0 2h0m0 7h0m0 5h0m1-55h0m0 2h0m0 9h0m0 3h0m0 4h0m0 1h0m0 6h0m0 11h0m1-52h0m0 4h0m0 0h0m0 18h0m0 21h0m0 12h0m0 10h0m1-67h0m0 6h0m0 16h0m0 6h0m0 19h0m0 3h0m0 1h0m0 1h0m0 1h0m0 12h0m0 9h0m1-65h0m0 6h0m0 1h0m0 0h0m0 8h0m0 10h0m0 1h0m0 2h0m0 6h0m0 3h0m0 17h0m0 4h0m0 5h0m0 1h0m1-59h0m0 1h0m0 3h0m0 14h0m0 2h0m0 4h0m0 3h0m0 11h0m0 7h0m0 3h0m0 12h0m1-57h0m0 17h0m0 4h0m0 6h0m0 4h0m0 7h0m0 0h0m0 24h0m1-70h0m0 5h0m0 4h0m0 16h0m0 3h0m0 6h0m0 19h0m0 2h0m0 1h0m1-64h0m0 1h0m0 57h0m0 9h0m1-59h0m0 2h0m0 5h0m0 14h0m0 2h0m0 5h0m0 10h0m1-45h0m0 16h0m0 12h0m0 16h0m0 1h0m0 17h0m0 1h0m0 2h0m0 3h0m1-58h0m0 5h0m0 11h0m0 13h0m0 5h0m0 29h0m1-68h0m0 1h0m0 1h0m0 5h0m0 0h0m0 3h0m0 0h0m0 3h0m0 1h0m0 6h0m0 27h0m0 14h0m1-49h0m0 11h0m0 2h0m0 4h0m0 1h0m0 9h0m0 9h0m0 5h0m0 12h0m1-56h0m0 13h0m0 13h0m0 2h0m0 7h0m0 19h0m1-60h0m0 0h0m0 5h0m0 5h0m0 11h0m0 18h0m0 8h0m1-54h0m0 12h0m0 12h0m0 14h0m0 6h0m0 3h0m0 2h0m0 11h0m1-64h0m0 14h0m0 8h0m0 35h0m0 9h0m0 8h0m0 6h0m0 0h0m1-64h0m0 2h0m0 16h0m0 34h0m1-61h0m0 7h0m0 6h0m0 24h0m0 22h0m1-63h0m0 13h0m0 14h0m0 3h0m0 9h0m0 1h0m0 1h0m0 3h0m0 11h0m0 1h0m0 7h0m1-31h0m0 8h0m0 6h0m0 5h0m1-47h0m0 2h0m0 2h0m0 6h0m0 8h0m0 6h0m0 6h0m0 30h0m1-61h0m0 6h0m0 15h0m0 2h0m0 4h0m0 2h0m0 2h0m0 7h0m0 6h0m0 2h0m0 3h0m0 1h0m0 5h0m1-56h0m0 7h0m0 22h0m0 7h0m0 12h0m0 18h0m1-56h0m0 1h0m0 15h0m0 9h0m0 15h0m1-16h0m0 16h0m0 2h0m0 0h0m1-50h0m0 4h0m0 24h0m0 3h0m0 35h0m1-64h0m0 5h0m0 2h0m0 3h0m0 6h0m0 3h0m0 1h0m0 3h0m0 23h0m0 4h0m1-35h0m0 6h0m0 6h0m0 8h0m0 14h0m0 10h0m0 7h0m1-73h0m0 14h0m0 10h0m0 7h0m0 13h0m0 10h0m0 5h0m1-51h0m0 23h0m0 5h0m0 4h0m0 8h0m0 11h0m0 11h0m0 0h0m1-60h0m0 7h0m0 13h0m1-13h0m0 7h0m0 2h0m0 6h0m0 3h0m0 15h0m0 1h0m0 4h0m0 4h0m1-26h0m0 25h0m1-56h0m0 13h0m0 34h0m1-48h0m0 14h0m0 8h0m1-16h0m0 19h0m0 3h0m0 9h0m0 13h0m1-40h0m0 8h0m0 22h0m0 11h0m0 9h0m1-54h0m0 9h0m0 15h0m0 9h0m0 11h0m0 8h0m0 0h0m0 5h0m1-59h0m0 0h0m0 11h0m0 17h0m0 7h0m0 3h0m0 23h0m0 9h0m1-62h0m0 36h0m0 2h0m1-45h0m0 0h0m0 3h0m0 10h0m0 12h0m0 17h0m0 1h0m0 3h0m0 0h0m0 1h0m0 0h0m0 9h0m2-45h0m0 8h0m0 6h0m0 21h0m1-24h0m0 46h0m1-55h0m0 0h0m0 1h0m0 1h0m0 15h0m0 3h0m0 17h0m0 5h0m0 12h0m1-63h0m0 6h0m0 3h0m0 34h0m0 8h0m1-33h0m0 4h0m0 24h0m0 4h0m0 2h0m0 0h0m1-58h0m0 12h0m0 9h0m0 12h0m0 1h0m0 3h0m0 5h0m1-17h0m0 6h0m0 2h0m0 1h0m0 2h0m0 1h0m0 4h0m0 5h0m1-21h0m0 5h0m0 5h0m0 22h0m0 6h0m1-53h0m0 35h0m0 3h0m0 16h0m0 5h0m1-36h0m0 32h0m1-63h0m0 5h0m0 2h0m0 15h0m0 45h0m1-7h0m1-50h0m0 17h0m1-23h0m0 2h0m0 3h0m0 17h0m0 4h0m0 13h0m0 3h0m0 22h0m1-71h0m0 12h0m0 42h0m1-49h0m0 21h0m0 1h0m0 16h0m0 21h0m0 3h0m1-65h0m0 1h0m0 0h0m0 8h0m0 20h0m1-14h0m0 5h0m0 11h0m0 23h0m1-28h0m0 16h0m0 8h0m0 9h0m0 7h0m1-66h0m0 10h0m0 12h0m0 8h0m0 29h0m0 5h0m1-39h0m0 14h0m0 22h0m0 10h0m1-54h0m0 4h0m0 4h0m0 5h0m0 28h0m1-45h0m0 5h0m0 33h0m1-32h0m1-13h0m0 6h0m0 4h0m0 29h0m0 0h0m0 21h0m1-58h0m0 14h0m0 5h0m0 8h0m0 3h0m0 19h0m0 5h0m1-53h0m0 12h0m0 41h0m1-19h0m0 2h0m0 4h0m1-50h0m0 3h0m0 14h0m0 45h0m1-29h0m0 4h0m1-27h0m0 8h0m0 7h0m0 10h0m0 8h0m1-41h0m0 11h0m0 32h0m0 4h0m1-30h0m0 26h0m1-11h0m0 16h0m1-33h0m0 16h0m1-12h0m0 42h0m1-56h0m1 47h0m1-5h0m0 0h0m0 5h0m2-50h0m0 17h0m0 21h0m1-38h0m0 38h0m1-34h0m0 41h0m0 6h0m0 1h0m0 11h0m2-46h0m1 45h0m1-65h0m0 14h0m0 49h0m1-38h0m1-9h0m0 2h0m0 0h0m0 8h0m0 36h0m1-58h0m0 6h0m0 10h0m0 3h0m0 32h0m1-42h0m0 5h0m0 6h0m0 0h0m0 3h0m0 17h0m0 4h0m0 22h0m0 1h0m1-64h0m0 11h0m0 1h0m1 18h0m0 15h0m0 14h0m1-58h0m1 15h0m0 6h0m0 2h0m0 4h0m0 6h0m0 20h0m0 3h0m1-63h0m0 14h0m0 4h0m0 22h0m0 2h0m1-36h0m0 2h0m1 32h0m1-41h0m0 7h0m0 17h0m0 4h0m1 35h0m1-43h0m1 45h0m1-33h0m0 16h0m0 2h0m1-15h0m0 16h0m3-51h0m0 17h0m0 49h0m1-36h0m0 0h0m0 20h0m1-10h0m0 10h0m1-27h0m0 13h0m0 10h0m0 1h0m0 14h0m2-63h0m0 27h0m1-8h0m1 6h0m0 21h0m0 6h0m0 3h0m1-42h0m0 12h0m0 21h0m0 1h0m0 19h0m1-26h0m1-31h0m1-12h0m0 17h0m0 44h0m1-55h0m0 12h0m0 29h0m0 5h0m3-32h0m0 7h0m1 25h0m0 16h0m1-23h0m1-34h0m0 45h0m1-47h0m1-2h0m0 51h0m1-22h0m0 4h0m0 13h0m0 9h0m1-40h0m1 19h0m1 9h0m1-28h0m1-9h0m0 26h0m0 1h0m0 29h0m0 1h0m1-61h0m0 67h0m1-35h0m0 16h0m1-26h0m0 24h0m1-48h0m1 57h0m1-56h0m0 1h0m1 0h0m1 20h0m3 5h0m5-8h0m0 30h0m1-5h0m3-41h0m5 25h0m3 8h0m1 15h0m6-49h0m4 26h0m1-28h0m1 15h0m5 47h0m1-64h0m6 9h0m3 19h0m2 23h0m3-30h0m1 49h0m4-86h0m1 57h0m2-6h0m5-22h0m5 50h0m3-56h0m2 17h0m1 35h0m8-57h0m3 31h0m2 11h0m6-37h0m4-16h0m7 13h0m2-15h0m8 59h0m2-34h0m2 13h0m3-21h0m7 58h0m5-48h0m3-38h0m9 26h0m1 25h0m7-6h0m10-9h0m10-20h0m3 1h0m1-7h0m3 8h0m57-2h0m3 13h0m0 10h0m14 16h0m7-29h0m17-19h0m4 0h0m63 43h0m5 0h0" stroke="#f80d12" stroke-width="3.5" stroke-linecap="round" fill="none"/>
</g>
<text x="1044.2" y="1296.5" font-family="DejaVu Sans, sans-serif" font-weight="bold" font-size="24.5" text-anchor="middle" fill="#262626">0</text>
<text x="1034.7" y="1273" font-family="DejaVu Sans, sans-serif" font-weight="bold" font-size="24.5" text-anchor="end" fill="#262626">0</text>
<text x="1160.4" y="1296.5" font-family="DejaVu Sans, sans-serif" font-weight="bold" font-size="24.5" text-anchor="middle" fill="#262626">1</text>
<text x="1034.7" y="1182.9" font-family="DejaVu Sans, sans-serif" font-weight="bold" font-size="24.5" text-anchor="end" fill="#262626">1</text>
<text x="1276.5" y="1296.5" font-family="DejaVu Sans, sans-serif" font-weight="bold" font-size="24.5" text-anchor="middle" fill="#262626">2</text>
<text x="1034.7" y="1092.8" font-family="DejaVu Sans, sans-serif" font-weight="bold" font-size="24.5" text-anchor="end" fill="#262626">2</text>
<text x="1392.7" y="1296.5" font-family="DejaVu Sans, sans-serif" font-weight="bold" font-size="24.5" text-anchor="middle" fill="#262626">3</text>
<text x="1034.7" y="1002.7" font-family="DejaVu Sans, sans-serif" font-weight="bold" font-size="24.5" text-anchor="end" fill="#262626">3</text>
<text x="1508.9" y="1296.5" font-family="DejaVu Sans, sans-serif" font-weight="bold" font-size="24.5" text-anchor="middle" fill="#262626">4</text>
<text x="1034.7" y="912.6" font-family="DejaVu Sans, sans-serif" font-weight="bold" font-size="24.5" text-anchor="end" fill="#262626">4</text>
<text x="1625" y="1296.5" font-family="DejaVu Sans, sans-serif" font-weight="bold" font-size="24.5" text-anchor="middle" fill="#262626">5</text>
<text x="1034.7" y="822.5" font-family="DejaVu Sans, sans-serif" font-weight="bold" font-size="24.5" text-anchor="end" fill="#262626">5</text>
<text x="1741.2" y="1296.5" font-family="DejaVu Sans, sans-serif" font-weight="bold" font-size="24.5" text-anchor="middle" fill="#262626">6</text>
<text x="1034.7" y="732.4" font-family="DejaVu Sans, sans-serif" font-weight="bold" font-size="24.5" text-anchor="end" fill="#262626">6</text>
<text x="1397.9" y="1331" font-family="Liberation Sans, sans-serif" font-weight="bold" font-size="29.2" text-anchor="middle" fill="#000" stroke="#000" stroke-width="0.6" stroke-linejoin="round" textLength="540.3" lengthAdjust="spacingAndGlyphs"><tspan>True isoprene column (10</tspan><tspan font-size="17.6" dy="-8.6">16</tspan><tspan dy="8.6"> molec/cm</tspan><tspan font-size="17.6" dy="-8.6">2</tspan><tspan dy="8.6">)</tspan></text>
<text transform="translate(999.2 988.7) rotate(-90)" font-family="Liberation Sans, sans-serif" font-weight="bold" font-size="29.2" text-anchor="middle" fill="#000" stroke="#000" stroke-width="0.6" stroke-linejoin="round" textLength="608.3" lengthAdjust="spacingAndGlyphs"><tspan>Predicted isoprene column (10</tspan><tspan font-size="17.6" dy="-8.6">16</tspan><tspan dy="8.6"> molec/cm</tspan><tspan font-size="17.6" dy="-8.6">2</tspan><tspan dy="8.6">)</tspan></text>
<text x="1540.5" y="1127.5" font-family="Liberation Sans, sans-serif" font-weight="bold" font-size="29" text-anchor="start" fill="#000" stroke="#000" stroke-width="0.6" stroke-linejoin="round"><tspan>R</tspan><tspan font-size="19.3" dy="-8.7">2</tspan><tspan dy="8.7"> = 0.28</tspan></text>
<text x="1076.2" y="763.4" font-family="Liberation Sans, sans-serif" font-weight="bold" font-size="35" text-anchor="start" fill="#000" stroke="#000" stroke-width="0.6" stroke-linejoin="round">e</text>
</g>
<g id="panel-f">
<rect x="1042.6" y="1403" width="622.7" height="549.9" fill="#000092"/>
<g shape-rendering="crispEdges">
<path d="M1114.1 1779.8h10.4v4.5h-10.4zM1165.1 1711.9h10.4v2.3h-10.4zM1175.3 1714.1h10.4v4.5h-10.4zM1205.9 1701h10.4v2.3h-10.4zM1226.3 1692.2h10.4v2.3h-10.4zM1226.3 1705.3h10.4v4.5h-10.4zM1236.6 1709.7h10.4v4.5h-10.4zM1604.1 1696.6h10.4v4.5h-10.4z" fill="#0000d1"/>
<path d="M1144.7 1755.7h10.4v4.5h-10.4zM1154.9 1711.9h10.4v2.3h-10.4zM1185.5 1709.7h10.4v4.5h-10.4zM1205.9 1707.5h10.4v4.5h-10.4z" fill="#0000fa"/>
<path d="M1103.8 1784.2h10.4v4.5h-10.4zM1124.3 1736h10.4v4.5h-10.4zM1124.3 1766.7h10.4v4.5h-10.4zM1134.5 1753.5h10.4v2.3h-10.4zM1134.5 1766.7h10.4v2.3h-10.4zM1144.7 1729.4h10.4v4.5h-10.4zM1154.9 1707.5h10.4v4.5h-10.4zM1165.1 1716.3h10.4v8.9h-10.4zM1165.1 1729.4h10.4v2.3h-10.4zM1165.1 1733.8h10.4v2.3h-10.4zM1165.1 1742.6h10.4v2.3h-10.4zM1175.3 1742.6h10.4v2.3h-10.4zM1185.5 1714.1h10.4v4.5h-10.4zM1185.5 1729.4h10.4v2.3h-10.4zM1205.9 1714.1h10.4v2.3h-10.4zM1216.1 1709.7h10.4v4.5h-10.4zM1226.3 1696.6h10.4v4.5h-10.4zM1236.6 1687.8h10.4v4.5h-10.4zM1257 1690h10.4v2.3h-10.4zM1257 1694.4h10.4v2.3h-10.4zM1257 1698.8h10.4v2.3h-10.4zM1267.2 1690h10.4v2.3h-10.4zM1267.2 1694.4h10.4v4.5h-10.4zM1267.2 1703.1h10.4v2.3h-10.4zM1267.2 1707.5h10.4v2.3h-10.4zM1287.6 1685.6h10.4v2.3h-10.4zM1297.8 1703.1h10.4v2.3h-10.4zM1297.8 1707.5h10.4v2.3h-10.4zM1308 1694.4h10.4v8.9h-10.4zM1318.2 1698.8h10.4v2.3h-10.4zM1318.2 1707.5h10.4v2.3h-10.4zM1328.4 1685.6h10.4v2.3h-10.4zM1328.4 1694.4h10.4v2.3h-10.4zM1348.8 1685.6h10.4v2.3h-10.4zM1359.1 1694.4h10.4v2.3h-10.4zM1359.1 1703.1h10.4v4.5h-10.4zM1369.3 1698.8h10.4v4.5h-10.4zM1369.3 1736h10.4v2.3h-10.4zM1379.5 1690h10.4v8.9h-10.4zM1389.7 1685.6h10.4v4.5h-10.4zM1399.9 1698.8h10.4v2.3h-10.4zM1410.1 1698.8h10.4v2.3h-10.4zM1461.1 1685.6h10.4v4.5h-10.4zM1512.2 1696.6h10.4v2.3h-10.4zM1522.4 1694.4h10.4v2.3h-10.4z" fill="#0024ff"/>
<path d="M1103.8 1762.3h10.4v4.5h-10.4zM1103.8 1793h10.4v2.3h-10.4zM1124.3 1744.8h10.4v8.9h-10.4zM1134.5 1799.5h10.4v4.5h-10.4zM1144.7 1751.3h10.4v4.5h-10.4zM1154.9 1720.7h10.4v4.5h-10.4zM1175.3 1692.2h10.4v4.5h-10.4zM1185.5 1705.3h10.4v4.5h-10.4zM1195.7 1707.5h10.4v4.5h-10.4zM1216.1 1692.2h10.4v2.3h-10.4zM1216.1 1705.3h10.4v4.5h-10.4zM1246.8 1687.8h10.4v4.5h-10.4zM1246.8 1705.3h10.4v4.5h-10.4zM1246.8 1711.9h10.4v2.3h-10.4zM1246.8 1722.9h10.4v2.3h-10.4zM1420.3 1762.3h10.4v2.3h-10.4z" fill="#004dff"/>
<path d="M1114.1 1736h10.4v4.5h-10.4zM1124.3 1722.9h10.4v2.3h-10.4zM1124.3 1731.6h10.4v4.5h-10.4zM1124.3 1740.4h10.4v4.5h-10.4zM1124.3 1753.5h10.4v4.5h-10.4zM1144.7 1687.8h10.4v4.5h-10.4zM1144.7 1747h10.4v4.5h-10.4zM1154.9 1725.1h10.4v4.5h-10.4zM1154.9 1788.6h10.4v2.3h-10.4zM1165.1 1705.3h10.4v4.5h-10.4zM1165.1 1714.1h10.4v2.3h-10.4zM1175.3 1779.8h10.4v2.3h-10.4zM1185.5 1696.6h10.4v8.9h-10.4zM1195.7 1705.3h10.4v2.3h-10.4zM1195.7 1749.2h10.4v2.3h-10.4zM1195.7 1775.4h10.4v2.3h-10.4zM1216.1 1694.4h10.4v4.5h-10.4zM1226.3 1709.7h10.4v2.3h-10.4zM1226.3 1788.6h10.4v2.3h-10.4zM1236.6 1696.6h10.4v4.5h-10.4zM1246.8 1709.7h10.4v2.3h-10.4zM1277.4 1698.8h10.4v2.3h-10.4zM1277.4 1707.5h10.4v2.3h-10.4zM1287.6 1694.4h10.4v2.3h-10.4zM1287.6 1707.5h10.4v4.5h-10.4zM1318.2 1690h10.4v6.7h-10.4zM1338.6 1694.4h10.4v2.3h-10.4zM1369.3 1703.1h10.4v2.3h-10.4zM1379.5 1685.6h10.4v4.5h-10.4zM1389.7 1698.8h10.4v4.5h-10.4zM1399.9 1703.1h10.4v2.3h-10.4zM1399.9 1707.5h10.4v2.3h-10.4zM1430.5 1685.6h10.4v2.3h-10.4zM1450.9 1685.6h10.4v4.5h-10.4zM1450.9 1698.8h10.4v2.3h-10.4zM1461.1 1692.2h10.4v2.3h-10.4zM1461.1 1698.8h10.4v2.3h-10.4zM1471.3 1692.2h10.4v2.3h-10.4zM1522.4 1703.1h10.4v2.3h-10.4z" fill="#0075ff"/>
<path d="M1042.6 1933.2h10.4v4.5h-10.4zM1073.2 1843.4h10.4v2.3h-10.4zM1083.4 1814.9h10.4v4.5h-10.4zM1093.6 1790.8h10.4v4.5h-10.4zM1124.3 1771.1h10.4v2.3h-10.4zM1134.5 1744.8h10.4v4.5h-10.4zM1144.7 1698.8h10.4v4.5h-10.4zM1144.7 1705.3h10.4v6.7h-10.4zM1144.7 1714.1h10.4v4.5h-10.4zM1144.7 1722.9h10.4v2.3h-10.4zM1144.7 1733.8h10.4v2.3h-10.4zM1144.7 1740.4h10.4v4.5h-10.4zM1154.9 1692.2h10.4v4.5h-10.4zM1154.9 1703.1h10.4v4.5h-10.4zM1165.1 1701h10.4v4.5h-10.4zM1165.1 1777.6h10.4v2.3h-10.4zM1195.7 1687.8h10.4v2.3h-10.4zM1205.9 1703.1h10.4v4.5h-10.4zM1216.1 1687.8h10.4v4.5h-10.4zM1216.1 1698.8h10.4v2.3h-10.4zM1226.3 1751.3h10.4v2.3h-10.4zM1246.8 1696.6h10.4v4.5h-10.4z" fill="#009eff"/>
<path d="M1083.4 1766.7h10.4v4.5h-10.4zM1083.4 1810.5h10.4v4.5h-10.4zM1083.4 1819.3h10.4v4.5h-10.4zM1093.6 1663.7h10.4v2.3h-10.4zM1093.6 1801.7h10.4v4.5h-10.4zM1093.6 1849.9h10.4v2.3h-10.4zM1103.8 1753.5h10.4v8.9h-10.4zM1114.1 1727.2h10.4v2.3h-10.4zM1114.1 1762.3h10.4v4.5h-10.4zM1114.1 1775.4h10.4v4.5h-10.4zM1114.1 1795.2h10.4v2.3h-10.4zM1114.1 1849.9h10.4v2.3h-10.4zM1134.5 1705.3h10.4v2.3h-10.4zM1134.5 1731.6h10.4v2.3h-10.4zM1134.5 1757.9h10.4v4.5h-10.4zM1144.7 1711.9h10.4v2.3h-10.4zM1154.9 1797.4h10.4v2.3h-10.4zM1165.1 1687.8h10.4v2.3h-10.4zM1175.3 1701h10.4v4.5h-10.4zM1185.5 1687.8h10.4v4.5h-10.4zM1185.5 1795.2h10.4v2.3h-10.4zM1195.7 1692.2h10.4v8.9h-10.4zM1195.7 1731.6h10.4v2.3h-10.4zM1205.9 1696.6h10.4v4.5h-10.4zM1205.9 1760.1h10.4v2.3h-10.4zM1216.1 1683.4h10.4v2.3h-10.4zM1216.1 1764.5h10.4v2.3h-10.4zM1226.3 1701h10.4v4.5h-10.4zM1236.6 1679h10.4v2.3h-10.4zM1236.6 1705.3h10.4v4.5h-10.4zM1257 1707.5h10.4v2.3h-10.4zM1277.4 1703.1h10.4v4.5h-10.4zM1297.8 1685.6h10.4v2.3h-10.4zM1308 1707.5h10.4v4.5h-10.4zM1338.6 1703.1h10.4v2.3h-10.4zM1359.1 1707.5h10.4v2.3h-10.4zM1420.3 1707.5h10.4v2.3h-10.4z" fill="#00c7ff"/>
<path d="M1083.4 1777.6h10.4v4.5h-10.4zM1083.4 1786.4h10.4v2.3h-10.4zM1083.4 1799.5h10.4v4.5h-10.4zM1093.6 1782h10.4v4.5h-10.4zM1103.8 1766.7h10.4v8.9h-10.4zM1114.1 1749.2h10.4v4.5h-10.4zM1114.1 1757.9h10.4v4.5h-10.4zM1134.5 1707.5h10.4v4.5h-10.4zM1134.5 1727.2h10.4v4.5h-10.4zM1134.5 1736h10.4v8.9h-10.4zM1134.5 1749.2h10.4v4.5h-10.4zM1144.7 1696.6h10.4v2.3h-10.4zM1144.7 1703.1h10.4v2.3h-10.4zM1144.7 1736h10.4v4.5h-10.4zM1154.9 1760.1h10.4v2.3h-10.4zM1165.1 1690h10.4v6.7h-10.4zM1175.3 1687.8h10.4v4.5h-10.4zM1175.3 1696.6h10.4v4.5h-10.4zM1195.7 1690h10.4v2.3h-10.4zM1195.7 1740.4h10.4v2.3h-10.4zM1236.6 1692.2h10.4v4.5h-10.4zM1246.8 1716.3h10.4v2.3h-10.4zM1297.8 1764.5h10.4v2.3h-10.4zM1338.6 1751.3h10.4v2.3h-10.4z" fill="#00f0ff"/>
<path d="M1073.2 1808.3h10.4v2.3h-10.4zM1093.6 1731.6h10.4v4.5h-10.4zM1093.6 1740.4h10.4v4.5h-10.4zM1093.6 1762.3h10.4v4.5h-10.4zM1093.6 1786.4h10.4v4.5h-10.4zM1103.8 1733.8h10.4v2.3h-10.4zM1114.1 1701h10.4v4.5h-10.4zM1114.1 1753.5h10.4v2.3h-10.4zM1114.1 1784.2h10.4v4.5h-10.4zM1124.3 1705.3h10.4v2.3h-10.4zM1134.5 1685.6h10.4v4.5h-10.4zM1144.7 1718.5h10.4v4.5h-10.4zM1154.9 1687.8h10.4v2.3h-10.4zM1154.9 1714.1h10.4v4.5h-10.4z" fill="#1affe5"/>
<path d="M1083.4 1771.1h10.4v2.3h-10.4zM1083.4 1790.8h10.4v4.5h-10.4zM1083.4 1808.3h10.4v2.3h-10.4zM1093.6 1760.1h10.4v2.3h-10.4zM1103.8 1742.6h10.4v2.3h-10.4zM1114.1 1744.8h10.4v4.5h-10.4zM1114.1 1766.7h10.4v4.5h-10.4zM1124.3 1685.6h10.4v2.3h-10.4zM1124.3 1714.1h10.4v4.5h-10.4zM1134.5 1696.6h10.4v4.5h-10.4zM1134.5 1718.5h10.4v8.9h-10.4zM1144.7 1692.2h10.4v4.5h-10.4zM1226.3 1747h10.4v2.3h-10.4z" fill="#42ffbd"/>
<path d="M1083.4 1725.1h10.4v4.5h-10.4zM1083.4 1733.8h10.4v4.5h-10.4zM1083.4 1747h10.4v6.7h-10.4zM1083.4 1757.9h10.4v4.5h-10.4zM1083.4 1803.9h10.4v4.5h-10.4zM1093.6 1755.7h10.4v4.5h-10.4zM1093.6 1773.3h10.4v4.5h-10.4zM1103.8 1740.4h10.4v2.3h-10.4zM1103.8 1744.8h10.4v4.5h-10.4zM1114.1 1718.5h10.4v8.9h-10.4zM1114.1 1731.6h10.4v4.5h-10.4zM1124.3 1718.5h10.4v4.5h-10.4zM1134.5 1692.2h10.4v4.5h-10.4zM1134.5 1714.1h10.4v4.5h-10.4zM1134.5 1755.7h10.4v2.3h-10.4zM1154.9 1757.9h10.4v2.3h-10.4zM1195.7 1738.2h10.4v2.3h-10.4zM1205.9 1687.8h10.4v2.3h-10.4z" fill="#6bff94"/>
<path d="M1073.2 1749.2h10.4v4.5h-10.4zM1073.2 1793h10.4v4.5h-10.4zM1073.2 1806.1h10.4v2.3h-10.4zM1073.2 1814.9h10.4v4.5h-10.4zM1083.4 1782h10.4v4.5h-10.4zM1093.6 1718.5h10.4v4.5h-10.4zM1093.6 1744.8h10.4v4.5h-10.4zM1093.6 1777.6h10.4v4.5h-10.4zM1093.6 1806.1h10.4v4.5h-10.4zM1103.8 1694.4h10.4v4.5h-10.4zM1103.8 1725.1h10.4v4.5h-10.4zM1103.8 1749.2h10.4v4.5h-10.4zM1114.1 1729.4h10.4v2.3h-10.4zM1124.3 1701h10.4v4.5h-10.4zM1134.5 1701h10.4v4.5h-10.4z" fill="#94ff6b"/>
<path d="M1073.2 1705.3h10.4v2.3h-10.4zM1073.2 1801.7h10.4v4.5h-10.4zM1083.4 1788.6h10.4v2.3h-10.4zM1093.6 1694.4h10.4v4.5h-10.4zM1093.6 1705.3h10.4v4.5h-10.4zM1093.6 1722.9h10.4v4.5h-10.4zM1093.6 1736h10.4v4.5h-10.4zM1093.6 1749.2h10.4v2.3h-10.4zM1093.6 1766.7h10.4v4.5h-10.4zM1103.8 1711.9h10.4v2.3h-10.4zM1124.3 1687.8h10.4v4.5h-10.4zM1124.3 1757.9h10.4v4.5h-10.4z" fill="#bdff42"/>
<path d="M1063 1736h10.4v4.5h-10.4zM1063 1843.4h10.4v6.7h-10.4zM1073.2 1709.7h10.4v4.5h-10.4zM1073.2 1757.9h10.4v4.5h-10.4zM1073.2 1797.4h10.4v4.5h-10.4zM1083.4 1705.3h10.4v2.3h-10.4zM1093.6 1681.2h10.4v4.5h-10.4zM1093.6 1709.7h10.4v4.5h-10.4zM1093.6 1751.3h10.4v4.5h-10.4zM1093.6 1771.1h10.4v2.3h-10.4zM1103.8 1718.5h10.4v2.3h-10.4zM1114.1 1707.5h10.4v4.5h-10.4zM1124.3 1692.2h10.4v8.9h-10.4zM1257 1685.6h10.4v2.3h-10.4zM1267.2 1740.4h10.4v2.3h-10.4zM1287.6 1727.2h10.4v2.3h-10.4z" fill="#e5ff1a"/>
<path d="M1063 1825.8h10.4v4.5h-10.4zM1063 1834.6h10.4v8.9h-10.4zM1073.2 1753.5h10.4v2.3h-10.4zM1073.2 1766.7h10.4v4.5h-10.4zM1073.2 1775.4h10.4v4.5h-10.4zM1073.2 1823.6h10.4v2.3h-10.4zM1083.4 1729.4h10.4v4.5h-10.4zM1083.4 1753.5h10.4v4.5h-10.4zM1083.4 1762.3h10.4v4.5h-10.4zM1093.6 1687.8h10.4v2.3h-10.4zM1093.6 1714.1h10.4v4.5h-10.4zM1093.6 1727.2h10.4v4.5h-10.4zM1103.8 1714.1h10.4v4.5h-10.4zM1103.8 1729.4h10.4v4.5h-10.4zM1103.8 1790.8h10.4v2.3h-10.4zM1103.8 1836.8h10.4v2.3h-10.4zM1114.1 1692.2h10.4v4.5h-10.4zM1154.9 1676.9h10.4v2.3h-10.4zM1154.9 1764.5h10.4v2.3h-10.4zM1195.7 1764.5h10.4v2.3h-10.4z" fill="#fff000"/>
<path d="M1063 1788.6h10.4v4.5h-10.4zM1063 1849.9h10.4v2.3h-10.4zM1073.2 1740.4h10.4v4.5h-10.4zM1073.2 1784.2h10.4v4.5h-10.4zM1083.4 1711.9h10.4v4.5h-10.4zM1083.4 1795.2h10.4v4.5h-10.4zM1093.6 1676.9h10.4v4.5h-10.4zM1093.6 1685.6h10.4v2.3h-10.4zM1093.6 1698.8h10.4v2.3h-10.4zM1103.8 1707.5h10.4v4.5h-10.4zM1114.1 1714.1h10.4v4.5h-10.4zM1165.1 1766.7h10.4v4.5h-10.4z" fill="#ffc700"/>
<path d="M1073.2 1727.2h10.4v6.7h-10.4zM1073.2 1779.8h10.4v4.5h-10.4zM1073.2 1788.6h10.4v4.5h-10.4zM1083.4 1716.3h10.4v8.9h-10.4zM1093.6 1701h10.4v4.5h-10.4zM1103.8 1692.2h10.4v2.3h-10.4zM1103.8 1698.8h10.4v4.5h-10.4zM1114.1 1683.4h10.4v4.5h-10.4z" fill="#ff9e00"/>
<path d="M1063 1766.7h10.4v4.5h-10.4zM1063 1852.1h10.4v4.5h-10.4zM1073.2 1696.6h10.4v2.3h-10.4zM1073.2 1722.9h10.4v4.5h-10.4zM1073.2 1736h10.4v4.5h-10.4zM1073.2 1771.1h10.4v4.5h-10.4zM1073.2 1819.3h10.4v4.5h-10.4zM1083.4 1707.5h10.4v4.5h-10.4zM1083.4 1738.2h10.4v4.5h-10.4zM1093.6 1690h10.4v4.5h-10.4zM1114.1 1696.6h10.4v4.5h-10.4z" fill="#ff7500"/>
<path d="M1063 1808.3h10.4v2.3h-10.4zM1073.2 1692.2h10.4v4.5h-10.4zM1073.2 1744.8h10.4v4.5h-10.4zM1073.2 1762.3h10.4v4.5h-10.4zM1083.4 1742.6h10.4v4.5h-10.4zM1103.8 1685.6h10.4v6.7h-10.4zM1114.1 1687.8h10.4v2.3h-10.4zM1165.1 1709.7h10.4v2.3h-10.4zM1175.3 1711.9h10.4v2.3h-10.4zM1185.5 1747h10.4v2.3h-10.4zM1226.3 1716.3h10.4v2.3h-10.4z" fill="#ff4c00"/>
<path d="M1063 1663.7h10.4v2.3h-10.4zM1063 1683.4h10.4v4.5h-10.4zM1063 1722.9h10.4v2.3h-10.4zM1063 1753.5h10.4v4.5h-10.4zM1063 1771.1h10.4v8.9h-10.4zM1063 1786.4h10.4v2.3h-10.4zM1063 1803.9h10.4v4.5h-10.4zM1063 1830.2h10.4v4.5h-10.4zM1073.2 1683.4h10.4v4.5h-10.4zM1073.2 1701h10.4v4.5h-10.4zM1083.4 1679h10.4v8.9h-10.4zM1083.4 1696.6h10.4v4.5h-10.4z" fill="#ff2400"/>
<path d="M1052.8 1663.7h10.4v6.7h-10.4zM1052.8 1674.7h10.4v4.5h-10.4zM1052.8 1692.2h10.4v4.5h-10.4zM1052.8 1701h10.4v2.3h-10.4zM1052.8 1744.8h10.4v4.5h-10.4zM1052.8 1779.8h10.4v2.3h-10.4zM1052.8 1799.5h10.4v2.3h-10.4zM1052.8 1819.3h10.4v8.9h-10.4zM1052.8 1834.6h10.4v11.1h-10.4zM1052.8 1856.5h10.4v2.3h-10.4zM1063 1679h10.4v4.5h-10.4zM1063 1701h10.4v4.5h-10.4zM1063 1729.4h10.4v4.5h-10.4zM1063 1740.4h10.4v4.5h-10.4zM1063 1749.2h10.4v4.5h-10.4zM1063 1799.5h10.4v4.5h-10.4zM1073.2 1718.5h10.4v4.5h-10.4zM1124.3 1665.9h10.4v2.3h-10.4z" fill="#fa0000"/>
<path d="M1042.6 1479.7h10.4v2.3h-10.4zM1042.6 1514.7h10.4v2.3h-10.4zM1042.6 1538.8h10.4v2.3h-10.4zM1042.6 1591.4h10.4v2.3h-10.4zM1052.8 1731.6h10.4v4.5h-10.4zM1052.8 1749.2h10.4v4.5h-10.4zM1052.8 1775.4h10.4v4.5h-10.4zM1052.8 1810.5h10.4v4.5h-10.4zM1063 1665.9h10.4v4.5h-10.4zM1063 1696.6h10.4v4.5h-10.4zM1063 1709.7h10.4v8.9h-10.4zM1063 1727.2h10.4v2.3h-10.4zM1063 1757.9h10.4v4.5h-10.4zM1073.2 1687.8h10.4v4.5h-10.4zM1073.2 1707.5h10.4v2.3h-10.4zM1073.2 1810.5h10.4v2.3h-10.4zM1083.4 1692.2h10.4v4.5h-10.4zM1103.8 1720.7h10.4v4.5h-10.4zM1185.5 1727.2h10.4v2.3h-10.4z" fill="#d10000"/>
<path d="M1052.8 1696.6h10.4v4.5h-10.4zM1052.8 1771.1h10.4v4.5h-10.4zM1052.8 1786.4h10.4v2.3h-10.4zM1052.8 1830.2h10.4v4.5h-10.4zM1052.8 1845.5h10.4v4.5h-10.4zM1063 1687.8h10.4v4.5h-10.4zM1063 1718.5h10.4v4.5h-10.4zM1063 1779.8h10.4v4.5h-10.4zM1073.2 1832.4h10.4v4.5h-10.4zM1083.4 1687.8h10.4v4.5h-10.4z" fill="#a80000"/>
<path d="M1042.6 1547.6h10.4v6.7h-10.4zM1042.6 1565.1h10.4v13.2h-10.4zM1042.6 1582.6h10.4v6.7h-10.4zM1042.6 1595.8h10.4v335.3h-10.4zM1042.6 1937.6h10.4v11.1h-10.4zM1052.8 1670.3h10.4v4.5h-10.4zM1052.8 1679h10.4v13.2h-10.4zM1052.8 1703.1h10.4v28.6h-10.4zM1052.8 1736h10.4v8.9h-10.4zM1052.8 1753.5h10.4v17.6h-10.4zM1052.8 1782h10.4v4.5h-10.4zM1052.8 1788.6h10.4v11.1h-10.4zM1052.8 1801.7h10.4v8.9h-10.4zM1052.8 1814.9h10.4v4.5h-10.4zM1052.8 1828h10.4v2.3h-10.4zM1052.8 1849.9h10.4v6.7h-10.4zM1052.8 1860.9h10.4v4.5h-10.4zM1052.8 1867.5h10.4v4.5h-10.4zM1052.8 1874h10.4v4.5h-10.4zM1052.8 1893.7h10.4v4.5h-10.4zM1063 1670.3h10.4v8.9h-10.4zM1063 1692.2h10.4v4.5h-10.4zM1063 1705.3h10.4v4.5h-10.4zM1063 1744.8h10.4v4.5h-10.4zM1063 1764.5h10.4v2.3h-10.4zM1063 1810.5h10.4v8.9h-10.4zM1063 1821.4h10.4v4.5h-10.4zM1073.2 1674.7h10.4v8.9h-10.4z" fill="#800000"/>
</g>
<rect x="1057.5" y="1414.5" width="70.5" height="70" fill="#fff"/>
<text x="1087" y="1458.6" font-family="Liberation Sans, sans-serif" font-weight="bold" font-size="33" text-anchor="start" fill="#000" stroke="#000" stroke-width="0.6" stroke-linejoin="round">f</text>
<linearGradient id="jetg" x1="0" y1="0" x2="0" y2="1"><stop offset="0%" stop-color="#800000"/><stop offset="3.1%" stop-color="#9f0000"/><stop offset="6.2%" stop-color="#bf0000"/><stop offset="9.4%" stop-color="#df0000"/><stop offset="12.5%" stop-color="#ff0000"/><stop offset="15.6%" stop-color="#ff2000"/><stop offset="18.8%" stop-color="#ff4000"/><stop offset="21.9%" stop-color="#ff6000"/><stop offset="25%" stop-color="#ff8000"/><stop offset="28.1%" stop-color="#ff9f00"/><stop offset="31.2%" stop-color="#ffbf00"/><stop offset="34.4%" stop-color="#ffdf00"/><stop offset="37.5%" stop-color="#ffff00"/><stop offset="40.6%" stop-color="#dfff20"/><stop offset="43.8%" stop-color="#bfff40"/><stop offset="46.9%" stop-color="#9fff60"/><stop offset="50%" stop-color="#80ff80"/><stop offset="53.1%" stop-color="#60ff9f"/><stop offset="56.2%" stop-color="#40ffbf"/><stop offset="59.4%" stop-color="#20ffdf"/><stop offset="62.5%" stop-color="#00ffff"/><stop offset="65.6%" stop-color="#00dfff"/><stop offset="68.8%" stop-color="#00bfff"/><stop offset="71.9%" stop-color="#009fff"/><stop offset="75%" stop-color="#0080ff"/><stop offset="78.1%" stop-color="#0060ff"/><stop offset="81.2%" stop-color="#0040ff"/><stop offset="84.4%" stop-color="#0020ff"/><stop offset="87.5%" stop-color="#0000ff"/><stop offset="90.6%" stop-color="#0000df"/><stop offset="93.8%" stop-color="#0000bf"/><stop offset="96.9%" stop-color="#00009f"/><stop offset="100%" stop-color="#000080"/></linearGradient>
<rect x="1685.4" y="1403.2" width="34.2" height="548.7" fill="url(#jetg)" stroke="#000" stroke-opacity="0.35" stroke-width="0.8"/>
<path d="M1719.6 1897h-5M1719.6 1842.2h-5M1719.6 1787.3h-5M1719.6 1732.4h-5M1719.6 1677.6h-5M1719.6 1622.7h-5M1719.6 1567.8h-5M1719.6 1512.9h-5M1719.6 1458.1h-5" stroke="#3a3a3a" stroke-width="1" fill="none"/>
<text x="1727.7" y="1961.3" font-family="DejaVu Sans, sans-serif" font-weight="bold" font-size="24.5" text-anchor="start" fill="#262626">0</text>
<text x="1727.7" y="1906.4" font-family="DejaVu Sans, sans-serif" font-weight="bold" font-size="24.5" text-anchor="start" fill="#262626">5</text>
<text x="1727.7" y="1851.6" font-family="DejaVu Sans, sans-serif" font-weight="bold" font-size="24.5" text-anchor="start" fill="#262626">10</text>
<text x="1727.7" y="1796.7" font-family="DejaVu Sans, sans-serif" font-weight="bold" font-size="24.5" text-anchor="start" fill="#262626">15</text>
<text x="1727.7" y="1741.8" font-family="DejaVu Sans, sans-serif" font-weight="bold" font-size="24.5" text-anchor="start" fill="#262626">20</text>
<text x="1727.7" y="1687" font-family="DejaVu Sans, sans-serif" font-weight="bold" font-size="24.5" text-anchor="start" fill="#262626">25</text>
<text x="1727.7" y="1632.1" font-family="DejaVu Sans, sans-serif" font-weight="bold" font-size="24.5" text-anchor="start" fill="#262626">30</text>
<text x="1727.7" y="1577.2" font-family="DejaVu Sans, sans-serif" font-weight="bold" font-size="24.5" text-anchor="start" fill="#262626">35</text>
<text x="1727.7" y="1522.3" font-family="DejaVu Sans, sans-serif" font-weight="bold" font-size="24.5" text-anchor="start" fill="#262626">40</text>
<text x="1727.7" y="1467.5" font-family="DejaVu Sans, sans-serif" font-weight="bold" font-size="24.5" text-anchor="start" fill="#262626">45</text>
<text x="1727.7" y="1412.6" font-family="DejaVu Sans, sans-serif" font-weight="bold" font-size="24.5" text-anchor="start" fill="#262626">50</text>
<text transform="translate(1803.6 1675.3) rotate(-90)" font-family="Liberation Sans, sans-serif" font-weight="bold" font-size="29" text-anchor="middle" fill="#000" stroke="#000" stroke-width="0.6" stroke-linejoin="round">(%)</text>
<text x="1033.3" y="1413.9" font-family="DejaVu Sans, sans-serif" font-weight="bold" font-size="24.5" text-anchor="end" fill="#262626">-25</text>
<text x="1033.3" y="1468.6" font-family="DejaVu Sans, sans-serif" font-weight="bold" font-size="24.5" text-anchor="end" fill="#262626">-20</text>
<text x="1033.3" y="1523.4" font-family="DejaVu Sans, sans-serif" font-weight="bold" font-size="24.5" text-anchor="end" fill="#262626">-15</text>
<text x="1033.3" y="1578.1" font-family="DejaVu Sans, sans-serif" font-weight="bold" font-size="24.5" text-anchor="end" fill="#262626">-10</text>
<text x="1033.3" y="1632.9" font-family="DejaVu Sans, sans-serif" font-weight="bold" font-size="24.5" text-anchor="end" fill="#262626">-5</text>
<text x="1033.3" y="1687.6" font-family="DejaVu Sans, sans-serif" font-weight="bold" font-size="24.5" text-anchor="end" fill="#262626">0</text>
<text x="1033.3" y="1742.4" font-family="DejaVu Sans, sans-serif" font-weight="bold" font-size="24.5" text-anchor="end" fill="#262626">5</text>
<text x="1033.3" y="1797.1" font-family="DejaVu Sans, sans-serif" font-weight="bold" font-size="24.5" text-anchor="end" fill="#262626">10</text>
<text x="1033.3" y="1851.9" font-family="DejaVu Sans, sans-serif" font-weight="bold" font-size="24.5" text-anchor="end" fill="#262626">15</text>
<text x="1033.3" y="1906.6" font-family="DejaVu Sans, sans-serif" font-weight="bold" font-size="24.5" text-anchor="end" fill="#262626">20</text>
<text x="1033.3" y="1961.4" font-family="DejaVu Sans, sans-serif" font-weight="bold" font-size="24.5" text-anchor="end" fill="#262626">25</text>
<text x="1048.4" y="1986.8" font-family="DejaVu Sans, sans-serif" font-weight="bold" font-size="25" text-anchor="middle" fill="#262626">0</text>
<text x="1252.4" y="1986.8" font-family="DejaVu Sans, sans-serif" font-weight="bold" font-size="25" text-anchor="middle" fill="#262626">2</text>
<text x="1456.4" y="1986.8" font-family="DejaVu Sans, sans-serif" font-weight="bold" font-size="25" text-anchor="middle" fill="#262626">4</text>
<text x="1660.4" y="1986.8" font-family="DejaVu Sans, sans-serif" font-weight="bold" font-size="25" text-anchor="middle" fill="#262626">6</text>
<text x="1354.5" y="1394.6" font-family="DejaVu Sans, sans-serif" font-weight="bold" font-size="26.6" text-anchor="middle" fill="#111" textLength="606" lengthAdjust="spacingAndGlyphs">Relative Uncertainty of ANN prediction</text>
<text x="1349.3" y="2018" font-family="Liberation Sans, sans-serif" font-weight="bold" font-size="29.2" text-anchor="middle" fill="#000" stroke="#000" stroke-width="0.6" stroke-linejoin="round" textLength="468.3" lengthAdjust="spacingAndGlyphs"><tspan>Isoprene column (10</tspan><tspan font-size="17.6" dy="-8.6">16</tspan><tspan dy="8.6"> molec/cm</tspan><tspan font-size="17.6" dy="-8.6">2</tspan><tspan dy="8.6">)</tspan></text>
<text transform="translate(971.3 1683.4) rotate(-90)" font-family="Liberation Sans, sans-serif" font-weight="bold" font-size="29.2" text-anchor="middle" fill="#000" stroke="#000" stroke-width="0.6" stroke-linejoin="round" textLength="284.7" lengthAdjust="spacingAndGlyphs">Thermal contrast (K)</text>
</g>
</svg>
</body>
</html>
